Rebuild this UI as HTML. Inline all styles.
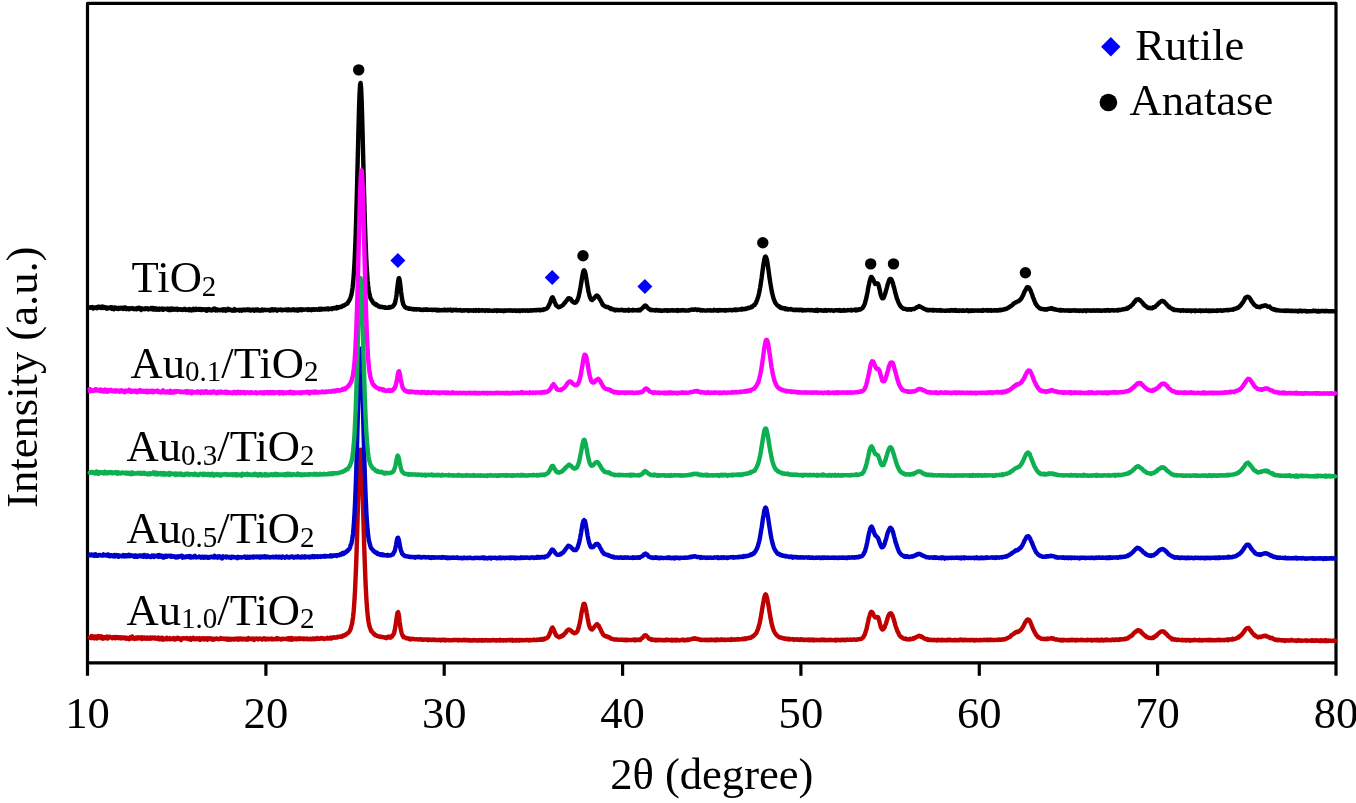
<!DOCTYPE html>
<html lang="en">
<head>
<meta charset="utf-8">
<title>XRD patterns</title>
<style>
html,body{margin:0;padding:0;background:#fff;}
body{width:1356px;height:803px;overflow:hidden;}
svg{display:block;}
</style>
</head>
<body>
<svg width="1356" height="803" viewBox="0 0 1356 803">
<rect x="0" y="0" width="1356" height="803" fill="#ffffff"/>
<g fill="none" stroke="#000" stroke-width="3.2" stroke-linejoin="round" stroke-linecap="butt">
<path d="M87.5 675.8V3.4H1336.0V675.8"/>
<path d="M87.5 662.8H1336.0"/>
<path d="M265.9 662.8V675.8"/>
<path d="M444.2 662.8V675.8"/>
<path d="M622.6 662.8V675.8"/>
<path d="M800.9 662.8V675.8"/>
<path d="M979.3 662.8V675.8"/>
<path d="M1157.6 662.8V675.8"/>
</g>
<g fill="none" stroke-width="4.4" stroke-linejoin="round" stroke-linecap="round">
<path stroke="#000000" d="M89.6 307.6 90.1 307.8 90.6 307.5 91.1 307.2 91.6 307.4 92.1 307.1 92.6 307.7 93.1 308.4 93.6 307.4 94.1 307.4 94.6 308.0 95.1 307.9 95.6 307.8 96.1 307.3 96.6 307.8 97.1 308.2 97.6 307.1 98.1 307.6 98.6 306.8 99.1 307.1 99.6 306.8 100.1 307.7 100.6 307.2 101.1 308.0 101.6 308.0 102.1 307.8 102.6 306.5 103.1 307.6 103.6 307.9 104.1 308.0 104.6 307.1 105.1 307.7 105.6 307.4 106.1 307.5 106.6 308.6 107.1 307.6 107.6 308.0 108.1 308.5 108.6 307.7 109.1 308.0 109.6 308.1 110.1 308.1 110.6 307.4 111.1 308.1 111.6 308.8 112.1 307.3 112.6 308.6 113.1 308.2 113.6 307.8 114.1 309.2 114.6 308.6 115.1 307.5 115.6 308.2 116.1 308.5 116.6 308.1 117.1 308.6 117.6 308.2 118.1 308.6 118.6 309.0 119.1 307.9 119.6 308.4 120.1 308.0 120.6 308.4 121.1 307.7 121.6 308.0 122.1 308.2 122.6 308.8 123.1 309.0 123.6 307.7 124.1 308.0 124.6 308.7 125.1 307.4 125.6 308.2 126.1 308.4 126.6 309.1 127.1 308.8 127.6 308.3 128.1 308.3 128.6 308.4 129.1 309.3 129.6 308.3 130.1 308.4 130.6 308.7 131.1 308.5 131.6 308.4 132.1 308.0 132.6 308.6 133.1 308.4 133.6 309.2 134.1 308.9 134.6 308.6 135.1 309.0 135.6 308.5 136.1 309.2 136.6 308.7 137.1 309.0 137.6 308.0 138.1 308.9 138.6 307.8 139.1 307.7 139.6 308.6 140.1 308.3 140.6 308.8 141.1 309.9 141.6 308.3 142.1 308.5 142.6 308.9 143.1 309.1 143.6 308.7 144.1 308.7 144.6 309.2 145.1 309.1 145.6 308.3 146.1 308.8 146.6 308.9 147.1 308.4 147.6 309.0 148.1 308.5 148.6 309.4 149.1 309.0 149.6 309.0 150.1 308.7 150.6 308.9 151.1 308.0 151.6 308.4 152.1 309.2 152.6 307.9 153.1 309.4 153.6 308.1 154.1 309.4 154.6 308.6 155.1 309.4 155.6 309.1 156.1 308.3 156.6 309.7 157.1 309.8 157.6 309.0 158.1 308.9 158.6 309.0 159.1 308.6 159.6 309.7 160.1 308.8 160.6 309.1 161.1 308.7 161.6 308.8 162.1 308.5 162.6 309.8 163.1 309.1 163.6 309.6 164.1 309.2 164.6 308.8 165.1 309.0 165.6 308.9 166.1 309.2 166.6 309.0 167.1 309.1 167.6 308.6 168.1 308.8 168.6 310.1 169.1 308.9 169.6 308.7 170.1 309.4 170.6 310.0 171.1 308.6 171.6 309.2 172.1 309.0 172.6 308.5 173.1 309.7 173.6 309.3 174.1 309.4 174.6 309.0 175.1 309.6 175.6 309.1 176.1 309.3 176.6 308.8 177.1 308.8 177.6 310.0 178.1 309.1 178.6 309.5 179.1 309.4 179.6 309.2 180.1 309.2 180.6 309.7 181.1 309.3 181.6 309.4 182.1 309.5 182.6 310.0 183.1 309.8 183.6 309.7 184.1 309.2 184.6 308.8 185.1 309.9 185.6 310.0 186.1 309.4 186.6 309.8 187.1 309.9 187.6 309.9 188.1 310.0 188.6 309.3 189.1 310.3 189.6 309.0 190.1 310.0 190.6 309.8 191.1 310.0 191.6 310.5 192.1 310.3 192.6 309.1 193.1 308.8 193.6 310.0 194.1 309.2 194.6 309.6 195.1 310.0 195.6 308.9 196.1 308.7 196.6 309.8 197.1 309.7 197.6 309.6 198.1 309.7 198.6 309.3 199.1 309.0 199.6 309.6 200.1 309.3 200.6 309.0 201.1 310.0 201.6 309.7 202.1 309.9 202.6 309.3 203.1 309.5 203.6 309.3 204.1 309.4 204.6 309.9 205.1 309.4 205.6 310.0 206.1 310.0 206.6 310.7 207.1 309.2 207.6 310.2 208.1 309.8 208.6 309.8 209.1 309.2 209.6 309.7 210.1 310.2 210.6 309.8 211.1 309.9 211.6 309.8 212.1 310.4 212.6 309.9 213.1 309.0 213.6 309.6 214.1 309.1 214.6 308.5 215.1 309.7 215.6 310.5 216.1 309.9 216.6 309.4 217.1 309.5 217.6 310.4 218.1 310.0 218.6 310.0 219.1 309.9 219.6 310.0 220.1 310.3 220.6 310.2 221.1 310.0 221.6 309.5 222.1 310.2 222.6 309.7 223.1 310.4 223.6 309.4 224.1 309.9 224.6 309.9 225.1 309.4 225.6 310.7 226.1 310.5 226.6 309.8 227.1 310.3 227.6 310.1 228.1 308.9 228.6 310.1 229.1 309.9 229.6 310.0 230.1 309.5 230.6 309.8 231.1 309.9 231.6 310.4 232.1 310.1 232.6 310.0 233.1 310.6 233.6 309.7 234.1 309.8 234.6 309.2 235.1 310.6 235.6 310.3 236.1 310.3 236.6 310.2 237.1 310.0 237.6 310.0 238.1 309.9 238.6 309.9 239.1 310.0 239.6 310.6 240.1 310.2 240.6 309.9 241.1 309.7 241.6 309.7 242.1 310.6 242.6 310.2 243.1 310.0 243.6 309.8 244.1 309.5 244.6 309.9 245.1 310.3 245.6 309.8 246.1 309.9 246.6 309.9 247.1 310.0 247.6 309.4 248.1 309.9 248.6 309.6 249.1 310.3 249.6 309.7 250.1 310.2 250.6 310.5 251.1 309.9 251.6 309.7 252.1 310.0 252.6 310.0 253.1 309.6 253.6 310.1 254.1 310.7 254.6 309.9 255.1 309.9 255.6 309.6 256.1 310.1 256.6 309.5 257.1 309.6 257.6 310.4 258.1 309.6 258.6 310.4 259.1 310.5 259.6 310.1 260.1 310.2 260.6 310.7 261.1 309.9 261.6 309.8 262.1 309.5 262.6 310.0 263.1 310.5 263.6 310.3 264.1 309.6 264.6 309.7 265.1 309.8 265.6 310.1 266.1 309.9 266.6 310.0 267.1 310.1 267.6 309.9 268.1 310.0 268.6 310.0 269.1 309.9 269.6 310.1 270.1 310.6 270.6 310.2 271.1 310.0 271.6 309.4 272.1 310.1 272.6 309.3 273.1 309.5 273.6 310.3 274.1 310.2 274.6 309.9 275.1 309.4 275.6 309.8 276.1 309.7 276.6 310.2 277.1 310.7 277.6 310.0 278.1 309.7 278.6 309.6 279.1 309.9 279.6 309.9 280.1 309.6 280.6 310.0 281.1 309.6 281.6 310.3 282.1 310.3 282.6 310.3 283.1 309.8 283.6 310.1 284.1 309.9 284.6 309.8 285.1 309.8 285.6 309.5 286.1 309.5 286.6 310.2 287.1 309.9 287.6 310.0 288.1 310.3 288.6 309.4 289.1 309.7 289.6 310.0 290.1 310.0 290.6 309.8 291.1 310.2 291.6 310.0 292.1 309.5 292.6 309.6 293.1 310.1 293.6 310.0 294.1 309.3 294.6 310.3 295.1 310.1 295.6 310.3 296.1 309.7 296.6 309.8 297.1 309.5 297.6 310.6 298.1 309.8 298.6 310.3 299.1 309.6 299.6 309.9 300.1 309.3 300.6 309.7 301.1 310.1 301.6 309.4 302.1 310.1 302.6 309.9 303.1 309.4 303.6 309.6 304.1 309.6 304.6 309.7 305.1 309.6 305.6 309.5 306.1 309.6 306.6 309.4 307.1 309.3 307.6 309.7 308.1 310.0 308.6 309.2 309.1 309.7 309.6 309.5 310.1 309.4 310.6 309.9 311.1 309.5 311.6 310.1 312.1 309.4 312.6 309.7 313.1 309.5 313.6 309.3 314.1 309.7 314.6 309.5 315.1 309.7 315.6 309.5 316.1 309.2 316.6 309.4 317.1 309.5 317.6 309.7 318.1 309.2 318.6 309.4 319.1 308.9 319.6 309.6 320.1 309.0 320.6 308.8 321.1 309.3 321.6 309.6 322.1 308.8 322.6 308.9 323.1 309.0 323.6 308.9 324.1 309.3 324.6 308.9 325.1 308.9 325.6 309.2 326.1 308.8 326.6 309.1 327.1 308.7 327.6 308.6 328.1 308.4 328.6 309.4 329.1 308.7 329.6 308.9 330.1 308.7 330.6 308.7 331.1 308.7 331.6 309.1 332.1 308.3 332.6 308.1 333.1 308.1 333.6 308.0 334.1 308.5 334.6 308.4 335.1 307.9 335.6 307.7 336.1 307.9 336.6 308.3 337.1 307.0 337.6 307.8 338.1 307.3 338.6 307.8 339.1 307.1 339.6 307.1 340.1 306.7 340.6 306.7 341.1 307.1 341.6 306.8 342.1 306.3 342.6 306.0 343.1 305.5 343.6 305.6 344.1 305.5 344.6 305.2 345.1 304.9 345.6 304.3 346.1 304.2 346.6 303.8 347.1 303.7 347.6 303.3 348.1 302.2 348.6 301.4 349.1 300.8 349.6 299.8 350.1 298.7 350.6 297.5 351.1 295.6 351.6 293.9 352.1 290.9 352.6 287.5 353.1 282.8 353.6 276.9 354.1 269.5 354.6 260.6 355.1 249.5 355.6 236.5 356.1 221.1 356.6 203.4 357.1 184.8 357.6 164.2 358.1 143.8 358.6 124.2 359.1 106.1 359.6 93.0 360.1 84.7 360.6 82.9 361.1 87.9 361.6 99.1 362.1 114.8 362.6 133.8 363.1 154.0 363.6 174.7 364.1 194.1 364.6 212.7 365.1 229.0 365.6 243.2 366.1 255.2 366.6 265.5 367.1 273.1 367.6 280.2 368.1 285.3 368.6 289.3 369.1 292.4 369.6 294.6 370.1 296.6 370.6 298.3 371.1 299.4 371.6 300.3 372.1 300.7 372.6 301.9 373.1 302.7 373.6 303.2 374.1 303.5 374.6 303.5 375.1 304.5 375.6 304.5 376.1 304.3 376.6 305.3 377.1 305.1 377.6 305.3 378.1 305.7 378.6 306.4 379.1 306.2 379.6 306.5 380.1 307.0 380.6 307.1 381.1 306.8 381.6 306.9 382.1 306.8 382.6 307.0 383.1 307.3 383.6 307.4 384.1 307.4 384.6 307.7 385.1 307.3 385.6 307.5 386.1 307.7 386.6 307.7 387.1 307.9 387.6 307.7 388.1 307.5 388.6 307.7 389.1 307.3 389.6 307.1 390.1 307.6 390.6 307.3 391.1 307.3 391.6 306.7 392.1 306.8 392.6 306.5 393.1 306.1 393.6 305.2 394.1 304.9 394.6 304.1 395.1 302.5 395.6 300.2 396.1 297.6 396.6 294.3 397.1 289.4 397.6 285.5 398.1 281.5 398.6 278.6 399.1 278.1 399.6 279.7 400.1 283.2 400.6 287.6 401.1 292.1 401.6 295.7 402.1 299.0 402.6 301.8 403.1 303.9 403.6 304.8 404.1 305.8 404.6 306.5 405.1 307.3 405.6 307.3 406.1 308.0 406.6 307.7 407.1 308.0 407.6 308.2 408.1 308.5 408.6 308.7 409.1 308.3 409.6 308.5 410.1 308.8 410.6 308.7 411.1 308.6 411.6 309.2 412.1 309.1 412.6 309.2 413.1 309.0 413.6 309.4 414.1 309.1 414.6 309.5 415.1 309.1 415.6 309.1 416.1 309.4 416.6 309.2 417.1 309.5 417.6 309.4 418.1 309.2 418.6 309.4 419.1 309.4 419.6 309.7 420.1 309.3 420.6 309.4 421.1 309.8 421.6 310.0 422.1 310.0 422.6 309.6 423.1 309.6 423.6 309.9 424.1 309.6 424.6 309.4 425.1 309.7 425.6 309.8 426.1 309.5 426.6 309.3 427.1 309.4 427.6 309.9 428.1 309.6 428.6 309.7 429.1 309.8 429.6 309.9 430.1 309.7 430.6 309.9 431.1 309.6 431.6 309.7 432.1 309.6 432.6 310.1 433.1 309.8 433.6 309.7 434.1 309.8 434.6 309.8 435.1 310.0 435.6 309.6 436.1 309.7 436.6 309.8 437.1 310.5 437.6 310.1 438.1 309.9 438.6 310.1 439.1 310.4 439.6 309.9 440.1 309.9 440.6 310.3 441.1 310.1 441.6 310.2 442.1 309.9 442.6 310.4 443.1 310.4 443.6 310.2 444.1 310.2 444.6 309.6 445.1 310.2 445.6 310.0 446.1 310.2 446.6 310.2 447.1 310.0 447.6 309.7 448.1 310.2 448.6 310.0 449.1 310.1 449.6 310.0 450.1 310.1 450.6 309.7 451.1 310.4 451.6 310.2 452.1 310.4 452.6 310.6 453.1 310.2 453.6 309.8 454.1 310.0 454.6 310.0 455.1 310.1 455.6 310.2 456.1 309.8 456.6 310.3 457.1 309.9 457.6 310.3 458.1 310.2 458.6 310.2 459.1 310.3 459.6 310.2 460.1 310.1 460.6 309.9 461.1 310.3 461.6 310.7 462.1 310.7 462.6 310.6 463.1 310.5 463.6 310.2 464.1 310.6 464.6 310.3 465.1 310.3 465.6 310.3 466.1 310.4 466.6 310.3 467.1 310.3 467.6 310.1 468.1 310.3 468.6 310.9 469.1 310.4 469.6 310.3 470.1 310.5 470.6 310.6 471.1 310.2 471.6 310.4 472.1 310.6 472.6 310.5 473.1 310.5 473.6 310.8 474.1 310.3 474.6 310.5 475.1 310.3 475.6 310.8 476.1 310.1 476.6 310.3 477.1 310.4 477.6 310.6 478.1 310.6 478.6 310.8 479.1 310.2 479.6 310.7 480.1 310.4 480.6 310.4 481.1 310.6 481.6 310.3 482.1 310.1 482.6 310.5 483.1 310.2 483.6 310.4 484.1 310.6 484.6 310.6 485.1 310.9 485.6 310.5 486.1 310.2 486.6 310.4 487.1 310.4 487.6 310.3 488.1 310.7 488.6 310.5 489.1 310.2 489.6 310.7 490.1 310.6 490.6 310.7 491.1 310.6 491.6 310.7 492.1 310.6 492.6 310.9 493.1 310.7 493.6 310.7 494.1 310.7 494.6 310.3 495.1 310.6 495.6 310.6 496.1 310.7 496.6 310.4 497.1 311.0 497.6 310.7 498.1 310.4 498.6 310.3 499.1 310.6 499.6 310.7 500.1 310.5 500.6 310.7 501.1 310.5 501.6 310.8 502.1 310.5 502.6 310.7 503.1 310.9 503.6 311.2 504.1 310.5 504.6 310.6 505.1 310.5 505.6 310.8 506.1 310.4 506.6 310.6 507.1 310.6 507.6 310.4 508.1 310.4 508.6 310.5 509.1 310.2 509.6 310.3 510.1 310.5 510.6 310.7 511.1 310.6 511.6 310.3 512.1 310.5 512.6 310.8 513.1 310.7 513.6 310.6 514.1 310.4 514.6 310.7 515.1 310.5 515.6 310.4 516.1 310.4 516.6 310.9 517.1 310.6 517.6 310.8 518.1 310.5 518.6 310.8 519.1 310.4 519.6 310.5 520.1 311.1 520.6 310.7 521.1 310.4 521.6 310.5 522.1 310.6 522.6 310.8 523.1 310.4 523.6 310.2 524.1 310.4 524.6 310.5 525.1 310.5 525.6 310.7 526.1 310.5 526.6 310.6 527.1 310.2 527.6 310.6 528.1 310.9 528.6 310.6 529.1 310.5 529.6 310.4 530.1 310.7 530.6 310.2 531.1 310.3 531.6 310.4 532.1 310.5 532.6 310.2 533.1 310.4 533.6 310.2 534.1 310.3 534.6 310.2 535.1 310.0 535.6 310.2 536.1 310.4 536.6 310.0 537.1 310.1 537.6 310.2 538.1 309.9 538.6 310.1 539.1 309.8 539.6 310.2 540.1 310.4 540.6 310.3 541.1 309.8 541.6 309.9 542.1 309.8 542.6 309.7 543.1 309.9 543.6 309.2 544.1 309.6 544.6 309.3 545.1 309.4 545.6 309.0 546.1 308.6 546.6 308.5 547.1 308.2 547.6 307.6 548.1 307.0 548.6 306.0 549.1 304.7 549.6 304.1 550.1 302.7 550.6 301.1 551.1 299.6 551.6 298.5 552.1 297.4 552.6 297.3 553.1 298.0 553.6 299.4 554.1 300.2 554.6 302.1 555.1 303.0 555.6 304.0 556.1 305.4 556.6 305.8 557.1 306.0 557.6 306.5 558.1 307.0 558.6 307.2 559.1 306.8 559.6 306.9 560.1 306.9 560.6 306.4 561.1 306.4 561.6 306.0 562.1 305.6 562.6 305.2 563.1 304.9 563.6 304.3 564.1 303.6 564.6 303.0 565.1 302.7 565.6 301.8 566.1 301.2 566.6 300.6 567.1 299.8 567.6 299.6 568.1 298.5 568.6 298.6 569.1 298.3 569.6 298.9 570.1 299.2 570.6 298.9 571.1 299.6 571.6 300.5 572.1 301.1 572.6 301.6 573.1 301.9 573.6 302.3 574.1 302.6 574.6 302.6 575.1 302.8 575.6 302.0 576.1 302.2 576.6 301.3 577.1 300.9 577.6 299.6 578.1 298.1 578.6 296.7 579.1 294.4 579.6 292.0 580.1 289.3 580.6 286.7 581.1 283.7 581.6 280.6 582.1 277.3 582.6 274.7 583.1 272.3 583.6 270.7 584.1 270.3 584.6 270.9 585.1 272.1 585.6 274.3 586.1 277.2 586.6 280.3 587.1 283.3 587.6 286.7 588.1 289.3 588.6 292.0 589.1 294.0 589.6 296.1 590.1 297.5 590.6 298.4 591.1 299.6 591.6 299.7 592.1 300.0 592.6 299.7 593.1 299.0 593.6 298.6 594.1 298.2 594.6 297.5 595.1 297.0 595.6 296.4 596.1 295.8 596.6 295.9 597.1 295.5 597.6 296.2 598.1 296.4 598.6 297.0 599.1 297.9 599.6 298.9 600.1 299.5 600.6 300.4 601.1 301.5 601.6 302.2 602.1 303.3 602.6 304.6 603.1 304.7 603.6 305.6 604.1 305.6 604.6 306.3 605.1 306.4 605.6 306.6 606.1 306.8 606.6 307.1 607.1 306.9 607.6 307.0 608.1 307.0 608.6 307.5 609.1 307.6 609.6 308.1 610.1 308.3 610.6 308.9 611.1 308.4 611.6 309.0 612.1 309.4 612.6 309.3 613.1 309.4 613.6 309.6 614.1 309.5 614.6 309.8 615.1 310.4 615.6 310.1 616.1 309.7 616.6 309.8 617.1 309.9 617.6 310.2 618.1 309.9 618.6 309.9 619.1 310.3 619.6 310.3 620.1 310.1 620.6 309.9 621.1 309.9 621.6 310.0 622.1 309.7 622.6 310.3 623.1 310.1 623.6 310.3 624.1 310.6 624.6 310.5 625.1 310.0 625.6 310.4 626.1 310.5 626.6 310.1 627.1 310.1 627.6 310.2 628.1 309.9 628.6 310.6 629.1 309.8 629.6 310.1 630.1 310.2 630.6 310.2 631.1 310.3 631.6 310.3 632.1 310.2 632.6 310.5 633.1 309.8 633.6 310.3 634.1 310.1 634.6 310.3 635.1 310.3 635.6 310.1 636.1 310.1 636.6 310.4 637.1 310.3 637.6 310.0 638.1 310.5 638.6 310.5 639.1 309.7 639.6 310.0 640.1 310.3 640.6 309.7 641.1 309.3 641.6 308.9 642.1 308.4 642.6 308.0 643.1 307.4 643.6 307.1 644.1 306.3 644.6 305.9 645.1 305.5 645.6 305.8 646.1 305.9 646.6 306.5 647.1 307.3 647.6 307.7 648.1 308.3 648.6 308.7 649.1 309.1 649.6 309.4 650.1 309.6 650.6 310.0 651.1 309.8 651.6 310.3 652.1 310.2 652.6 310.0 653.1 310.1 653.6 310.1 654.1 310.3 654.6 310.2 655.1 310.6 655.6 310.2 656.1 309.9 656.6 310.2 657.1 310.0 657.6 310.4 658.1 310.6 658.6 310.5 659.1 310.1 659.6 310.3 660.1 310.8 660.6 310.5 661.1 310.4 661.6 310.7 662.1 310.9 662.6 310.7 663.1 310.5 663.6 310.5 664.1 310.6 664.6 310.3 665.1 310.3 665.6 310.5 666.1 310.3 666.6 310.5 667.1 310.5 667.6 310.9 668.1 310.3 668.6 310.5 669.1 310.4 669.6 310.6 670.1 310.7 670.6 310.4 671.1 310.3 671.6 310.2 672.1 310.3 672.6 310.6 673.1 310.5 673.6 310.3 674.1 310.4 674.6 310.5 675.1 310.6 675.6 310.4 676.1 310.4 676.6 310.1 677.1 310.2 677.6 310.8 678.1 310.0 678.6 310.4 679.1 310.5 679.6 310.4 680.1 310.3 680.6 310.5 681.1 310.5 681.6 310.4 682.1 310.1 682.6 310.4 683.1 310.3 683.6 310.3 684.1 310.5 684.6 310.6 685.1 310.6 685.6 310.3 686.1 310.6 686.6 310.6 687.1 310.6 687.6 310.6 688.1 310.3 688.6 310.2 689.1 310.4 689.6 309.9 690.1 310.1 690.6 309.9 691.1 309.9 691.6 309.5 692.1 309.6 692.6 309.7 693.1 309.8 693.6 309.8 694.1 309.5 694.6 309.4 695.1 309.3 695.6 309.6 696.1 309.5 696.6 309.7 697.1 310.0 697.6 309.7 698.1 309.5 698.6 309.7 699.1 309.7 699.6 309.8 700.1 310.4 700.6 310.2 701.1 309.9 701.6 310.4 702.1 310.5 702.6 310.2 703.1 310.2 703.6 310.3 704.1 310.4 704.6 310.5 705.1 310.6 705.6 310.6 706.1 310.6 706.6 310.6 707.1 310.5 707.6 310.1 708.1 310.3 708.6 310.4 709.1 310.3 709.6 310.5 710.1 310.3 710.6 310.2 711.1 310.6 711.6 310.5 712.1 310.4 712.6 310.5 713.1 310.6 713.6 310.4 714.1 309.8 714.6 310.2 715.1 310.2 715.6 310.1 716.1 310.4 716.6 310.6 717.1 310.2 717.6 310.1 718.1 310.7 718.6 310.2 719.1 310.0 719.6 310.3 720.1 310.4 720.6 310.1 721.1 310.4 721.6 310.1 722.1 310.1 722.6 310.3 723.1 310.4 723.6 310.1 724.1 310.3 724.6 310.2 725.1 310.7 725.6 310.0 726.1 310.4 726.6 310.1 727.1 310.1 727.6 310.3 728.1 310.3 728.6 310.3 729.1 310.1 729.6 309.9 730.1 309.9 730.6 310.1 731.1 310.1 731.6 310.3 732.1 310.0 732.6 310.2 733.1 310.2 733.6 309.9 734.1 309.6 734.6 309.6 735.1 309.5 735.6 310.1 736.1 309.6 736.6 310.0 737.1 309.8 737.6 310.0 738.1 309.8 738.6 309.6 739.1 309.5 739.6 309.5 740.1 309.5 740.6 309.3 741.1 309.4 741.6 309.7 742.1 308.9 742.6 309.3 743.1 309.0 743.6 309.1 744.1 309.2 744.6 308.9 745.1 309.0 745.6 308.5 746.1 308.9 746.6 308.5 747.1 308.6 747.6 308.4 748.1 307.7 748.6 307.9 749.1 308.0 749.6 308.1 750.1 307.7 750.6 307.5 751.1 306.9 751.6 307.2 752.1 307.0 752.6 306.4 753.1 306.0 753.6 305.3 754.1 305.3 754.6 305.1 755.1 304.1 755.6 303.4 756.1 302.4 756.6 301.0 757.1 300.3 757.6 298.3 758.1 296.9 758.6 295.1 759.1 293.0 759.6 290.5 760.1 287.8 760.6 284.6 761.1 281.2 761.6 278.1 762.1 274.3 762.6 270.5 763.1 266.9 763.6 263.7 764.1 260.5 764.6 258.3 765.1 256.8 765.6 256.6 766.1 257.2 766.6 259.0 767.1 260.6 767.6 263.7 768.1 267.4 768.6 270.8 769.1 274.4 769.6 278.4 770.1 281.5 770.6 284.5 771.1 287.5 771.6 290.5 772.1 292.9 772.6 294.8 773.1 296.7 773.6 298.7 774.1 300.1 774.6 301.1 775.1 302.4 775.6 303.3 776.1 303.6 776.6 304.5 777.1 305.2 777.6 305.5 778.1 305.6 778.6 306.3 779.1 306.8 779.6 307.3 780.1 306.8 780.6 307.9 781.1 307.4 781.6 308.0 782.1 308.2 782.6 308.3 783.1 308.3 783.6 308.1 784.1 308.6 784.6 308.4 785.1 308.2 785.6 309.3 786.1 309.0 786.6 309.3 787.1 308.8 787.6 309.4 788.1 309.5 788.6 309.5 789.1 309.3 789.6 309.1 790.1 309.4 790.6 309.0 791.1 309.1 791.6 309.5 792.1 309.4 792.6 309.6 793.1 309.6 793.6 310.1 794.1 310.0 794.6 309.7 795.1 310.0 795.6 309.6 796.1 309.8 796.6 310.0 797.1 309.6 797.6 309.8 798.1 309.7 798.6 310.0 799.1 310.3 799.6 309.8 800.1 310.1 800.6 309.8 801.1 309.8 801.6 309.8 802.1 310.4 802.6 310.6 803.1 310.2 803.6 310.0 804.1 310.3 804.6 310.1 805.1 310.3 805.6 310.2 806.1 310.2 806.6 310.3 807.1 310.1 807.6 310.1 808.1 309.9 808.6 310.1 809.1 310.0 809.6 310.2 810.1 310.1 810.6 310.3 811.1 310.4 811.6 310.0 812.1 310.1 812.6 310.1 813.1 310.4 813.6 310.6 814.1 310.5 814.6 310.2 815.1 310.6 815.6 310.0 816.1 310.6 816.6 310.2 817.1 309.8 817.6 310.9 818.1 310.7 818.6 310.1 819.1 310.4 819.6 310.3 820.1 310.4 820.6 310.1 821.1 310.2 821.6 310.5 822.1 310.4 822.6 310.6 823.1 310.4 823.6 310.8 824.1 310.2 824.6 310.4 825.1 310.0 825.6 310.1 826.1 310.7 826.6 310.2 827.1 310.5 827.6 310.4 828.1 310.2 828.6 310.3 829.1 310.3 829.6 310.3 830.1 310.5 830.6 310.5 831.1 310.3 831.6 310.2 832.1 310.4 832.6 310.4 833.1 310.6 833.6 310.9 834.1 310.6 834.6 310.4 835.1 310.3 835.6 310.2 836.1 310.2 836.6 310.2 837.1 310.3 837.6 310.3 838.1 310.5 838.6 310.3 839.1 310.3 839.6 310.1 840.1 310.7 840.6 310.4 841.1 310.7 841.6 310.5 842.1 310.6 842.6 310.3 843.1 310.5 843.6 310.8 844.1 310.1 844.6 310.5 845.1 310.6 845.6 310.4 846.1 310.4 846.6 310.5 847.1 310.1 847.6 310.3 848.1 310.0 848.6 310.1 849.1 310.1 849.6 310.2 850.1 310.2 850.6 310.2 851.1 309.8 851.6 310.5 852.1 310.3 852.6 310.2 853.1 310.0 853.6 310.0 854.1 310.1 854.6 310.1 855.1 309.6 855.6 310.1 856.1 310.5 856.6 309.5 857.1 310.0 857.6 309.8 858.1 309.7 858.6 309.9 859.1 309.3 859.6 309.5 860.1 309.6 860.6 309.1 861.1 308.8 861.6 308.7 862.1 308.2 862.6 308.1 863.1 307.0 863.6 306.6 864.1 305.2 864.6 304.4 865.1 302.7 865.6 300.5 866.1 299.0 866.6 296.5 867.1 294.2 867.6 291.9 868.1 288.7 868.6 286.0 869.1 283.9 869.6 281.3 870.1 279.7 870.6 278.0 871.1 277.0 871.6 277.0 872.1 277.6 872.6 278.4 873.1 279.4 873.6 280.7 874.1 281.8 874.6 282.7 875.1 283.9 875.6 283.7 876.1 283.4 876.6 283.3 877.1 283.3 877.6 283.4 878.1 284.0 878.6 285.3 879.1 287.4 879.6 289.4 880.1 291.8 880.6 294.4 881.1 295.9 881.6 297.3 882.1 298.3 882.6 298.4 883.1 298.1 883.6 297.9 884.1 296.7 884.6 295.2 885.1 294.0 885.6 292.2 886.1 290.2 886.6 288.6 887.1 286.7 887.6 284.5 888.1 283.2 888.6 281.7 889.1 280.4 889.6 279.2 890.1 279.0 890.6 278.9 891.1 279.2 891.6 279.7 892.1 281.2 892.6 282.2 893.1 284.0 893.6 286.2 894.1 287.7 894.6 289.7 895.1 292.0 895.6 293.6 896.1 295.5 896.6 297.3 897.1 299.1 897.6 299.9 898.1 301.5 898.6 302.7 899.1 303.7 899.6 304.7 900.1 305.5 900.6 306.4 901.1 306.7 901.6 307.4 902.1 307.8 902.6 307.9 903.1 308.4 903.6 308.9 904.1 308.8 904.6 308.8 905.1 309.0 905.6 309.0 906.1 309.3 906.6 309.5 907.1 309.2 907.6 309.4 908.1 309.7 908.6 309.4 909.1 309.5 909.6 309.3 910.1 309.3 910.6 309.3 911.1 309.8 911.6 309.3 912.1 309.2 912.6 309.1 913.1 309.0 913.6 309.0 914.1 308.7 914.6 308.9 915.1 308.3 915.6 308.3 916.1 307.8 916.6 307.6 917.1 306.9 917.6 306.9 918.1 306.7 918.6 306.6 919.1 306.1 919.6 306.8 920.1 306.6 920.6 306.8 921.1 307.1 921.6 307.4 922.1 307.8 922.6 307.8 923.1 308.1 923.6 308.7 924.1 308.9 924.6 309.0 925.1 309.2 925.6 309.3 926.1 309.6 926.6 310.0 927.1 309.7 927.6 310.3 928.1 310.2 928.6 310.0 929.1 310.3 929.6 309.9 930.1 309.9 930.6 310.0 931.1 310.2 931.6 310.2 932.1 310.2 932.6 310.4 933.1 309.9 933.6 310.5 934.1 310.1 934.6 310.3 935.1 310.3 935.6 310.2 936.1 310.2 936.6 310.2 937.1 310.5 937.6 310.6 938.1 310.6 938.6 310.3 939.1 310.3 939.6 310.3 940.1 310.6 940.6 310.1 941.1 310.8 941.6 310.4 942.1 310.4 942.6 310.6 943.1 310.7 943.6 310.6 944.1 310.7 944.6 310.6 945.1 310.8 945.6 310.8 946.1 310.5 946.6 310.8 947.1 310.6 947.6 310.6 948.1 310.4 948.6 310.5 949.1 310.7 949.6 310.3 950.1 310.7 950.6 310.6 951.1 310.6 951.6 310.1 952.1 310.6 952.6 310.7 953.1 310.4 953.6 310.6 954.1 310.1 954.6 310.7 955.1 310.5 955.6 310.8 956.1 310.2 956.6 310.7 957.1 310.5 957.6 310.8 958.1 310.4 958.6 310.5 959.1 311.0 959.6 310.4 960.1 310.5 960.6 310.5 961.1 310.4 961.6 310.8 962.1 310.9 962.6 310.5 963.1 310.3 963.6 310.8 964.1 310.8 964.6 310.8 965.1 310.8 965.6 310.4 966.1 310.6 966.6 310.3 967.1 310.3 967.6 310.8 968.1 310.5 968.6 311.1 969.1 310.6 969.6 310.5 970.1 310.8 970.6 311.0 971.1 310.7 971.6 310.3 972.1 310.7 972.6 310.9 973.1 310.5 973.6 310.4 974.1 310.8 974.6 310.6 975.1 310.4 975.6 310.5 976.1 310.4 976.6 310.6 977.1 310.6 977.6 310.8 978.1 310.7 978.6 310.2 979.1 310.6 979.6 310.7 980.1 310.6 980.6 310.7 981.1 310.4 981.6 310.3 982.1 310.7 982.6 310.3 983.1 310.1 983.6 310.7 984.1 310.4 984.6 310.4 985.1 310.2 985.6 310.2 986.1 310.3 986.6 310.4 987.1 310.6 987.6 310.0 988.1 310.6 988.6 310.2 989.1 310.2 989.6 310.6 990.1 310.4 990.6 310.1 991.1 310.8 991.6 310.2 992.1 310.4 992.6 310.4 993.1 310.6 993.6 310.3 994.1 310.5 994.6 310.2 995.1 310.5 995.6 310.1 996.1 310.2 996.6 310.6 997.1 310.3 997.6 310.2 998.1 310.6 998.6 310.2 999.1 310.0 999.6 310.2 1000.1 309.8 1000.6 310.2 1001.1 310.2 1001.6 309.8 1002.1 309.7 1002.6 309.8 1003.1 309.7 1003.6 309.4 1004.1 309.6 1004.6 309.0 1005.1 309.2 1005.6 309.1 1006.1 308.9 1006.6 308.8 1007.1 308.3 1007.6 308.4 1008.1 308.0 1008.6 307.6 1009.1 307.1 1009.6 306.8 1010.1 306.8 1010.6 306.1 1011.1 305.9 1011.6 305.7 1012.1 305.2 1012.6 304.9 1013.1 304.1 1013.6 303.5 1014.1 303.5 1014.6 303.0 1015.1 302.9 1015.6 302.3 1016.1 302.3 1016.6 302.0 1017.1 301.8 1017.6 301.5 1018.1 301.3 1018.6 301.0 1019.1 300.7 1019.6 300.5 1020.1 299.7 1020.6 299.6 1021.1 298.6 1021.6 298.1 1022.1 297.0 1022.6 296.0 1023.1 295.4 1023.6 293.9 1024.1 292.6 1024.6 291.5 1025.1 290.5 1025.6 290.0 1026.1 288.7 1026.6 288.0 1027.1 287.1 1027.6 287.1 1028.1 287.1 1028.6 287.6 1029.1 287.6 1029.6 288.7 1030.1 289.6 1030.6 290.5 1031.1 292.0 1031.6 293.3 1032.1 294.2 1032.6 296.2 1033.1 297.6 1033.6 298.7 1034.1 299.8 1034.6 301.5 1035.1 302.4 1035.6 303.5 1036.1 304.5 1036.6 304.9 1037.1 305.9 1037.6 306.3 1038.1 306.9 1038.6 307.3 1039.1 307.7 1039.6 308.3 1040.1 308.4 1040.6 308.6 1041.1 308.7 1041.6 309.0 1042.1 308.9 1042.6 309.1 1043.1 309.2 1043.6 309.2 1044.1 309.3 1044.6 309.2 1045.1 309.7 1045.6 309.6 1046.1 309.3 1046.6 309.2 1047.1 309.5 1047.6 309.1 1048.1 308.9 1048.6 308.8 1049.1 308.7 1049.6 308.8 1050.1 308.4 1050.6 308.8 1051.1 308.2 1051.6 308.5 1052.1 308.3 1052.6 309.0 1053.1 308.7 1053.6 308.9 1054.1 309.3 1054.6 309.5 1055.1 309.2 1055.6 309.5 1056.1 309.4 1056.6 309.8 1057.1 309.9 1057.6 309.9 1058.1 310.0 1058.6 310.1 1059.1 310.1 1059.6 310.4 1060.1 310.6 1060.6 309.9 1061.1 310.3 1061.6 310.3 1062.1 310.5 1062.6 310.2 1063.1 310.4 1063.6 310.2 1064.1 310.6 1064.6 310.5 1065.1 310.4 1065.6 310.6 1066.1 310.4 1066.6 310.2 1067.1 310.6 1067.6 310.6 1068.1 310.5 1068.6 310.7 1069.1 310.8 1069.6 310.3 1070.1 310.4 1070.6 310.9 1071.1 310.8 1071.6 310.4 1072.1 310.3 1072.6 310.4 1073.1 310.5 1073.6 310.3 1074.1 310.6 1074.6 310.3 1075.1 310.3 1075.6 310.8 1076.1 310.4 1076.6 310.6 1077.1 310.7 1077.6 310.8 1078.1 310.5 1078.6 310.6 1079.1 310.4 1079.6 310.9 1080.1 310.7 1080.6 310.4 1081.1 310.6 1081.6 310.7 1082.1 310.7 1082.6 311.0 1083.1 310.9 1083.6 310.5 1084.1 310.6 1084.6 310.3 1085.1 310.7 1085.6 310.6 1086.1 311.1 1086.6 310.6 1087.1 310.2 1087.6 310.5 1088.1 310.6 1088.6 310.4 1089.1 310.4 1089.6 310.5 1090.1 310.7 1090.6 310.6 1091.1 310.4 1091.6 310.8 1092.1 310.5 1092.6 310.5 1093.1 310.3 1093.6 310.4 1094.1 310.7 1094.6 310.3 1095.1 310.6 1095.6 310.7 1096.1 310.5 1096.6 310.6 1097.1 310.3 1097.6 310.8 1098.1 310.8 1098.6 310.6 1099.1 310.2 1099.6 310.3 1100.1 310.7 1100.6 310.9 1101.1 310.6 1101.6 310.8 1102.1 310.4 1102.6 310.5 1103.1 310.5 1103.6 310.6 1104.1 310.2 1104.6 310.7 1105.1 310.8 1105.6 310.3 1106.1 310.2 1106.6 310.5 1107.1 310.3 1107.6 310.0 1108.1 310.6 1108.6 310.5 1109.1 310.3 1109.6 310.8 1110.1 310.4 1110.6 310.2 1111.1 310.4 1111.6 310.1 1112.1 310.2 1112.6 310.4 1113.1 310.2 1113.6 310.2 1114.1 310.6 1114.6 310.4 1115.1 310.4 1115.6 310.3 1116.1 310.3 1116.6 310.4 1117.1 310.1 1117.6 310.5 1118.1 309.9 1118.6 310.0 1119.1 309.7 1119.6 309.9 1120.1 310.0 1120.6 310.1 1121.1 309.7 1121.6 309.7 1122.1 309.6 1122.6 309.4 1123.1 309.3 1123.6 309.4 1124.1 309.0 1124.6 309.2 1125.1 309.1 1125.6 308.8 1126.1 308.6 1126.6 308.3 1127.1 308.8 1127.6 307.9 1128.1 308.2 1128.6 307.8 1129.1 307.3 1129.6 306.8 1130.1 306.8 1130.6 306.6 1131.1 305.6 1131.6 305.2 1132.1 305.0 1132.6 304.3 1133.1 304.0 1133.6 302.9 1134.1 302.6 1134.6 301.6 1135.1 301.7 1135.6 300.5 1136.1 299.7 1136.6 299.7 1137.1 299.4 1137.6 299.6 1138.1 299.1 1138.6 299.2 1139.1 299.6 1139.6 300.1 1140.1 300.2 1140.6 300.9 1141.1 301.3 1141.6 301.8 1142.1 302.4 1142.6 303.0 1143.1 303.4 1143.6 304.4 1144.1 304.4 1144.6 305.4 1145.1 305.8 1145.6 306.0 1146.1 306.3 1146.6 306.7 1147.1 307.2 1147.6 307.5 1148.1 307.6 1148.6 308.0 1149.1 307.8 1149.6 308.1 1150.1 307.8 1150.6 308.3 1151.1 308.2 1151.6 308.0 1152.1 308.3 1152.6 308.0 1153.1 307.2 1153.6 307.5 1154.1 307.0 1154.6 307.2 1155.1 307.1 1155.6 306.1 1156.1 305.8 1156.6 305.3 1157.1 304.9 1157.6 304.4 1158.1 304.1 1158.6 303.1 1159.1 303.1 1159.6 302.2 1160.1 302.0 1160.6 301.8 1161.1 301.4 1161.6 300.9 1162.1 300.9 1162.6 301.0 1163.1 301.2 1163.6 301.6 1164.1 301.5 1164.6 302.2 1165.1 302.7 1165.6 303.2 1166.1 303.7 1166.6 304.5 1167.1 304.9 1167.6 305.5 1168.1 306.0 1168.6 306.7 1169.1 306.5 1169.6 307.6 1170.1 307.7 1170.6 308.0 1171.1 308.2 1171.6 308.4 1172.1 308.9 1172.6 309.1 1173.1 309.5 1173.6 309.3 1174.1 310.1 1174.6 309.9 1175.1 309.9 1175.6 309.9 1176.1 310.0 1176.6 310.0 1177.1 310.2 1177.6 310.3 1178.1 310.3 1178.6 310.1 1179.1 310.4 1179.6 310.3 1180.1 310.5 1180.6 310.9 1181.1 310.6 1181.6 310.5 1182.1 310.2 1182.6 310.3 1183.1 310.2 1183.6 310.7 1184.1 310.4 1184.6 310.6 1185.1 310.5 1185.6 310.6 1186.1 310.9 1186.6 310.5 1187.1 310.6 1187.6 310.5 1188.1 310.8 1188.6 310.4 1189.1 310.4 1189.6 310.4 1190.1 310.4 1190.6 310.8 1191.1 311.2 1191.6 310.5 1192.1 310.9 1192.6 310.7 1193.1 310.5 1193.6 310.6 1194.1 310.7 1194.6 310.6 1195.1 311.1 1195.6 310.3 1196.1 310.8 1196.6 310.8 1197.1 310.6 1197.6 310.7 1198.1 310.9 1198.6 310.7 1199.1 310.8 1199.6 310.9 1200.1 310.3 1200.6 311.0 1201.1 311.2 1201.6 310.9 1202.1 310.9 1202.6 310.4 1203.1 310.7 1203.6 310.6 1204.1 310.6 1204.6 310.9 1205.1 310.6 1205.6 310.7 1206.1 310.3 1206.6 310.7 1207.1 310.7 1207.6 310.6 1208.1 310.6 1208.6 311.1 1209.1 310.4 1209.6 310.5 1210.1 310.5 1210.6 310.9 1211.1 311.1 1211.6 310.7 1212.1 310.5 1212.6 310.6 1213.1 310.9 1213.6 310.5 1214.1 310.9 1214.6 310.9 1215.1 310.6 1215.6 310.7 1216.1 310.7 1216.6 310.9 1217.1 310.4 1217.6 310.8 1218.1 310.5 1218.6 310.4 1219.1 310.5 1219.6 310.5 1220.1 310.3 1220.6 310.2 1221.1 310.3 1221.6 310.7 1222.1 310.8 1222.6 310.5 1223.1 310.6 1223.6 310.3 1224.1 310.3 1224.6 310.4 1225.1 310.1 1225.6 310.1 1226.1 310.2 1226.6 310.1 1227.1 309.9 1227.6 310.2 1228.1 310.0 1228.6 310.2 1229.1 310.0 1229.6 309.9 1230.1 309.9 1230.6 309.8 1231.1 309.6 1231.6 309.6 1232.1 309.7 1232.6 309.6 1233.1 309.7 1233.6 309.0 1234.1 309.1 1234.6 309.0 1235.1 308.9 1235.6 308.6 1236.1 308.4 1236.6 308.5 1237.1 308.1 1237.6 307.6 1238.1 307.8 1238.6 307.4 1239.1 306.7 1239.6 306.5 1240.1 305.7 1240.6 305.6 1241.1 304.8 1241.6 304.0 1242.1 303.4 1242.6 302.6 1243.1 302.1 1243.6 301.3 1244.1 300.4 1244.6 299.5 1245.1 298.1 1245.6 298.1 1246.1 297.1 1246.6 297.1 1247.1 296.9 1247.6 296.7 1248.1 296.6 1248.6 297.0 1249.1 297.4 1249.6 298.0 1250.1 298.7 1250.6 299.3 1251.1 300.6 1251.6 301.1 1252.1 302.1 1252.6 302.5 1253.1 303.3 1253.6 303.9 1254.1 304.6 1254.6 305.1 1255.1 305.5 1255.6 305.7 1256.1 306.0 1256.6 306.7 1257.1 306.5 1257.6 306.7 1258.1 307.1 1258.6 307.1 1259.1 307.0 1259.6 306.8 1260.1 307.3 1260.6 306.8 1261.1 306.7 1261.6 306.4 1262.1 306.0 1262.6 305.9 1263.1 306.1 1263.6 305.9 1264.1 305.7 1264.6 305.4 1265.1 305.3 1265.6 305.6 1266.1 305.4 1266.6 306.0 1267.1 306.2 1267.6 306.7 1268.1 306.6 1268.6 306.6 1269.1 306.8 1269.6 306.6 1270.1 307.4 1270.6 307.8 1271.1 308.3 1271.6 308.5 1272.1 308.8 1272.6 308.9 1273.1 309.2 1273.6 309.6 1274.1 309.3 1274.6 309.6 1275.1 309.5 1275.6 310.2 1276.1 310.3 1276.6 310.3 1277.1 310.0 1277.6 310.3 1278.1 310.3 1278.6 310.4 1279.1 310.4 1279.6 310.6 1280.1 310.5 1280.6 310.7 1281.1 310.6 1281.6 310.6 1282.1 310.6 1282.6 310.6 1283.1 310.9 1283.6 310.7 1284.1 310.8 1284.6 310.7 1285.1 310.5 1285.6 311.0 1286.1 310.6 1286.6 310.9 1287.1 310.9 1287.6 310.5 1288.1 310.7 1288.6 310.8 1289.1 310.7 1289.6 310.6 1290.1 311.0 1290.6 310.8 1291.1 311.0 1291.6 310.8 1292.1 311.0 1292.6 310.8 1293.1 310.9 1293.6 311.1 1294.1 311.0 1294.6 310.9 1295.1 310.7 1295.6 311.0 1296.1 311.0 1296.6 310.9 1297.1 310.8 1297.6 311.1 1298.1 311.5 1298.6 310.9 1299.1 311.1 1299.6 311.1 1300.1 310.5 1300.6 311.1 1301.1 310.9 1301.6 311.3 1302.1 311.0 1302.6 310.9 1303.1 311.0 1303.6 311.1 1304.1 310.9 1304.6 311.1 1305.1 310.8 1305.6 311.0 1306.1 311.2 1306.6 311.5 1307.1 311.2 1307.6 311.1 1308.1 311.3 1308.6 311.3 1309.1 311.4 1309.6 311.3 1310.1 311.1 1310.6 311.2 1311.1 311.1 1311.6 311.2 1312.1 311.2 1312.6 311.0 1313.1 310.7 1313.6 311.0 1314.1 310.7 1314.6 311.1 1315.1 311.1 1315.6 310.8 1316.1 311.3 1316.6 311.3 1317.1 311.2 1317.6 311.5 1318.1 311.5 1318.6 310.9 1319.1 311.4 1319.6 311.2 1320.1 311.2 1320.6 311.3 1321.1 311.0 1321.6 311.0 1322.1 311.0 1322.6 311.0 1323.1 311.1 1323.6 310.9 1324.1 311.0 1324.6 311.3 1325.1 311.2 1325.6 311.3 1326.1 310.8 1326.6 311.0 1327.1 311.1 1327.6 311.2 1328.1 311.1 1328.6 311.4 1329.1 311.2 1329.6 311.2 1330.1 311.2 1330.6 311.3 1331.1 311.1 1331.6 311.4 1332.1 311.3 1332.6 311.2 1333.1 311.2 1333.6 311.3 1334.1 311.4 1334.6 311.4 1335.1 311.3"/>
<path stroke="#C00000" d="M89.6 637.7 90.1 637.3 90.6 637.9 91.1 637.2 91.6 636.1 92.1 638.0 92.6 637.3 93.1 636.6 93.6 637.2 94.1 636.8 94.6 638.4 95.1 637.6 95.6 636.5 96.1 637.6 96.6 637.1 97.1 638.4 97.6 636.8 98.1 636.1 98.6 637.4 99.1 637.2 99.6 637.2 100.1 636.2 100.6 637.6 101.1 638.3 101.6 636.4 102.1 638.1 102.6 637.1 103.1 638.7 103.6 637.7 104.1 637.4 104.6 638.1 105.1 637.8 105.6 637.2 106.1 637.9 106.6 637.2 107.1 636.6 107.6 638.6 108.1 637.3 108.6 637.2 109.1 637.7 109.6 636.7 110.1 636.8 110.6 637.3 111.1 637.3 111.6 637.6 112.1 638.2 112.6 637.4 113.1 637.9 113.6 638.0 114.1 637.1 114.6 637.8 115.1 637.2 115.6 638.2 116.1 637.9 116.6 637.7 117.1 637.0 117.6 637.8 118.1 637.3 118.6 638.1 119.1 637.7 119.6 637.3 120.1 638.2 120.6 638.1 121.1 637.4 121.6 638.4 122.1 637.6 122.6 637.6 123.1 637.9 123.6 637.4 124.1 637.6 124.6 637.7 125.1 638.6 125.6 638.6 126.1 637.7 126.6 638.7 127.1 637.8 127.6 638.1 128.1 638.3 128.6 638.0 129.1 639.2 129.6 638.0 130.1 637.3 130.6 638.6 131.1 637.7 131.6 637.8 132.1 636.4 132.6 638.5 133.1 638.4 133.6 638.4 134.1 638.5 134.6 638.9 135.1 638.0 135.6 638.5 136.1 637.6 136.6 637.8 137.1 638.6 137.6 638.3 138.1 637.4 138.6 638.3 139.1 638.0 139.6 637.7 140.1 638.3 140.6 637.9 141.1 637.3 141.6 637.5 142.1 639.0 142.6 637.4 143.1 638.3 143.6 638.5 144.1 638.5 144.6 637.5 145.1 638.0 145.6 638.3 146.1 638.6 146.6 637.9 147.1 637.6 147.6 638.7 148.1 638.8 148.6 638.4 149.1 637.9 149.6 638.5 150.1 638.3 150.6 638.7 151.1 637.6 151.6 638.3 152.1 638.2 152.6 637.7 153.1 638.4 153.6 638.3 154.1 638.1 154.6 638.5 155.1 637.6 155.6 638.3 156.1 638.6 156.6 638.5 157.1 638.9 157.6 637.8 158.1 637.6 158.6 638.5 159.1 638.6 159.6 639.4 160.1 638.7 160.6 638.0 161.1 638.8 161.6 638.0 162.1 637.7 162.6 639.7 163.1 638.6 163.6 638.8 164.1 638.7 164.6 639.3 165.1 638.6 165.6 639.1 166.1 638.0 166.6 637.8 167.1 639.2 167.6 639.2 168.1 638.7 168.6 638.6 169.1 638.6 169.6 638.2 170.1 639.3 170.6 638.8 171.1 638.8 171.6 638.7 172.1 639.0 172.6 638.8 173.1 638.9 173.6 638.0 174.1 638.8 174.6 639.6 175.1 638.3 175.6 638.5 176.1 639.0 176.6 639.0 177.1 638.9 177.6 637.8 178.1 638.8 178.6 638.1 179.1 638.2 179.6 638.9 180.1 638.5 180.6 639.0 181.1 640.1 181.6 639.0 182.1 639.0 182.6 638.2 183.1 638.4 183.6 638.2 184.1 638.4 184.6 638.2 185.1 638.4 185.6 638.6 186.1 638.2 186.6 638.0 187.1 638.1 187.6 638.9 188.1 638.8 188.6 639.2 189.1 639.2 189.6 638.6 190.1 639.1 190.6 638.1 191.1 639.8 191.6 639.3 192.1 638.7 192.6 638.3 193.1 639.0 193.6 637.9 194.1 638.4 194.6 639.1 195.1 638.8 195.6 638.6 196.1 639.3 196.6 638.4 197.1 639.0 197.6 638.6 198.1 638.5 198.6 639.1 199.1 638.4 199.6 639.7 200.1 638.6 200.6 639.8 201.1 638.4 201.6 639.2 202.1 638.4 202.6 638.3 203.1 639.0 203.6 639.2 204.1 638.4 204.6 639.5 205.1 638.6 205.6 639.0 206.1 639.1 206.6 639.2 207.1 638.2 207.6 639.7 208.1 639.2 208.6 638.8 209.1 638.5 209.6 638.2 210.1 638.4 210.6 639.2 211.1 638.9 211.6 638.5 212.1 638.8 212.6 639.7 213.1 638.9 213.6 638.8 214.1 639.6 214.6 639.2 215.1 639.1 215.6 638.8 216.1 638.4 216.6 638.5 217.1 638.8 217.6 638.9 218.1 639.2 218.6 639.3 219.1 639.1 219.6 639.1 220.1 638.6 220.6 638.1 221.1 638.8 221.6 638.6 222.1 638.8 222.6 638.9 223.1 638.5 223.6 638.6 224.1 639.0 224.6 639.1 225.1 638.8 225.6 639.2 226.1 638.9 226.6 638.6 227.1 639.0 227.6 639.8 228.1 638.7 228.6 639.5 229.1 639.6 229.6 639.6 230.1 638.7 230.6 639.8 231.1 639.1 231.6 638.9 232.1 638.9 232.6 639.3 233.1 639.0 233.6 638.9 234.1 639.5 234.6 638.7 235.1 638.6 235.6 639.3 236.1 639.3 236.6 639.4 237.1 638.6 237.6 639.4 238.1 639.2 238.6 639.7 239.1 638.5 239.6 639.1 240.1 638.9 240.6 638.4 241.1 638.7 241.6 639.4 242.1 638.8 242.6 638.7 243.1 639.3 243.6 639.4 244.1 639.4 244.6 638.7 245.1 639.0 245.6 639.4 246.1 638.8 246.6 638.7 247.1 639.3 247.6 639.6 248.1 638.6 248.6 638.0 249.1 638.5 249.6 638.6 250.1 638.9 250.6 639.2 251.1 638.9 251.6 638.7 252.1 639.1 252.6 638.6 253.1 639.0 253.6 638.8 254.1 640.0 254.6 639.3 255.1 638.7 255.6 638.6 256.1 638.8 256.6 638.4 257.1 638.7 257.6 638.7 258.1 639.3 258.6 638.8 259.1 638.7 259.6 638.5 260.1 638.6 260.6 639.0 261.1 638.9 261.6 639.4 262.1 638.7 262.6 639.4 263.1 639.1 263.6 639.0 264.1 638.3 264.6 638.5 265.1 639.2 265.6 639.5 266.1 639.0 266.6 639.2 267.1 638.8 267.6 638.8 268.1 638.7 268.6 639.3 269.1 639.1 269.6 638.9 270.1 638.8 270.6 639.1 271.1 639.1 271.6 638.7 272.1 639.5 272.6 639.0 273.1 638.9 273.6 639.4 274.1 639.3 274.6 638.9 275.1 639.1 275.6 638.6 276.1 638.7 276.6 638.2 277.1 639.3 277.6 638.3 278.1 639.2 278.6 638.6 279.1 638.6 279.6 638.9 280.1 639.0 280.6 639.1 281.1 639.5 281.6 639.0 282.1 639.2 282.6 638.7 283.1 639.1 283.6 638.9 284.1 638.7 284.6 638.9 285.1 638.9 285.6 638.9 286.1 639.0 286.6 638.7 287.1 638.6 287.6 639.1 288.1 638.3 288.6 638.7 289.1 639.4 289.6 638.0 290.1 638.6 290.6 639.1 291.1 638.3 291.6 639.7 292.1 638.0 292.6 639.3 293.1 639.4 293.6 639.2 294.1 638.8 294.6 639.0 295.1 638.6 295.6 639.1 296.1 638.5 296.6 638.8 297.1 639.2 297.6 638.5 298.1 638.7 298.6 638.9 299.1 638.4 299.6 639.2 300.1 638.9 300.6 638.4 301.1 638.8 301.6 638.6 302.1 638.6 302.6 638.9 303.1 638.6 303.6 639.1 304.1 638.6 304.6 639.1 305.1 638.8 305.6 639.1 306.1 638.6 306.6 638.7 307.1 638.5 307.6 639.0 308.1 639.1 308.6 639.4 309.1 639.2 309.6 638.9 310.1 638.7 310.6 638.9 311.1 638.8 311.6 639.2 312.1 639.0 312.6 638.5 313.1 638.5 313.6 639.1 314.1 638.8 314.6 638.6 315.1 639.1 315.6 638.6 316.1 638.6 316.6 638.5 317.1 638.1 317.6 638.9 318.1 638.3 318.6 638.5 319.1 638.4 319.6 638.8 320.1 638.6 320.6 638.6 321.1 638.1 321.6 638.5 322.1 638.1 322.6 638.6 323.1 638.6 323.6 638.5 324.1 639.0 324.6 638.6 325.1 638.6 325.6 638.4 326.1 638.3 326.6 638.6 327.1 638.6 327.6 637.9 328.1 638.6 328.6 638.4 329.1 638.5 329.6 638.3 330.1 637.8 330.6 637.8 331.1 638.6 331.6 638.1 332.1 637.6 332.6 638.0 333.1 637.8 333.6 637.3 334.1 637.2 334.6 637.3 335.1 637.8 335.6 637.6 336.1 637.5 336.6 637.6 337.1 637.6 337.6 636.8 338.1 637.2 338.6 636.9 339.1 636.7 339.6 636.8 340.1 636.8 340.6 636.6 341.1 636.2 341.6 636.3 342.1 636.8 342.6 635.8 343.1 635.5 343.6 635.8 344.1 635.7 344.6 635.4 345.1 634.7 345.6 635.0 346.1 634.3 346.6 633.8 347.1 633.6 347.6 633.3 348.1 633.0 348.6 632.5 349.1 631.7 349.6 631.2 350.1 630.0 350.6 629.1 351.1 627.1 351.6 625.3 352.1 623.6 352.6 620.1 353.1 616.6 353.6 611.8 354.1 605.6 354.6 598.0 355.1 589.2 355.6 577.2 356.1 565.3 356.6 551.2 357.1 534.7 357.6 517.8 358.1 500.8 358.6 484.6 359.1 469.1 359.6 458.0 360.1 451.0 360.6 449.8 361.1 453.9 361.6 463.4 362.1 476.3 362.6 492.2 363.1 509.0 363.6 526.1 364.1 542.7 364.6 558.0 365.1 571.4 365.6 584.0 366.1 593.7 366.6 601.8 367.1 609.3 367.6 614.3 368.1 618.9 368.6 622.1 369.1 624.8 369.6 626.7 370.1 628.1 370.6 629.5 371.1 631.0 371.6 630.8 372.1 632.1 372.6 632.7 373.1 632.9 373.6 633.3 374.1 634.5 374.6 634.3 375.1 635.2 375.6 635.1 376.1 635.2 376.6 635.6 377.1 635.8 377.6 636.2 378.1 636.2 378.6 636.3 379.1 636.4 379.6 636.8 380.1 636.8 380.6 636.5 381.1 636.7 381.6 637.0 382.1 636.9 382.6 637.0 383.1 637.0 383.6 637.2 384.1 637.4 384.6 637.6 385.1 637.4 385.6 637.9 386.1 637.4 386.6 638.2 387.1 637.7 387.6 637.6 388.1 637.3 388.6 636.7 389.1 637.3 389.6 637.3 390.1 637.6 390.6 636.7 391.1 637.3 391.6 636.6 392.1 636.5 392.6 635.2 393.1 635.2 393.6 634.1 394.1 632.9 394.6 630.9 395.1 628.1 395.6 625.5 396.1 621.9 396.6 618.1 397.1 614.8 397.6 612.6 398.1 612.2 398.6 613.8 399.1 617.1 399.6 621.6 400.1 625.1 400.6 628.2 401.1 630.7 401.6 632.8 402.1 634.4 402.6 635.4 403.1 636.1 403.6 637.3 404.1 637.2 404.6 637.3 405.1 637.4 405.6 637.8 406.1 638.2 406.6 638.4 407.1 638.3 407.6 638.5 408.1 638.5 408.6 638.4 409.1 639.0 409.6 638.8 410.1 639.4 410.6 638.7 411.1 638.9 411.6 639.2 412.1 638.9 412.6 638.7 413.1 638.9 413.6 639.1 414.1 639.2 414.6 639.1 415.1 639.4 415.6 639.4 416.1 639.3 416.6 639.3 417.1 639.2 417.6 639.4 418.1 639.5 418.6 639.4 419.1 639.5 419.6 639.3 420.1 639.1 420.6 639.2 421.1 639.6 421.6 639.5 422.1 639.8 422.6 639.5 423.1 639.7 423.6 639.8 424.1 639.7 424.6 639.4 425.1 639.5 425.6 639.6 426.1 639.4 426.6 639.7 427.1 639.8 427.6 639.5 428.1 640.1 428.6 639.6 429.1 639.6 429.6 639.6 430.1 639.5 430.6 639.8 431.1 639.7 431.6 640.1 432.1 639.8 432.6 639.8 433.1 639.7 433.6 639.4 434.1 639.7 434.6 639.6 435.1 640.0 435.6 639.8 436.1 640.1 436.6 640.0 437.1 640.0 437.6 639.9 438.1 639.9 438.6 640.0 439.1 640.0 439.6 639.7 440.1 640.0 440.6 640.4 441.1 639.9 441.6 639.8 442.1 639.7 442.6 639.6 443.1 640.2 443.6 639.9 444.1 640.0 444.6 640.3 445.1 640.5 445.6 639.8 446.1 640.2 446.6 640.1 447.1 640.1 447.6 640.1 448.1 640.0 448.6 640.3 449.1 640.1 449.6 640.1 450.1 640.3 450.6 640.2 451.1 640.1 451.6 640.1 452.1 640.4 452.6 640.2 453.1 640.0 453.6 639.9 454.1 640.0 454.6 639.9 455.1 640.1 455.6 640.1 456.1 639.7 456.6 640.1 457.1 640.2 457.6 640.2 458.1 639.9 458.6 640.4 459.1 640.0 459.6 639.9 460.1 639.9 460.6 640.2 461.1 640.4 461.6 640.4 462.1 640.2 462.6 639.9 463.1 640.0 463.6 640.0 464.1 640.2 464.6 639.8 465.1 640.2 465.6 640.4 466.1 640.2 466.6 640.3 467.1 640.0 467.6 639.9 468.1 640.1 468.6 640.5 469.1 640.5 469.6 640.2 470.1 640.5 470.6 640.2 471.1 640.6 471.6 640.4 472.1 640.2 472.6 640.5 473.1 640.1 473.6 640.1 474.1 640.0 474.6 640.4 475.1 640.3 475.6 640.3 476.1 640.2 476.6 640.6 477.1 640.2 477.6 640.2 478.1 640.6 478.6 640.6 479.1 640.4 479.6 640.0 480.1 640.2 480.6 640.4 481.1 640.3 481.6 640.6 482.1 640.0 482.6 640.5 483.1 640.2 483.6 640.6 484.1 640.3 484.6 640.5 485.1 640.2 485.6 640.0 486.1 640.1 486.6 640.2 487.1 640.1 487.6 640.6 488.1 640.6 488.6 640.4 489.1 640.1 489.6 640.3 490.1 640.2 490.6 640.6 491.1 640.4 491.6 640.4 492.1 640.2 492.6 639.9 493.1 640.1 493.6 640.1 494.1 640.4 494.6 640.3 495.1 640.1 495.6 640.2 496.1 640.6 496.6 640.1 497.1 640.1 497.6 640.2 498.1 640.1 498.6 640.2 499.1 640.4 499.6 640.6 500.1 639.9 500.6 640.3 501.1 640.3 501.6 640.3 502.1 640.2 502.6 640.2 503.1 640.5 503.6 640.2 504.1 640.2 504.6 640.3 505.1 640.3 505.6 640.2 506.1 640.5 506.6 640.2 507.1 640.3 507.6 640.2 508.1 640.0 508.6 640.1 509.1 640.0 509.6 640.3 510.1 640.1 510.6 640.0 511.1 640.3 511.6 640.3 512.1 639.9 512.6 640.6 513.1 640.2 513.6 640.2 514.1 640.4 514.6 640.2 515.1 640.1 515.6 640.6 516.1 640.0 516.6 640.2 517.1 640.4 517.6 640.0 518.1 640.2 518.6 640.2 519.1 640.7 519.6 640.0 520.1 640.1 520.6 640.3 521.1 640.2 521.6 639.9 522.1 640.2 522.6 640.2 523.1 640.2 523.6 640.3 524.1 640.3 524.6 640.2 525.1 640.2 525.6 639.9 526.1 640.1 526.6 640.1 527.1 640.0 527.6 640.1 528.1 639.9 528.6 640.4 529.1 640.5 529.6 639.9 530.1 640.1 530.6 640.0 531.1 640.2 531.6 640.1 532.1 640.0 532.6 639.9 533.1 640.0 533.6 639.7 534.1 640.0 534.6 639.7 535.1 640.0 535.6 639.9 536.1 640.1 536.6 639.8 537.1 640.0 537.6 639.6 538.1 639.9 538.6 639.7 539.1 639.7 539.6 639.7 540.1 639.8 540.6 639.1 541.1 639.6 541.6 639.2 542.1 639.6 542.6 638.9 543.1 639.1 543.6 638.8 544.1 639.4 544.6 638.7 545.1 638.9 545.6 638.6 546.1 638.1 546.6 638.1 547.1 638.0 547.6 637.3 548.1 637.0 548.6 635.9 549.1 635.1 549.6 633.9 550.1 632.7 550.6 631.6 551.1 629.9 551.6 628.7 552.1 627.8 552.6 627.6 553.1 628.7 553.6 629.2 554.1 630.5 554.6 632.0 555.1 633.1 555.6 634.7 556.1 634.6 556.6 635.8 557.1 636.4 557.6 636.4 558.1 636.7 558.6 637.0 559.1 637.3 559.6 636.7 560.1 636.5 560.6 636.8 561.1 636.7 561.6 636.1 562.1 635.5 562.6 635.9 563.1 635.1 563.6 635.0 564.1 634.2 564.6 633.6 565.1 633.1 565.6 632.8 566.1 632.2 566.6 630.9 567.1 630.6 567.6 630.6 568.1 629.8 568.6 629.4 569.1 629.7 569.6 629.8 570.1 630.0 570.6 630.3 571.1 630.8 571.6 631.2 572.1 631.9 572.6 632.0 573.1 632.5 573.6 632.8 574.1 633.3 574.6 633.2 575.1 633.1 575.6 633.1 576.1 632.7 576.6 632.3 577.1 631.5 577.6 630.7 578.1 629.4 578.6 627.6 579.1 625.7 579.6 623.8 580.1 621.3 580.6 618.6 581.1 615.5 581.6 612.5 582.1 610.2 582.6 607.7 583.1 605.7 583.6 603.9 584.1 603.8 584.6 604.0 585.1 605.5 585.6 607.5 586.1 609.7 586.6 612.6 587.1 615.1 587.6 618.1 588.1 620.5 588.6 623.2 589.1 625.1 589.6 626.8 590.1 627.9 590.6 628.6 591.1 629.3 591.6 629.3 592.1 629.5 592.6 629.1 593.1 628.3 593.6 627.9 594.1 627.2 594.6 626.4 595.1 626.0 595.6 625.6 596.1 624.8 596.6 624.5 597.1 624.1 597.6 624.7 598.1 625.1 598.6 625.4 599.1 626.7 599.6 627.7 600.1 628.5 600.6 629.6 601.1 630.6 601.6 632.0 602.1 632.5 602.6 633.6 603.1 634.7 603.6 635.0 604.1 635.6 604.6 635.8 605.1 635.9 605.6 636.3 606.1 636.5 606.6 636.3 607.1 636.7 607.6 637.0 608.1 637.2 608.6 636.9 609.1 637.3 609.6 637.4 610.1 638.3 610.6 638.4 611.1 638.7 611.6 638.6 612.1 638.7 612.6 639.1 613.1 639.2 613.6 639.2 614.1 639.4 614.6 639.6 615.1 639.6 615.6 639.4 616.1 639.2 616.6 639.6 617.1 639.7 617.6 639.6 618.1 639.6 618.6 639.6 619.1 639.9 619.6 639.8 620.1 639.8 620.6 639.6 621.1 639.7 621.6 639.8 622.1 639.6 622.6 639.6 623.1 639.8 623.6 640.1 624.1 639.9 624.6 640.2 625.1 639.8 625.6 639.8 626.1 639.6 626.6 639.8 627.1 640.2 627.6 640.0 628.1 640.0 628.6 640.0 629.1 639.9 629.6 639.9 630.1 639.9 630.6 640.0 631.1 640.0 631.6 640.0 632.1 639.9 632.6 639.8 633.1 639.8 633.6 639.7 634.1 640.1 634.6 639.5 635.1 639.8 635.6 640.3 636.1 639.8 636.6 639.6 637.1 639.8 637.6 640.0 638.1 639.7 638.6 639.8 639.1 639.6 639.6 639.4 640.1 640.0 640.6 639.2 641.1 638.8 641.6 638.5 642.1 638.2 642.6 637.8 643.1 637.3 643.6 636.6 644.1 635.7 644.6 635.7 645.1 635.3 645.6 635.3 646.1 635.4 646.6 636.0 647.1 636.5 647.6 637.2 648.1 637.5 648.6 638.3 649.1 638.7 649.6 638.8 650.1 639.1 650.6 639.3 651.1 639.8 651.6 639.2 652.1 639.7 652.6 639.5 653.1 639.8 653.6 640.1 654.1 639.8 654.6 640.0 655.1 639.8 655.6 640.4 656.1 640.2 656.6 640.2 657.1 639.7 657.6 639.8 658.1 640.2 658.6 640.0 659.1 640.0 659.6 640.1 660.1 639.8 660.6 640.2 661.1 640.1 661.6 640.2 662.1 639.9 662.6 640.2 663.1 639.9 663.6 640.3 664.1 640.3 664.6 640.3 665.1 640.2 665.6 640.2 666.1 639.5 666.6 640.2 667.1 640.0 667.6 640.1 668.1 640.0 668.6 639.8 669.1 640.0 669.6 640.2 670.1 640.4 670.6 640.0 671.1 639.9 671.6 640.4 672.1 639.9 672.6 640.5 673.1 640.1 673.6 639.9 674.1 640.3 674.6 640.4 675.1 639.8 675.6 640.4 676.1 640.0 676.6 640.4 677.1 640.0 677.6 639.8 678.1 640.2 678.6 640.3 679.1 640.5 679.6 640.4 680.1 640.2 680.6 640.0 681.1 639.9 681.6 640.0 682.1 639.9 682.6 640.0 683.1 639.5 683.6 640.1 684.1 640.0 684.6 640.5 685.1 640.1 685.6 639.9 686.1 640.1 686.6 639.7 687.1 639.8 687.6 639.5 688.1 640.1 688.6 639.8 689.1 639.4 689.6 639.5 690.1 639.6 690.6 639.4 691.1 639.3 691.6 638.9 692.1 638.8 692.6 638.8 693.1 638.9 693.6 638.4 694.1 638.3 694.6 638.7 695.1 638.3 695.6 638.7 696.1 638.6 696.6 638.8 697.1 639.1 697.6 639.0 698.1 639.2 698.6 639.0 699.1 639.2 699.6 639.5 700.1 639.8 700.6 639.9 701.1 640.1 701.6 639.8 702.1 639.8 702.6 640.0 703.1 639.9 703.6 639.9 704.1 639.7 704.6 640.1 705.1 639.7 705.6 640.1 706.1 639.7 706.6 640.2 707.1 639.8 707.6 640.1 708.1 639.7 708.6 639.9 709.1 640.2 709.6 639.8 710.1 640.0 710.6 639.9 711.1 639.5 711.6 640.0 712.1 640.1 712.6 639.7 713.1 640.1 713.6 639.8 714.1 639.8 714.6 640.0 715.1 639.8 715.6 640.4 716.1 639.6 716.6 640.1 717.1 640.1 717.6 639.5 718.1 639.6 718.6 640.0 719.1 639.8 719.6 640.0 720.1 640.1 720.6 639.8 721.1 639.7 721.6 639.3 722.1 639.9 722.6 639.7 723.1 639.9 723.6 639.9 724.1 639.6 724.6 640.2 725.1 640.1 725.6 640.0 726.1 639.6 726.6 639.7 727.1 639.7 727.6 639.7 728.1 639.5 728.6 639.8 729.1 639.8 729.6 639.8 730.1 639.6 730.6 640.0 731.1 639.7 731.6 639.1 732.1 639.5 732.6 639.6 733.1 639.8 733.6 639.5 734.1 639.5 734.6 639.4 735.1 639.7 735.6 639.4 736.1 639.4 736.6 639.3 737.1 639.6 737.6 639.3 738.1 639.0 738.6 639.5 739.1 639.2 739.6 639.4 740.1 639.3 740.6 639.4 741.1 639.4 741.6 639.0 742.1 639.0 742.6 638.8 743.1 639.3 743.6 639.0 744.1 639.1 744.6 638.7 745.1 638.3 745.6 639.0 746.1 638.6 746.6 638.5 747.1 638.4 747.6 638.4 748.1 638.3 748.6 637.8 749.1 638.2 749.6 637.7 750.1 637.6 750.6 637.8 751.1 637.5 751.6 637.0 752.1 636.5 752.6 636.7 753.1 636.4 753.6 636.0 754.1 635.3 754.6 634.9 755.1 634.3 755.6 633.9 756.1 633.3 756.6 632.5 757.1 631.1 757.6 630.1 758.1 628.7 758.6 626.9 759.1 625.2 759.6 623.6 760.1 620.9 760.6 618.5 761.1 615.5 761.6 612.7 762.1 609.3 762.6 606.5 763.1 603.7 763.6 601.1 764.1 598.4 764.6 596.4 765.1 595.0 765.6 594.4 766.1 594.9 766.6 596.4 767.1 598.0 767.6 600.9 768.1 603.3 768.6 606.2 769.1 609.5 769.6 612.4 770.1 615.3 770.6 618.6 771.1 620.8 771.6 623.2 772.1 625.4 772.6 627.3 773.1 628.5 773.6 630.3 774.1 631.3 774.6 632.3 775.1 633.2 775.6 633.6 776.1 634.4 776.6 635.1 777.1 635.7 777.6 635.9 778.1 636.3 778.6 636.8 779.1 637.2 779.6 637.3 780.1 637.6 780.6 637.4 781.1 637.6 781.6 637.9 782.1 637.9 782.6 638.0 783.1 638.5 783.6 638.3 784.1 638.2 784.6 638.6 785.1 638.9 785.6 638.7 786.1 639.0 786.6 638.7 787.1 638.8 787.6 638.8 788.1 638.9 788.6 639.4 789.1 638.8 789.6 639.4 790.1 639.0 790.6 639.2 791.1 639.4 791.6 639.4 792.1 639.4 792.6 639.0 793.1 639.5 793.6 639.2 794.1 640.0 794.6 639.4 795.1 639.5 795.6 639.3 796.1 639.4 796.6 639.3 797.1 639.8 797.6 639.5 798.1 639.7 798.6 639.5 799.1 639.6 799.6 639.9 800.1 639.5 800.6 639.3 801.1 639.8 801.6 639.5 802.1 639.7 802.6 639.9 803.1 639.6 803.6 640.0 804.1 639.7 804.6 640.1 805.1 640.1 805.6 639.7 806.1 639.8 806.6 639.7 807.1 639.9 807.6 640.1 808.1 639.6 808.6 640.1 809.1 639.6 809.6 639.7 810.1 639.5 810.6 640.3 811.1 639.9 811.6 640.0 812.1 639.8 812.6 640.1 813.1 639.5 813.6 639.9 814.1 640.4 814.6 639.9 815.1 639.9 815.6 640.1 816.1 639.8 816.6 640.0 817.1 640.2 817.6 640.0 818.1 640.0 818.6 639.9 819.1 640.0 819.6 640.0 820.1 640.3 820.6 640.1 821.1 639.9 821.6 639.5 822.1 640.1 822.6 640.1 823.1 639.8 823.6 639.6 824.1 639.8 824.6 640.2 825.1 639.8 825.6 639.9 826.1 640.0 826.6 640.2 827.1 640.0 827.6 640.0 828.1 639.9 828.6 640.3 829.1 640.2 829.6 640.0 830.1 639.7 830.6 639.8 831.1 640.1 831.6 639.9 832.1 640.2 832.6 640.1 833.1 640.1 833.6 640.1 834.1 640.1 834.6 639.8 835.1 639.9 835.6 640.5 836.1 639.7 836.6 639.9 837.1 640.2 837.6 640.0 838.1 639.8 838.6 639.7 839.1 640.1 839.6 640.2 840.1 640.2 840.6 640.0 841.1 640.2 841.6 639.7 842.1 640.0 842.6 639.8 843.1 640.0 843.6 640.1 844.1 640.1 844.6 639.7 845.1 640.2 845.6 639.8 846.1 639.7 846.6 639.9 847.1 639.6 847.6 639.9 848.1 639.9 848.6 639.8 849.1 639.9 849.6 639.8 850.1 639.8 850.6 639.5 851.1 639.8 851.6 639.6 852.1 639.7 852.6 639.7 853.1 639.8 853.6 639.4 854.1 639.4 854.6 639.6 855.1 639.7 855.6 639.7 856.1 639.7 856.6 639.8 857.1 639.6 857.6 639.4 858.1 639.2 858.6 639.2 859.1 639.2 859.6 639.2 860.1 639.1 860.6 638.9 861.1 638.7 861.6 638.7 862.1 638.3 862.6 637.9 863.1 637.4 863.6 636.5 864.1 635.6 864.6 634.9 865.1 633.6 865.6 632.0 866.1 630.3 866.6 628.9 867.1 626.2 867.6 624.1 868.1 621.9 868.6 619.3 869.1 617.4 869.6 615.8 870.1 614.0 870.6 612.7 871.1 612.0 871.6 611.8 872.1 612.3 872.6 612.8 873.1 613.7 873.6 614.9 874.1 616.0 874.6 616.7 875.1 617.3 875.6 617.0 876.1 617.5 876.6 617.5 877.1 617.1 877.6 616.9 878.1 617.3 878.6 618.8 879.1 620.2 879.6 622.5 880.1 624.3 880.6 626.4 881.1 627.9 881.6 628.3 882.1 629.5 882.6 629.5 883.1 629.2 883.6 628.8 884.1 628.1 884.6 627.3 885.1 625.5 885.6 624.6 886.1 623.3 886.6 621.4 887.1 619.8 887.6 618.2 888.1 616.5 888.6 615.5 889.1 614.4 889.6 613.7 890.1 613.6 890.6 613.2 891.1 613.4 891.6 614.2 892.1 614.6 892.6 615.8 893.1 617.4 893.6 618.9 894.1 620.8 894.6 622.3 895.1 624.4 895.6 626.0 896.1 627.4 896.6 628.7 897.1 630.3 897.6 631.6 898.1 632.3 898.6 633.6 899.1 634.6 899.6 635.3 900.1 636.2 900.6 636.7 901.1 636.8 901.6 637.4 902.1 637.5 902.6 638.1 903.1 638.1 903.6 638.6 904.1 638.6 904.6 638.9 905.1 638.8 905.6 638.6 906.1 639.3 906.6 639.0 907.1 639.3 907.6 639.2 908.1 639.3 908.6 639.5 909.1 639.2 909.6 639.4 910.1 638.8 910.6 639.3 911.1 639.0 911.6 638.9 912.1 638.9 912.6 638.8 913.1 639.0 913.6 638.1 914.1 638.3 914.6 637.9 915.1 638.0 915.6 637.4 916.1 637.3 916.6 636.8 917.1 636.8 917.6 636.6 918.1 636.1 918.6 636.0 919.1 635.7 919.6 636.0 920.1 636.3 920.6 636.2 921.1 636.8 921.6 636.4 922.1 636.8 922.6 637.2 923.1 637.7 923.6 638.1 924.1 638.3 924.6 638.6 925.1 639.0 925.6 638.9 926.1 638.9 926.6 639.1 927.1 639.8 927.6 639.0 928.1 639.6 928.6 640.0 929.1 639.8 929.6 639.6 930.1 639.8 930.6 640.0 931.1 640.1 931.6 639.7 932.1 640.0 932.6 640.0 933.1 640.2 933.6 640.2 934.1 639.9 934.6 639.7 935.1 640.1 935.6 640.3 936.1 640.1 936.6 640.1 937.1 640.5 937.6 639.8 938.1 640.2 938.6 639.9 939.1 640.1 939.6 640.1 940.1 640.4 940.6 639.9 941.1 640.0 941.6 639.8 942.1 640.2 942.6 640.0 943.1 640.2 943.6 639.9 944.1 640.0 944.6 640.3 945.1 640.1 945.6 640.2 946.1 640.2 946.6 640.0 947.1 639.8 947.6 640.3 948.1 640.2 948.6 640.3 949.1 639.7 949.6 639.8 950.1 639.7 950.6 640.0 951.1 640.3 951.6 640.3 952.1 640.1 952.6 640.2 953.1 640.3 953.6 640.1 954.1 640.2 954.6 640.2 955.1 639.7 955.6 640.1 956.1 640.4 956.6 640.1 957.1 640.1 957.6 640.0 958.1 640.1 958.6 640.4 959.1 640.1 959.6 640.0 960.1 639.5 960.6 640.0 961.1 639.8 961.6 639.8 962.1 640.3 962.6 640.3 963.1 639.8 963.6 640.3 964.1 640.2 964.6 640.0 965.1 640.3 965.6 639.8 966.1 639.9 966.6 639.9 967.1 639.9 967.6 640.3 968.1 639.9 968.6 639.9 969.1 640.0 969.6 640.2 970.1 640.1 970.6 640.3 971.1 640.0 971.6 639.9 972.1 640.0 972.6 640.1 973.1 640.0 973.6 640.2 974.1 640.5 974.6 640.0 975.1 640.1 975.6 640.4 976.1 640.0 976.6 640.0 977.1 639.9 977.6 640.2 978.1 640.2 978.6 640.1 979.1 640.1 979.6 640.4 980.1 640.3 980.6 639.8 981.1 640.1 981.6 640.1 982.1 640.2 982.6 640.0 983.1 640.0 983.6 640.0 984.1 639.7 984.6 640.1 985.1 639.9 985.6 640.1 986.1 639.8 986.6 640.0 987.1 639.8 987.6 639.8 988.1 640.2 988.6 639.9 989.1 640.1 989.6 639.8 990.1 640.0 990.6 639.6 991.1 639.9 991.6 639.9 992.1 640.1 992.6 640.0 993.1 639.9 993.6 640.1 994.1 639.9 994.6 640.0 995.1 640.0 995.6 639.9 996.1 639.8 996.6 639.9 997.1 639.7 997.6 639.9 998.1 640.0 998.6 639.9 999.1 639.6 999.6 639.4 1000.1 639.7 1000.6 639.6 1001.1 639.8 1001.6 639.5 1002.1 639.4 1002.6 639.6 1003.1 639.3 1003.6 639.2 1004.1 639.5 1004.6 639.4 1005.1 639.1 1005.6 638.9 1006.1 638.5 1006.6 638.6 1007.1 638.3 1007.6 638.1 1008.1 637.7 1008.6 637.5 1009.1 637.2 1009.6 637.0 1010.1 636.9 1010.6 636.3 1011.1 635.5 1011.6 635.2 1012.1 634.7 1012.6 634.5 1013.1 634.4 1013.6 634.0 1014.1 633.4 1014.6 633.2 1015.1 632.7 1015.6 632.3 1016.1 632.1 1016.6 632.0 1017.1 632.3 1017.6 631.6 1018.1 631.9 1018.6 631.7 1019.1 631.2 1019.6 630.9 1020.1 630.4 1020.6 630.1 1021.1 629.7 1021.6 628.9 1022.1 628.4 1022.6 627.6 1023.1 626.6 1023.6 625.7 1024.1 624.6 1024.6 623.7 1025.1 622.5 1025.6 621.9 1026.1 621.1 1026.6 620.2 1027.1 620.4 1027.6 619.5 1028.1 619.5 1028.6 619.9 1029.1 620.0 1029.6 620.9 1030.1 621.6 1030.6 622.7 1031.1 624.0 1031.6 625.2 1032.1 626.6 1032.6 627.7 1033.1 629.0 1033.6 630.0 1034.1 630.9 1034.6 632.2 1035.1 632.8 1035.6 633.7 1036.1 634.9 1036.6 635.4 1037.1 635.9 1037.6 636.6 1038.1 637.1 1038.6 637.0 1039.1 637.6 1039.6 637.7 1040.1 638.2 1040.6 638.3 1041.1 638.8 1041.6 638.8 1042.1 638.7 1042.6 638.9 1043.1 638.7 1043.6 639.1 1044.1 639.2 1044.6 639.1 1045.1 638.7 1045.6 639.0 1046.1 639.1 1046.6 639.1 1047.1 639.2 1047.6 638.6 1048.1 638.9 1048.6 638.6 1049.1 638.7 1049.6 638.6 1050.1 638.6 1050.6 638.3 1051.1 638.5 1051.6 638.2 1052.1 638.2 1052.6 638.7 1053.1 638.7 1053.6 638.5 1054.1 638.8 1054.6 639.1 1055.1 639.5 1055.6 639.5 1056.1 639.6 1056.6 639.2 1057.1 639.6 1057.6 639.8 1058.1 639.8 1058.6 639.9 1059.1 639.8 1059.6 640.2 1060.1 640.2 1060.6 639.9 1061.1 639.7 1061.6 640.4 1062.1 639.9 1062.6 640.2 1063.1 640.4 1063.6 639.8 1064.1 640.1 1064.6 639.9 1065.1 640.1 1065.6 640.1 1066.1 640.4 1066.6 640.2 1067.1 640.1 1067.6 640.3 1068.1 640.0 1068.6 640.0 1069.1 640.5 1069.6 639.9 1070.1 640.0 1070.6 640.1 1071.1 639.9 1071.6 639.7 1072.1 640.3 1072.6 639.9 1073.1 640.0 1073.6 640.0 1074.1 639.9 1074.6 639.9 1075.1 640.1 1075.6 640.6 1076.1 640.3 1076.6 640.3 1077.1 639.8 1077.6 640.1 1078.1 639.9 1078.6 640.3 1079.1 640.1 1079.6 640.1 1080.1 640.1 1080.6 640.0 1081.1 639.8 1081.6 640.3 1082.1 639.9 1082.6 639.9 1083.1 640.1 1083.6 640.0 1084.1 640.2 1084.6 640.3 1085.1 640.2 1085.6 640.2 1086.1 640.1 1086.6 640.3 1087.1 639.8 1087.6 640.2 1088.1 639.9 1088.6 639.9 1089.1 640.1 1089.6 640.1 1090.1 640.2 1090.6 640.3 1091.1 639.7 1091.6 640.1 1092.1 640.5 1092.6 640.3 1093.1 640.4 1093.6 640.1 1094.1 639.8 1094.6 639.9 1095.1 640.3 1095.6 640.3 1096.1 640.0 1096.6 640.1 1097.1 640.2 1097.6 639.7 1098.1 640.0 1098.6 640.4 1099.1 640.5 1099.6 640.1 1100.1 640.4 1100.6 640.0 1101.1 639.9 1101.6 639.6 1102.1 640.3 1102.6 640.0 1103.1 640.5 1103.6 640.1 1104.1 640.1 1104.6 639.7 1105.1 640.3 1105.6 640.0 1106.1 640.0 1106.6 639.6 1107.1 640.2 1107.6 640.2 1108.1 639.9 1108.6 640.0 1109.1 640.1 1109.6 640.2 1110.1 640.0 1110.6 640.3 1111.1 639.9 1111.6 639.8 1112.1 639.8 1112.6 639.4 1113.1 639.7 1113.6 640.1 1114.1 639.9 1114.6 639.7 1115.1 639.9 1115.6 639.4 1116.1 639.7 1116.6 639.8 1117.1 639.9 1117.6 639.5 1118.1 639.8 1118.6 640.0 1119.1 639.5 1119.6 639.7 1120.1 639.2 1120.6 639.1 1121.1 639.6 1121.6 639.4 1122.1 639.4 1122.6 639.2 1123.1 639.1 1123.6 639.3 1124.1 639.4 1124.6 638.9 1125.1 638.5 1125.6 639.0 1126.1 638.7 1126.6 638.6 1127.1 638.3 1127.6 638.5 1128.1 637.9 1128.6 637.7 1129.1 637.0 1129.6 636.9 1130.1 636.6 1130.6 636.4 1131.1 636.1 1131.6 635.4 1132.1 635.5 1132.6 634.4 1133.1 634.1 1133.6 633.7 1134.1 632.9 1134.6 632.7 1135.1 632.2 1135.6 631.6 1136.1 631.6 1136.6 630.9 1137.1 630.6 1137.6 630.2 1138.1 630.0 1138.6 630.3 1139.1 630.5 1139.6 630.7 1140.1 631.4 1140.6 631.1 1141.1 631.9 1141.6 632.2 1142.1 633.4 1142.6 633.5 1143.1 634.0 1143.6 634.4 1144.1 635.2 1144.6 635.4 1145.1 635.9 1145.6 635.8 1146.1 636.8 1146.6 636.9 1147.1 637.2 1147.6 637.6 1148.1 637.5 1148.6 637.6 1149.1 637.9 1149.6 638.0 1150.1 637.9 1150.6 638.0 1151.1 637.9 1151.6 638.1 1152.1 638.0 1152.6 637.7 1153.1 637.9 1153.6 637.0 1154.1 637.1 1154.6 637.2 1155.1 636.4 1155.6 635.8 1156.1 636.0 1156.6 635.4 1157.1 634.6 1157.6 634.5 1158.1 633.7 1158.6 633.2 1159.1 633.0 1159.6 632.5 1160.1 632.0 1160.6 631.8 1161.1 631.4 1161.6 631.4 1162.1 631.3 1162.6 631.5 1163.1 631.4 1163.6 631.4 1164.1 631.7 1164.6 632.3 1165.1 633.1 1165.6 633.4 1166.1 633.6 1166.6 634.4 1167.1 634.5 1167.6 635.5 1168.1 635.7 1168.6 636.4 1169.1 636.8 1169.6 637.1 1170.1 637.6 1170.6 637.6 1171.1 638.1 1171.6 638.7 1172.1 639.5 1172.6 639.0 1173.1 639.1 1173.6 639.0 1174.1 639.6 1174.6 639.2 1175.1 639.4 1175.6 639.7 1176.1 639.5 1176.6 640.1 1177.1 640.1 1177.6 639.8 1178.1 639.8 1178.6 639.7 1179.1 639.7 1179.6 640.1 1180.1 640.1 1180.6 640.1 1181.1 640.1 1181.6 640.0 1182.1 640.2 1182.6 639.8 1183.1 640.1 1183.6 640.4 1184.1 640.4 1184.6 640.0 1185.1 640.1 1185.6 640.4 1186.1 640.5 1186.6 639.9 1187.1 640.1 1187.6 640.2 1188.1 640.4 1188.6 640.0 1189.1 640.3 1189.6 640.1 1190.1 640.7 1190.6 640.3 1191.1 640.2 1191.6 640.2 1192.1 640.4 1192.6 640.4 1193.1 640.0 1193.6 640.3 1194.1 640.0 1194.6 640.1 1195.1 640.0 1195.6 640.0 1196.1 640.1 1196.6 640.1 1197.1 640.4 1197.6 640.4 1198.1 640.2 1198.6 640.0 1199.1 640.4 1199.6 639.8 1200.1 639.9 1200.6 640.4 1201.1 640.4 1201.6 640.5 1202.1 640.2 1202.6 640.0 1203.1 640.2 1203.6 640.4 1204.1 640.1 1204.6 640.1 1205.1 640.0 1205.6 640.0 1206.1 640.4 1206.6 640.3 1207.1 640.0 1207.6 640.0 1208.1 640.1 1208.6 640.3 1209.1 640.0 1209.6 640.2 1210.1 639.8 1210.6 640.0 1211.1 640.3 1211.6 640.4 1212.1 640.0 1212.6 640.0 1213.1 640.4 1213.6 640.1 1214.1 640.1 1214.6 640.3 1215.1 640.2 1215.6 640.4 1216.1 640.3 1216.6 640.0 1217.1 640.1 1217.6 640.1 1218.1 639.8 1218.6 639.9 1219.1 640.3 1219.6 639.8 1220.1 640.3 1220.6 640.1 1221.1 640.0 1221.6 640.1 1222.1 640.1 1222.6 640.2 1223.1 639.9 1223.6 639.9 1224.1 639.9 1224.6 640.3 1225.1 640.1 1225.6 639.7 1226.1 639.8 1226.6 639.7 1227.1 639.8 1227.6 639.8 1228.1 640.2 1228.6 639.3 1229.1 639.8 1229.6 639.7 1230.1 639.4 1230.6 639.5 1231.1 639.3 1231.6 639.4 1232.1 639.5 1232.6 638.9 1233.1 639.4 1233.6 639.0 1234.1 639.2 1234.6 638.9 1235.1 638.9 1235.6 638.7 1236.1 638.6 1236.6 638.2 1237.1 637.8 1237.6 637.9 1238.1 637.6 1238.6 637.6 1239.1 636.5 1239.6 636.4 1240.1 636.3 1240.6 635.4 1241.1 635.1 1241.6 635.0 1242.1 634.3 1242.6 633.2 1243.1 633.0 1243.6 632.3 1244.1 631.5 1244.6 630.7 1245.1 630.0 1245.6 629.2 1246.1 628.7 1246.6 628.5 1247.1 628.2 1247.6 628.4 1248.1 628.1 1248.6 627.9 1249.1 628.7 1249.6 629.4 1250.1 630.0 1250.6 630.6 1251.1 631.1 1251.6 632.2 1252.1 632.5 1252.6 633.4 1253.1 633.8 1253.6 634.1 1254.1 635.1 1254.6 634.8 1255.1 635.5 1255.6 636.1 1256.1 636.2 1256.6 636.7 1257.1 636.7 1257.6 636.8 1258.1 637.4 1258.6 637.0 1259.1 637.0 1259.6 636.8 1260.1 636.8 1260.6 637.0 1261.1 636.9 1261.6 636.7 1262.1 636.4 1262.6 636.5 1263.1 635.9 1263.6 636.1 1264.1 636.0 1264.6 635.8 1265.1 636.0 1265.6 635.8 1266.1 635.8 1266.6 636.5 1267.1 636.4 1267.6 636.7 1268.1 636.6 1268.6 637.0 1269.1 637.3 1269.6 637.6 1270.1 638.1 1270.6 637.8 1271.1 638.1 1271.6 638.3 1272.1 637.8 1272.6 638.4 1273.1 638.9 1273.6 639.2 1274.1 639.1 1274.6 639.6 1275.1 639.8 1275.6 639.5 1276.1 640.0 1276.6 640.1 1277.1 639.9 1277.6 639.7 1278.1 640.3 1278.6 640.0 1279.1 640.0 1279.6 640.1 1280.1 640.0 1280.6 640.4 1281.1 640.3 1281.6 640.5 1282.1 640.3 1282.6 640.1 1283.1 640.2 1283.6 640.5 1284.1 640.2 1284.6 640.9 1285.1 640.3 1285.6 640.2 1286.1 640.6 1286.6 640.5 1287.1 640.4 1287.6 640.3 1288.1 640.5 1288.6 640.6 1289.1 640.6 1289.6 640.4 1290.1 640.5 1290.6 640.6 1291.1 640.6 1291.6 639.8 1292.1 640.3 1292.6 640.3 1293.1 640.4 1293.6 640.5 1294.1 640.7 1294.6 640.6 1295.1 640.5 1295.6 640.5 1296.1 640.9 1296.6 640.4 1297.1 640.6 1297.6 640.8 1298.1 640.6 1298.6 640.1 1299.1 640.6 1299.6 640.5 1300.1 640.5 1300.6 640.8 1301.1 640.7 1301.6 640.5 1302.1 640.7 1302.6 640.7 1303.1 640.6 1303.6 640.6 1304.1 640.6 1304.6 640.5 1305.1 640.5 1305.6 640.6 1306.1 640.4 1306.6 640.3 1307.1 640.9 1307.6 640.6 1308.1 640.6 1308.6 640.6 1309.1 640.6 1309.6 640.6 1310.1 640.6 1310.6 640.5 1311.1 640.8 1311.6 640.5 1312.1 640.8 1312.6 640.3 1313.1 640.4 1313.6 640.8 1314.1 640.6 1314.6 640.5 1315.1 640.7 1315.6 640.4 1316.1 640.7 1316.6 640.2 1317.1 640.6 1317.6 640.5 1318.1 640.8 1318.6 640.8 1319.1 640.5 1319.6 641.0 1320.1 640.6 1320.6 640.3 1321.1 640.2 1321.6 641.0 1322.1 640.7 1322.6 640.6 1323.1 640.5 1323.6 640.5 1324.1 641.0 1324.6 640.7 1325.1 641.0 1325.6 640.7 1326.1 640.2 1326.6 640.9 1327.1 640.6 1327.6 640.7 1328.1 641.0 1328.6 640.6 1329.1 640.9 1329.6 640.7 1330.1 640.6 1330.6 640.8 1331.1 640.6 1331.6 641.0 1332.1 640.9 1332.6 640.7 1333.1 640.8 1333.6 640.8 1334.1 640.7 1334.6 640.9 1335.1 640.7"/>
<path stroke="#0000CC" d="M89.6 555.3 90.1 554.5 90.6 555.1 91.1 555.3 91.6 554.6 92.1 554.8 92.6 554.8 93.1 555.5 93.6 554.7 94.1 555.3 94.6 555.9 95.1 555.3 95.6 554.3 96.1 555.2 96.6 555.7 97.1 555.0 97.6 555.8 98.1 555.5 98.6 555.4 99.1 555.1 99.6 554.9 100.1 555.1 100.6 555.3 101.1 555.5 101.6 555.5 102.1 555.1 102.6 555.3 103.1 555.5 103.6 554.4 104.1 554.9 104.6 554.9 105.1 555.2 105.6 555.2 106.1 555.2 106.6 554.9 107.1 555.7 107.6 555.5 108.1 554.5 108.6 555.4 109.1 554.8 109.6 556.3 110.1 555.2 110.6 555.2 111.1 555.5 111.6 555.3 112.1 555.4 112.6 556.3 113.1 555.6 113.6 555.9 114.1 556.1 114.6 555.0 115.1 556.4 115.6 555.9 116.1 556.0 116.6 555.1 117.1 556.0 117.6 555.8 118.1 555.3 118.6 556.8 119.1 555.9 119.6 555.5 120.1 555.7 120.6 556.1 121.1 556.2 121.6 555.9 122.1 556.3 122.6 556.4 123.1 555.0 123.6 555.4 124.1 555.2 124.6 555.7 125.1 556.5 125.6 556.1 126.1 555.2 126.6 555.6 127.1 556.3 127.6 555.5 128.1 555.7 128.6 555.9 129.1 554.8 129.6 556.2 130.1 556.0 130.6 556.1 131.1 555.3 131.6 555.4 132.1 555.5 132.6 556.0 133.1 555.9 133.6 555.9 134.1 556.8 134.6 556.6 135.1 555.5 135.6 555.6 136.1 556.8 136.6 555.8 137.1 556.6 137.6 556.8 138.1 555.7 138.6 555.8 139.1 556.0 139.6 555.5 140.1 555.5 140.6 555.8 141.1 556.4 141.6 555.8 142.1 555.9 142.6 555.8 143.1 555.3 143.6 556.8 144.1 554.9 144.6 555.7 145.1 556.4 145.6 555.4 146.1 556.4 146.6 556.8 147.1 555.7 147.6 556.2 148.1 555.6 148.6 556.4 149.1 556.2 149.6 556.3 150.1 556.9 150.6 556.4 151.1 556.9 151.6 556.5 152.1 555.6 152.6 556.3 153.1 556.5 153.6 555.5 154.1 556.9 154.6 556.3 155.1 556.4 155.6 555.8 156.1 556.3 156.6 556.4 157.1 556.1 157.6 556.3 158.1 555.2 158.6 557.0 159.1 555.8 159.6 555.2 160.1 555.8 160.6 555.9 161.1 556.6 161.6 555.9 162.1 556.5 162.6 555.9 163.1 557.5 163.6 556.7 164.1 557.4 164.6 555.9 165.1 556.7 165.6 555.9 166.1 556.7 166.6 556.8 167.1 555.7 167.6 555.9 168.1 555.9 168.6 555.7 169.1 556.1 169.6 556.0 170.1 555.8 170.6 556.5 171.1 556.8 171.6 555.9 172.1 556.2 172.6 556.5 173.1 556.4 173.6 556.2 174.1 556.9 174.6 557.0 175.1 556.9 175.6 556.5 176.1 557.5 176.6 557.4 177.1 556.4 177.6 556.5 178.1 557.2 178.6 556.2 179.1 556.8 179.6 556.6 180.1 556.3 180.6 556.5 181.1 555.9 181.6 556.4 182.1 555.7 182.6 557.7 183.1 557.4 183.6 557.3 184.1 556.8 184.6 557.2 185.1 557.3 185.6 557.2 186.1 557.1 186.6 556.3 187.1 556.9 187.6 556.5 188.1 556.2 188.6 556.2 189.1 557.0 189.6 557.3 190.1 556.1 190.6 557.6 191.1 557.5 191.6 556.6 192.1 556.6 192.6 556.8 193.1 557.3 193.6 556.7 194.1 556.3 194.6 557.0 195.1 555.9 195.6 556.9 196.1 557.4 196.6 557.0 197.1 557.2 197.6 557.1 198.1 557.2 198.6 557.0 199.1 556.5 199.6 556.8 200.1 556.9 200.6 557.5 201.1 557.7 201.6 557.1 202.1 556.6 202.6 556.6 203.1 556.9 203.6 557.6 204.1 557.1 204.6 557.0 205.1 556.7 205.6 557.4 206.1 557.1 206.6 557.0 207.1 557.1 207.6 557.8 208.1 557.0 208.6 557.8 209.1 557.6 209.6 557.1 210.1 557.5 210.6 557.0 211.1 556.7 211.6 557.0 212.1 556.7 212.6 557.3 213.1 557.1 213.6 557.4 214.1 557.5 214.6 555.8 215.1 557.3 215.6 556.4 216.1 557.2 216.6 556.8 217.1 557.2 217.6 557.7 218.1 556.4 218.6 557.2 219.1 557.1 219.6 556.3 220.1 557.4 220.6 557.2 221.1 556.9 221.6 556.8 222.1 558.5 222.6 557.0 223.1 556.4 223.6 556.8 224.1 557.0 224.6 557.0 225.1 557.1 225.6 556.7 226.1 557.4 226.6 556.9 227.1 556.6 227.6 556.8 228.1 557.0 228.6 557.5 229.1 557.3 229.6 557.0 230.1 557.1 230.6 557.2 231.1 558.0 231.6 556.9 232.1 557.3 232.6 557.4 233.1 556.8 233.6 557.2 234.1 557.2 234.6 557.0 235.1 557.4 235.6 557.5 236.1 557.6 236.6 557.1 237.1 557.2 237.6 558.1 238.1 556.7 238.6 557.2 239.1 557.5 239.6 557.2 240.1 557.4 240.6 557.2 241.1 557.4 241.6 557.6 242.1 557.1 242.6 557.2 243.1 557.1 243.6 557.0 244.1 557.1 244.6 556.7 245.1 557.4 245.6 557.8 246.1 557.8 246.6 557.6 247.1 556.8 247.6 557.7 248.1 556.9 248.6 557.1 249.1 557.8 249.6 556.7 250.1 557.5 250.6 557.2 251.1 557.1 251.6 556.8 252.1 557.3 252.6 557.0 253.1 557.5 253.6 557.6 254.1 556.6 254.6 556.9 255.1 557.0 255.6 556.7 256.1 556.7 256.6 557.2 257.1 557.1 257.6 556.5 258.1 556.9 258.6 557.3 259.1 556.7 259.6 556.8 260.1 557.7 260.6 557.6 261.1 556.5 261.6 556.6 262.1 557.3 262.6 556.7 263.1 557.0 263.6 557.0 264.1 557.3 264.6 556.2 265.1 556.3 265.6 556.7 266.1 557.5 266.6 557.1 267.1 556.5 267.6 557.3 268.1 557.4 268.6 557.0 269.1 557.0 269.6 557.3 270.1 557.5 270.6 557.2 271.1 557.3 271.6 557.1 272.1 557.0 272.6 556.8 273.1 557.2 273.6 557.0 274.1 557.0 274.6 557.4 275.1 557.3 275.6 557.4 276.1 556.6 276.6 557.3 277.1 556.9 277.6 556.8 278.1 556.8 278.6 557.5 279.1 557.4 279.6 556.8 280.1 556.7 280.6 557.1 281.1 556.9 281.6 557.6 282.1 556.6 282.6 556.5 283.1 557.0 283.6 557.1 284.1 557.1 284.6 557.3 285.1 557.7 285.6 557.0 286.1 556.9 286.6 556.5 287.1 557.1 287.6 557.3 288.1 557.0 288.6 557.4 289.1 557.1 289.6 557.5 290.1 557.1 290.6 556.7 291.1 556.8 291.6 556.5 292.1 556.5 292.6 557.1 293.1 557.3 293.6 557.6 294.1 557.0 294.6 556.9 295.1 556.7 295.6 557.3 296.1 557.1 296.6 556.8 297.1 557.2 297.6 557.2 298.1 556.4 298.6 557.2 299.1 557.0 299.6 556.9 300.1 556.9 300.6 557.5 301.1 557.5 301.6 557.5 302.1 556.6 302.6 556.8 303.1 557.2 303.6 556.6 304.1 556.7 304.6 556.4 305.1 557.5 305.6 557.3 306.1 557.1 306.6 557.0 307.1 556.8 307.6 556.8 308.1 557.1 308.6 556.7 309.1 557.3 309.6 556.7 310.1 556.6 310.6 557.3 311.1 556.8 311.6 557.0 312.1 556.7 312.6 556.2 313.1 557.0 313.6 556.4 314.1 557.1 314.6 556.3 315.1 556.2 315.6 556.9 316.1 556.9 316.6 556.8 317.1 556.4 317.6 557.0 318.1 556.3 318.6 556.6 319.1 556.4 319.6 556.5 320.1 556.9 320.6 556.4 321.1 556.8 321.6 556.8 322.1 556.1 322.6 556.2 323.1 556.4 323.6 556.3 324.1 556.6 324.6 555.9 325.1 556.6 325.6 556.6 326.1 556.3 326.6 556.0 327.1 556.3 327.6 556.1 328.1 556.4 328.6 556.2 329.1 556.4 329.6 556.0 330.1 556.5 330.6 555.4 331.1 555.8 331.6 556.1 332.1 555.5 332.6 556.1 333.1 555.5 333.6 555.8 334.1 555.5 334.6 555.5 335.1 555.6 335.6 555.5 336.1 555.3 336.6 556.0 337.1 555.3 337.6 554.9 338.1 555.3 338.6 555.2 339.1 555.2 339.6 555.2 340.1 554.4 340.6 554.8 341.1 554.7 341.6 554.2 342.1 554.1 342.6 553.0 343.1 553.5 343.6 553.9 344.1 552.7 344.6 552.8 345.1 552.7 345.6 552.5 346.1 552.4 346.6 551.2 347.1 551.2 347.6 551.0 348.1 549.9 348.6 549.6 349.1 549.4 349.6 548.5 350.1 547.3 350.6 545.2 351.1 544.3 351.6 542.5 352.1 539.8 352.6 536.6 353.1 533.3 353.6 527.1 354.1 520.2 354.6 512.1 355.1 501.8 355.6 489.8 356.1 475.7 356.6 460.1 357.1 442.4 357.6 423.5 358.1 404.9 358.6 386.9 359.1 370.6 359.6 358.4 360.1 350.7 360.6 348.7 361.1 353.7 361.6 364.3 362.1 378.8 362.6 395.7 363.1 414.6 363.6 433.0 364.1 450.9 364.6 468.1 365.1 483.1 365.6 496.2 366.1 507.2 366.6 516.5 367.1 523.8 367.6 530.1 368.1 534.9 368.6 538.4 369.1 541.4 369.6 543.0 370.1 545.0 370.6 546.9 371.1 548.1 371.6 548.6 372.1 549.3 372.6 549.6 373.1 550.6 373.6 551.2 374.1 551.1 374.6 552.0 375.1 552.3 375.6 552.6 376.1 552.5 376.6 553.2 377.1 552.9 377.6 553.9 378.1 553.7 378.6 553.6 379.1 554.4 379.6 554.5 380.1 554.2 380.6 555.0 381.1 554.4 381.6 554.8 382.1 555.1 382.6 554.4 383.1 555.3 383.6 555.1 384.1 555.2 384.6 555.0 385.1 555.4 385.6 555.1 386.1 555.1 386.6 555.3 387.1 555.1 387.6 555.8 388.1 555.1 388.6 555.3 389.1 555.3 389.6 555.4 390.1 555.5 390.6 555.4 391.1 555.1 391.6 554.9 392.1 554.8 392.6 554.6 393.1 554.1 393.6 553.1 394.1 551.8 394.6 551.5 395.1 549.4 395.6 547.1 396.1 544.6 396.6 541.7 397.1 539.2 397.6 537.8 398.1 537.7 398.6 539.0 399.1 541.1 399.6 544.1 400.1 547.0 400.6 549.0 401.1 551.0 401.6 552.0 402.1 553.5 402.6 554.3 403.1 554.6 403.6 554.9 404.1 555.7 404.6 555.6 405.1 556.1 405.6 556.0 406.1 556.4 406.6 556.2 407.1 556.1 407.6 556.5 408.1 556.5 408.6 556.8 409.1 556.6 409.6 556.6 410.1 557.0 410.6 557.1 411.1 557.0 411.6 557.1 412.1 557.0 412.6 557.1 413.1 557.2 413.6 557.1 414.1 557.0 414.6 557.1 415.1 557.6 415.6 557.1 416.1 557.0 416.6 557.0 417.1 557.1 417.6 557.2 418.1 556.9 418.6 556.7 419.1 557.2 419.6 556.8 420.1 557.3 420.6 557.3 421.1 557.5 421.6 557.6 422.1 557.3 422.6 557.2 423.1 557.0 423.6 557.1 424.1 557.3 424.6 556.9 425.1 557.3 425.6 557.3 426.1 557.5 426.6 557.3 427.1 557.4 427.6 557.2 428.1 557.3 428.6 557.0 429.1 557.4 429.6 557.8 430.1 557.5 430.6 557.5 431.1 557.2 431.6 557.8 432.1 557.3 432.6 557.6 433.1 557.5 433.6 557.3 434.1 557.7 434.6 557.5 435.1 557.5 435.6 557.6 436.1 557.5 436.6 557.4 437.1 557.6 437.6 557.5 438.1 557.6 438.6 557.4 439.1 557.2 439.6 557.4 440.1 557.5 440.6 557.6 441.1 557.8 441.6 557.2 442.1 557.6 442.6 557.1 443.1 557.4 443.6 557.5 444.1 557.1 444.6 557.2 445.1 557.7 445.6 557.7 446.1 557.6 446.6 557.5 447.1 558.1 447.6 557.6 448.1 557.5 448.6 558.0 449.1 557.8 449.6 557.6 450.1 558.0 450.6 557.7 451.1 557.8 451.6 557.8 452.1 557.5 452.6 557.9 453.1 557.8 453.6 557.5 454.1 557.6 454.6 557.9 455.1 557.7 455.6 557.8 456.1 557.9 456.6 557.8 457.1 557.4 457.6 557.9 458.1 558.0 458.6 558.0 459.1 558.1 459.6 557.9 460.1 558.0 460.6 558.1 461.1 557.7 461.6 558.2 462.1 558.2 462.6 558.0 463.1 558.2 463.6 558.0 464.1 557.6 464.6 558.1 465.1 557.9 465.6 557.9 466.1 557.9 466.6 558.1 467.1 558.0 467.6 557.7 468.1 558.0 468.6 558.0 469.1 557.7 469.6 557.8 470.1 557.8 470.6 557.8 471.1 558.0 471.6 558.1 472.1 558.3 472.6 558.2 473.1 558.1 473.6 558.1 474.1 558.2 474.6 557.8 475.1 558.1 475.6 558.0 476.1 557.9 476.6 557.8 477.1 557.8 477.6 557.9 478.1 557.7 478.6 558.0 479.1 557.9 479.6 557.9 480.1 558.0 480.6 558.1 481.1 557.8 481.6 557.9 482.1 557.6 482.6 557.5 483.1 557.5 483.6 558.2 484.1 557.5 484.6 558.0 485.1 558.2 485.6 557.8 486.1 558.3 486.6 558.3 487.1 558.1 487.6 558.4 488.1 558.1 488.6 557.8 489.1 558.0 489.6 557.8 490.1 557.7 490.6 557.7 491.1 558.4 491.6 557.8 492.1 557.9 492.6 557.8 493.1 557.9 493.6 557.9 494.1 557.8 494.6 557.7 495.1 557.6 495.6 557.8 496.1 558.0 496.6 558.3 497.1 558.1 497.6 558.3 498.1 558.0 498.6 557.9 499.1 557.6 499.6 557.9 500.1 557.5 500.6 557.8 501.1 558.2 501.6 558.0 502.1 558.1 502.6 557.8 503.1 557.6 503.6 557.8 504.1 557.8 504.6 558.1 505.1 558.3 505.6 557.7 506.1 557.8 506.6 557.9 507.1 557.8 507.6 557.6 508.1 557.9 508.6 558.0 509.1 558.0 509.6 557.6 510.1 557.9 510.6 557.5 511.1 558.1 511.6 557.7 512.1 557.8 512.6 557.8 513.1 557.7 513.6 557.6 514.1 557.5 514.6 558.2 515.1 557.9 515.6 557.9 516.1 558.3 516.6 557.8 517.1 558.0 517.6 557.8 518.1 558.1 518.6 557.9 519.1 557.9 519.6 557.8 520.1 557.9 520.6 558.1 521.1 557.4 521.6 557.8 522.1 557.7 522.6 557.7 523.1 557.4 523.6 557.9 524.1 557.6 524.6 557.7 525.1 557.7 525.6 557.4 526.1 557.7 526.6 557.4 527.1 557.6 527.6 557.7 528.1 557.7 528.6 557.7 529.1 557.7 529.6 558.1 530.1 557.8 530.6 557.4 531.1 557.6 531.6 557.5 532.1 557.6 532.6 557.5 533.1 557.5 533.6 558.0 534.1 557.6 534.6 557.5 535.1 557.5 535.6 557.5 536.1 557.8 536.6 557.6 537.1 557.7 537.6 556.9 538.1 557.5 538.6 557.7 539.1 557.8 539.6 557.4 540.1 557.0 540.6 557.5 541.1 557.2 541.6 556.9 542.1 557.1 542.6 557.4 543.1 557.4 543.6 557.2 544.1 556.8 544.6 557.4 545.1 556.6 545.6 556.7 546.1 556.3 546.6 556.6 547.1 556.2 547.6 556.0 548.1 555.4 548.6 554.9 549.1 554.3 549.6 553.2 550.1 552.9 550.6 552.0 551.1 550.8 551.6 550.1 552.1 549.6 552.6 549.8 553.1 549.9 553.6 550.5 554.1 551.2 554.6 551.8 555.1 552.7 555.6 553.5 556.1 553.9 556.6 554.3 557.1 554.7 557.6 554.8 558.1 554.9 558.6 554.9 559.1 554.8 559.6 554.6 560.1 554.5 560.6 553.9 561.1 554.2 561.6 553.4 562.1 553.4 562.6 552.8 563.1 552.6 563.6 551.9 564.1 551.1 564.6 550.8 565.1 550.0 565.6 549.3 566.1 548.5 566.6 548.0 567.1 547.3 567.6 546.6 568.1 545.8 568.6 545.8 569.1 545.9 569.6 546.4 570.1 546.4 570.6 546.8 571.1 547.5 571.6 547.8 572.1 548.4 572.6 549.0 573.1 549.1 573.6 550.0 574.1 550.1 574.6 550.1 575.1 550.0 575.6 550.1 576.1 550.0 576.6 549.1 577.1 548.3 577.6 547.6 578.1 545.9 578.6 544.2 579.1 542.7 579.6 540.5 580.1 538.1 580.6 535.3 581.1 532.6 581.6 529.5 582.1 526.5 582.6 523.9 583.1 522.0 583.6 520.6 584.1 520.1 584.6 520.5 585.1 521.1 585.6 523.7 586.1 526.4 586.6 529.5 587.1 532.1 587.6 535.6 588.1 538.0 588.6 540.2 589.1 542.5 589.6 544.1 590.1 545.4 590.6 546.6 591.1 547.1 591.6 547.2 592.1 547.4 592.6 547.4 593.1 546.8 593.6 546.8 594.1 545.8 594.6 545.8 595.1 545.1 595.6 544.2 596.1 544.1 596.6 544.1 597.1 543.8 597.6 543.9 598.1 544.5 598.6 545.5 599.1 545.5 599.6 546.8 600.1 547.6 600.6 548.5 601.1 549.4 601.6 550.3 602.1 551.4 602.6 552.1 603.1 552.4 603.6 553.5 604.1 553.3 604.6 554.1 605.1 554.2 605.6 554.6 606.1 554.5 606.6 554.7 607.1 554.6 607.6 554.9 608.1 555.0 608.6 555.6 609.1 555.3 609.6 555.9 610.1 556.0 610.6 556.2 611.1 556.3 611.6 556.7 612.1 556.5 612.6 556.6 613.1 557.2 613.6 556.8 614.1 557.5 614.6 557.2 615.1 557.4 615.6 557.4 616.1 557.5 616.6 557.4 617.1 557.4 617.6 557.5 618.1 557.7 618.6 557.8 619.1 557.8 619.6 557.6 620.1 557.5 620.6 557.3 621.1 557.7 621.6 557.8 622.1 557.5 622.6 557.8 623.1 557.9 623.6 557.7 624.1 557.9 624.6 557.7 625.1 557.3 625.6 557.6 626.1 557.6 626.6 557.8 627.1 557.5 627.6 557.6 628.1 557.5 628.6 557.7 629.1 557.7 629.6 557.9 630.1 557.9 630.6 557.8 631.1 557.8 631.6 557.7 632.1 557.7 632.6 558.0 633.1 557.2 633.6 557.7 634.1 557.8 634.6 557.9 635.1 557.5 635.6 557.8 636.1 557.9 636.6 557.6 637.1 557.3 637.6 557.6 638.1 557.3 638.6 557.7 639.1 557.3 639.6 557.7 640.1 557.3 640.6 556.9 641.1 556.8 641.6 556.4 642.1 556.3 642.6 556.1 643.1 555.3 643.6 555.0 644.1 554.2 644.6 554.0 645.1 554.2 645.6 553.5 646.1 554.3 646.6 554.7 647.1 554.5 647.6 555.1 648.1 555.7 648.6 556.5 649.1 556.6 649.6 556.9 650.1 557.3 650.6 557.4 651.1 557.5 651.6 557.5 652.1 557.8 652.6 557.5 653.1 558.0 653.6 557.6 654.1 557.6 654.6 557.9 655.1 557.9 655.6 557.4 656.1 557.8 656.6 557.5 657.1 557.6 657.6 558.0 658.1 557.7 658.6 557.9 659.1 557.8 659.6 558.2 660.1 557.8 660.6 557.6 661.1 557.6 661.6 557.7 662.1 557.9 662.6 557.9 663.1 558.1 663.6 557.9 664.1 557.9 664.6 557.9 665.1 557.9 665.6 557.9 666.1 558.0 666.6 558.0 667.1 557.8 667.6 557.5 668.1 557.7 668.6 557.9 669.1 557.4 669.6 557.8 670.1 558.0 670.6 557.8 671.1 557.7 671.6 558.2 672.1 558.2 672.6 557.8 673.1 558.1 673.6 558.1 674.1 557.7 674.6 558.4 675.1 557.7 675.6 557.8 676.1 557.7 676.6 557.9 677.1 557.6 677.6 557.9 678.1 558.1 678.6 557.9 679.1 557.8 679.6 558.2 680.1 557.7 680.6 558.0 681.1 557.8 681.6 557.9 682.1 557.8 682.6 557.9 683.1 557.8 683.6 557.7 684.1 557.7 684.6 557.9 685.1 557.8 685.6 557.5 686.1 557.6 686.6 557.6 687.1 557.7 687.6 557.7 688.1 557.6 688.6 557.4 689.1 557.5 689.6 557.1 690.1 556.7 690.6 557.2 691.1 556.8 691.6 556.8 692.1 556.6 692.6 556.9 693.1 556.4 693.6 556.6 694.1 556.4 694.6 556.2 695.1 556.1 695.6 556.6 696.1 556.6 696.6 556.8 697.1 557.1 697.6 556.9 698.1 557.0 698.6 557.0 699.1 557.2 699.6 557.2 700.1 557.2 700.6 557.8 701.1 557.1 701.6 557.6 702.1 557.7 702.6 557.7 703.1 557.5 703.6 557.6 704.1 557.6 704.6 557.5 705.1 557.7 705.6 557.6 706.1 557.6 706.6 557.9 707.1 557.5 707.6 557.8 708.1 557.6 708.6 557.8 709.1 557.8 709.6 557.8 710.1 557.5 710.6 557.6 711.1 557.6 711.6 557.8 712.1 557.9 712.6 557.9 713.1 557.6 713.6 557.7 714.1 557.4 714.6 557.3 715.1 557.5 715.6 557.6 716.1 557.4 716.6 557.3 717.1 557.8 717.6 557.5 718.1 557.3 718.6 558.1 719.1 557.7 719.6 557.6 720.1 557.8 720.6 557.5 721.1 558.0 721.6 557.3 722.1 557.4 722.6 557.6 723.1 557.5 723.6 557.9 724.1 557.3 724.6 557.4 725.1 557.6 725.6 557.7 726.1 557.7 726.6 557.6 727.1 558.0 727.6 557.4 728.1 557.5 728.6 557.7 729.1 557.4 729.6 557.4 730.1 557.3 730.6 557.3 731.1 557.2 731.6 557.3 732.1 557.1 732.6 557.4 733.1 557.0 733.6 557.7 734.1 557.6 734.6 557.5 735.1 557.2 735.6 557.1 736.1 557.4 736.6 557.2 737.1 557.2 737.6 557.0 738.1 557.3 738.6 556.9 739.1 557.0 739.6 556.6 740.1 556.8 740.6 557.0 741.1 556.7 741.6 556.7 742.1 556.9 742.6 556.7 743.1 556.9 743.6 556.1 744.1 556.6 744.6 556.5 745.1 556.0 745.6 556.0 746.1 556.3 746.6 555.9 747.1 555.9 747.6 556.0 748.1 555.7 748.6 555.7 749.1 555.3 749.6 555.4 750.1 555.4 750.6 555.1 751.1 554.4 751.6 554.7 752.1 554.3 752.6 553.8 753.1 554.0 753.6 553.0 754.1 553.2 754.6 552.2 755.1 552.1 755.6 551.0 756.1 549.9 756.6 549.3 757.1 548.2 757.6 546.9 758.1 545.4 758.6 543.3 759.1 541.6 759.6 539.4 760.1 536.6 760.6 533.8 761.1 530.7 761.6 527.9 762.1 524.6 762.6 520.8 763.1 517.4 763.6 514.8 764.1 511.5 764.6 509.7 765.1 508.1 765.6 507.5 766.1 508.3 766.6 509.6 767.1 512.1 767.6 515.0 768.1 517.7 768.6 521.2 769.1 524.6 769.6 527.7 770.1 530.8 770.6 534.3 771.1 536.7 771.6 539.2 772.1 541.4 772.6 543.5 773.1 545.1 773.6 546.9 774.1 548.4 774.6 549.2 775.1 549.9 775.6 551.1 776.1 551.5 776.6 552.2 777.1 553.1 777.6 553.8 778.1 553.8 778.6 553.8 779.1 554.5 779.6 554.1 780.1 554.6 780.6 555.3 781.1 555.3 781.6 555.1 782.1 555.2 782.6 555.8 783.1 555.7 783.6 555.7 784.1 556.1 784.6 556.0 785.1 555.8 785.6 556.4 786.1 556.2 786.6 556.2 787.1 556.2 787.6 556.6 788.1 556.4 788.6 556.8 789.1 556.7 789.6 557.0 790.1 556.7 790.6 556.7 791.1 556.5 791.6 556.7 792.1 557.1 792.6 557.6 793.1 556.8 793.6 556.9 794.1 557.2 794.6 557.2 795.1 557.0 795.6 557.2 796.1 556.9 796.6 557.2 797.1 557.4 797.6 557.6 798.1 557.3 798.6 557.3 799.1 557.4 799.6 557.6 800.1 557.5 800.6 557.2 801.1 557.5 801.6 557.6 802.1 557.3 802.6 557.2 803.1 557.6 803.6 557.6 804.1 557.7 804.6 557.5 805.1 557.4 805.6 557.4 806.1 557.3 806.6 557.4 807.1 557.4 807.6 557.5 808.1 557.8 808.6 557.3 809.1 557.6 809.6 557.5 810.1 557.9 810.6 557.7 811.1 557.5 811.6 557.8 812.1 557.6 812.6 557.5 813.1 557.9 813.6 557.8 814.1 558.0 814.6 557.9 815.1 557.8 815.6 557.7 816.1 557.5 816.6 557.8 817.1 557.7 817.6 557.8 818.1 557.7 818.6 557.6 819.1 557.5 819.6 557.8 820.1 558.0 820.6 557.6 821.1 557.8 821.6 558.0 822.1 557.5 822.6 557.6 823.1 557.5 823.6 558.0 824.1 557.8 824.6 557.6 825.1 557.4 825.6 557.7 826.1 557.9 826.6 557.7 827.1 557.6 827.6 557.9 828.1 557.5 828.6 557.7 829.1 557.8 829.6 557.6 830.1 557.6 830.6 557.8 831.1 557.7 831.6 557.7 832.1 557.8 832.6 557.8 833.1 557.5 833.6 557.6 834.1 557.8 834.6 557.9 835.1 558.0 835.6 557.5 836.1 557.9 836.6 557.9 837.1 557.7 837.6 557.8 838.1 557.9 838.6 558.1 839.1 557.5 839.6 557.8 840.1 557.7 840.6 557.6 841.1 557.9 841.6 557.8 842.1 557.5 842.6 557.6 843.1 557.7 843.6 557.4 844.1 557.8 844.6 557.6 845.1 557.7 845.6 557.7 846.1 558.0 846.6 557.6 847.1 557.5 847.6 557.9 848.1 557.5 848.6 557.5 849.1 557.3 849.6 557.8 850.1 557.6 850.6 557.6 851.1 557.5 851.6 557.5 852.1 557.3 852.6 557.3 853.1 557.5 853.6 557.4 854.1 557.7 854.6 557.2 855.1 557.2 855.6 557.1 856.1 557.5 856.6 557.0 857.1 557.3 857.6 557.4 858.1 557.1 858.6 557.2 859.1 556.5 859.6 556.8 860.1 556.4 860.6 556.6 861.1 556.4 861.6 556.0 862.1 556.0 862.6 555.4 863.1 554.7 863.6 554.0 864.1 552.9 864.6 552.0 865.1 551.1 865.6 548.9 866.1 547.3 866.6 545.0 867.1 542.9 867.6 540.4 868.1 537.7 868.6 534.9 869.1 532.8 869.6 531.0 870.1 528.9 870.6 527.8 871.1 526.9 871.6 526.5 872.1 527.4 872.6 528.4 873.1 529.5 873.6 531.0 874.1 532.6 874.6 533.8 875.1 535.1 875.6 535.8 876.1 535.9 876.6 536.8 877.1 537.0 877.6 537.4 878.1 538.4 878.6 539.4 879.1 541.1 879.6 542.8 880.1 544.1 880.6 545.1 881.1 546.3 881.6 547.3 882.1 547.3 882.6 547.1 883.1 546.8 883.6 546.1 884.1 545.0 884.6 543.8 885.1 542.0 885.6 540.5 886.1 538.8 886.6 537.1 887.1 534.9 887.6 533.5 888.1 531.7 888.6 530.8 889.1 529.6 889.6 528.7 890.1 528.0 890.6 527.7 891.1 528.2 891.6 528.7 892.1 529.9 892.6 530.9 893.1 532.5 893.6 534.5 894.1 536.6 894.6 538.1 895.1 540.4 895.6 542.4 896.1 543.3 896.6 545.2 897.1 546.6 897.6 548.2 898.1 549.3 898.6 550.6 899.1 551.8 899.6 552.6 900.1 553.3 900.6 553.8 901.1 554.4 901.6 554.9 902.1 555.3 902.6 555.5 903.1 555.9 903.6 555.7 904.1 556.3 904.6 556.7 905.1 556.5 905.6 556.2 906.1 556.9 906.6 556.6 907.1 556.1 907.6 556.7 908.1 556.9 908.6 556.9 909.1 557.1 909.6 557.0 910.1 556.8 910.6 556.4 911.1 556.5 911.6 556.7 912.1 556.8 912.6 556.3 913.1 556.3 913.6 556.3 914.1 555.7 914.6 555.5 915.1 555.6 915.6 555.4 916.1 555.0 916.6 554.4 917.1 554.6 917.6 554.1 918.1 554.3 918.6 554.0 919.1 554.0 919.6 554.1 920.1 554.0 920.6 554.4 921.1 554.8 921.6 554.9 922.1 555.4 922.6 555.3 923.1 555.9 923.6 556.0 924.1 556.0 924.6 556.4 925.1 556.5 925.6 556.7 926.1 557.0 926.6 557.3 927.1 557.1 927.6 557.3 928.1 557.1 928.6 557.4 929.1 557.7 929.6 557.7 930.1 557.6 930.6 557.5 931.1 557.4 931.6 557.6 932.1 557.4 932.6 557.4 933.1 557.8 933.6 557.5 934.1 558.0 934.6 557.4 935.1 557.8 935.6 557.5 936.1 557.8 936.6 557.5 937.1 557.8 937.6 557.7 938.1 557.7 938.6 557.9 939.1 558.1 939.6 557.7 940.1 558.0 940.6 557.8 941.1 557.8 941.6 558.2 942.1 557.4 942.6 557.7 943.1 557.5 943.6 557.8 944.1 557.8 944.6 558.6 945.1 557.9 945.6 558.2 946.1 558.1 946.6 557.8 947.1 557.9 947.6 558.2 948.1 557.9 948.6 557.9 949.1 558.0 949.6 557.6 950.1 557.7 950.6 557.9 951.1 558.0 951.6 557.7 952.1 557.8 952.6 557.8 953.1 557.8 953.6 558.0 954.1 557.9 954.6 557.9 955.1 557.6 955.6 557.7 956.1 557.9 956.6 557.6 957.1 557.9 957.6 557.7 958.1 557.7 958.6 558.0 959.1 557.7 959.6 557.7 960.1 557.7 960.6 557.9 961.1 558.4 961.6 557.5 962.1 557.9 962.6 557.8 963.1 558.1 963.6 557.8 964.1 557.4 964.6 558.1 965.1 557.7 965.6 557.9 966.1 557.6 966.6 557.7 967.1 557.8 967.6 558.0 968.1 558.0 968.6 557.8 969.1 558.0 969.6 557.8 970.1 557.9 970.6 557.9 971.1 558.0 971.6 557.7 972.1 557.8 972.6 557.9 973.1 557.9 973.6 557.7 974.1 558.2 974.6 557.8 975.1 558.0 975.6 557.9 976.1 558.1 976.6 557.4 977.1 558.2 977.6 557.8 978.1 557.6 978.6 557.9 979.1 558.3 979.6 557.9 980.1 557.6 980.6 557.7 981.1 558.1 981.6 557.5 982.1 557.8 982.6 557.7 983.1 558.2 983.6 557.7 984.1 558.1 984.6 557.7 985.1 557.6 985.6 558.0 986.1 557.9 986.6 557.4 987.1 557.9 987.6 557.9 988.1 557.6 988.6 557.8 989.1 557.8 989.6 557.6 990.1 557.6 990.6 557.6 991.1 557.6 991.6 557.4 992.1 557.7 992.6 557.4 993.1 557.7 993.6 557.6 994.1 557.4 994.6 557.8 995.1 558.0 995.6 557.9 996.1 557.3 996.6 557.8 997.1 557.6 997.6 557.5 998.1 557.4 998.6 557.5 999.1 557.7 999.6 557.5 1000.1 557.3 1000.6 557.2 1001.1 557.2 1001.6 557.4 1002.1 557.6 1002.6 557.0 1003.1 557.1 1003.6 556.9 1004.1 556.8 1004.6 556.9 1005.1 556.8 1005.6 556.3 1006.1 556.2 1006.6 556.5 1007.1 556.1 1007.6 556.0 1008.1 555.5 1008.6 555.3 1009.1 555.2 1009.6 554.7 1010.1 554.3 1010.6 554.2 1011.1 554.0 1011.6 553.2 1012.1 553.3 1012.6 552.8 1013.1 552.2 1013.6 552.0 1014.1 551.6 1014.6 551.4 1015.1 551.1 1015.6 550.5 1016.1 550.2 1016.6 550.5 1017.1 550.1 1017.6 550.0 1018.1 549.7 1018.6 549.7 1019.1 548.8 1019.6 548.9 1020.1 548.1 1020.6 547.9 1021.1 547.4 1021.6 546.1 1022.1 545.7 1022.6 544.7 1023.1 543.7 1023.6 542.8 1024.1 541.5 1024.6 540.4 1025.1 539.7 1025.6 538.8 1026.1 537.7 1026.6 536.8 1027.1 537.0 1027.6 536.5 1028.1 536.3 1028.6 536.3 1029.1 536.9 1029.6 537.7 1030.1 538.4 1030.6 540.0 1031.1 540.8 1031.6 542.1 1032.1 543.1 1032.6 544.4 1033.1 545.7 1033.6 547.1 1034.1 548.1 1034.6 549.2 1035.1 550.3 1035.6 551.2 1036.1 552.3 1036.6 552.7 1037.1 553.2 1037.6 553.9 1038.1 554.7 1038.6 554.8 1039.1 555.2 1039.6 555.5 1040.1 555.9 1040.6 556.1 1041.1 556.0 1041.6 556.3 1042.1 556.6 1042.6 556.8 1043.1 556.8 1043.6 556.9 1044.1 556.6 1044.6 556.7 1045.1 556.9 1045.6 556.5 1046.1 556.7 1046.6 556.2 1047.1 556.5 1047.6 556.3 1048.1 556.1 1048.6 556.4 1049.1 556.0 1049.6 556.0 1050.1 555.9 1050.6 555.8 1051.1 556.2 1051.6 555.9 1052.1 556.1 1052.6 555.9 1053.1 556.2 1053.6 556.3 1054.1 556.5 1054.6 556.6 1055.1 556.9 1055.6 557.3 1056.1 557.0 1056.6 557.1 1057.1 557.2 1057.6 557.8 1058.1 557.7 1058.6 557.6 1059.1 557.6 1059.6 557.4 1060.1 557.5 1060.6 557.6 1061.1 557.6 1061.6 557.5 1062.1 557.5 1062.6 557.8 1063.1 557.7 1063.6 557.3 1064.1 557.7 1064.6 558.0 1065.1 557.6 1065.6 557.8 1066.1 557.5 1066.6 557.9 1067.1 557.5 1067.6 557.5 1068.1 557.7 1068.6 558.2 1069.1 557.7 1069.6 557.5 1070.1 557.9 1070.6 557.8 1071.1 558.1 1071.6 557.5 1072.1 557.5 1072.6 557.7 1073.1 557.9 1073.6 557.9 1074.1 558.0 1074.6 557.5 1075.1 557.7 1075.6 557.8 1076.1 558.0 1076.6 557.9 1077.1 557.7 1077.6 557.6 1078.1 558.0 1078.6 558.0 1079.1 558.4 1079.6 557.8 1080.1 558.2 1080.6 557.6 1081.1 557.7 1081.6 557.7 1082.1 557.7 1082.6 557.7 1083.1 557.7 1083.6 557.8 1084.1 557.8 1084.6 558.0 1085.1 557.8 1085.6 557.8 1086.1 558.1 1086.6 557.9 1087.1 557.9 1087.6 557.8 1088.1 557.8 1088.6 557.9 1089.1 557.7 1089.6 558.1 1090.1 558.1 1090.6 558.1 1091.1 557.7 1091.6 557.5 1092.1 557.7 1092.6 557.9 1093.1 558.0 1093.6 557.8 1094.1 557.8 1094.6 558.1 1095.1 557.7 1095.6 558.0 1096.1 558.0 1096.6 557.5 1097.1 557.9 1097.6 557.7 1098.1 557.6 1098.6 557.4 1099.1 557.5 1099.6 557.9 1100.1 557.7 1100.6 557.8 1101.1 557.6 1101.6 557.7 1102.1 557.7 1102.6 557.5 1103.1 557.4 1103.6 557.8 1104.1 557.8 1104.6 557.6 1105.1 557.7 1105.6 557.9 1106.1 558.1 1106.6 557.5 1107.1 557.8 1107.6 558.1 1108.1 557.7 1108.6 558.0 1109.1 557.2 1109.6 558.0 1110.1 557.7 1110.6 557.3 1111.1 557.8 1111.6 557.8 1112.1 557.8 1112.6 557.8 1113.1 557.6 1113.6 557.4 1114.1 557.5 1114.6 557.5 1115.1 557.6 1115.6 557.4 1116.1 557.5 1116.6 557.6 1117.1 557.5 1117.6 557.9 1118.1 557.8 1118.6 557.1 1119.1 557.2 1119.6 557.0 1120.1 557.0 1120.6 557.3 1121.1 557.0 1121.6 556.9 1122.1 557.0 1122.6 557.1 1123.1 556.8 1123.6 556.8 1124.1 556.9 1124.6 556.7 1125.1 556.6 1125.6 556.6 1126.1 556.1 1126.6 556.2 1127.1 555.8 1127.6 556.0 1128.1 555.7 1128.6 555.1 1129.1 555.3 1129.6 554.5 1130.1 554.7 1130.6 554.1 1131.1 553.5 1131.6 553.1 1132.1 552.8 1132.6 552.4 1133.1 551.7 1133.6 551.5 1134.1 550.6 1134.6 550.3 1135.1 549.8 1135.6 549.0 1136.1 549.0 1136.6 548.3 1137.1 547.8 1137.6 548.0 1138.1 548.0 1138.6 548.3 1139.1 548.2 1139.6 548.8 1140.1 549.2 1140.6 549.5 1141.1 550.1 1141.6 550.4 1142.1 550.7 1142.6 551.4 1143.1 552.0 1143.6 552.3 1144.1 552.7 1144.6 552.9 1145.1 553.7 1145.6 554.0 1146.1 554.0 1146.6 554.6 1147.1 555.0 1147.6 555.0 1148.1 555.4 1148.6 555.5 1149.1 555.2 1149.6 555.6 1150.1 555.8 1150.6 555.9 1151.1 556.0 1151.6 555.3 1152.1 555.5 1152.6 555.6 1153.1 555.5 1153.6 555.4 1154.1 554.6 1154.6 554.5 1155.1 554.0 1155.6 554.0 1156.1 553.2 1156.6 553.3 1157.1 552.8 1157.6 552.2 1158.1 551.2 1158.6 551.0 1159.1 550.8 1159.6 550.0 1160.1 549.8 1160.6 549.5 1161.1 549.5 1161.6 549.2 1162.1 549.1 1162.6 549.0 1163.1 549.2 1163.6 549.4 1164.1 549.8 1164.6 550.0 1165.1 550.7 1165.6 550.6 1166.1 551.7 1166.6 551.9 1167.1 552.7 1167.6 553.0 1168.1 553.7 1168.6 554.3 1169.1 554.3 1169.6 554.9 1170.1 555.2 1170.6 555.6 1171.1 555.6 1171.6 556.1 1172.1 556.4 1172.6 556.5 1173.1 556.8 1173.6 556.7 1174.1 557.4 1174.6 557.3 1175.1 557.7 1175.6 557.2 1176.1 557.2 1176.6 557.6 1177.1 557.2 1177.6 557.7 1178.1 557.5 1178.6 557.6 1179.1 557.8 1179.6 557.7 1180.1 558.1 1180.6 557.9 1181.1 557.5 1181.6 558.0 1182.1 557.5 1182.6 557.8 1183.1 557.6 1183.6 557.7 1184.1 558.1 1184.6 557.8 1185.1 557.7 1185.6 557.8 1186.1 557.8 1186.6 558.2 1187.1 557.7 1187.6 557.7 1188.1 558.0 1188.6 557.6 1189.1 557.9 1189.6 558.2 1190.1 557.9 1190.6 557.8 1191.1 557.8 1191.6 557.8 1192.1 557.8 1192.6 558.0 1193.1 558.2 1193.6 558.2 1194.1 557.9 1194.6 557.8 1195.1 558.1 1195.6 557.6 1196.1 557.9 1196.6 557.9 1197.1 557.8 1197.6 557.8 1198.1 558.0 1198.6 557.7 1199.1 557.8 1199.6 557.9 1200.1 558.0 1200.6 557.7 1201.1 558.2 1201.6 557.9 1202.1 557.9 1202.6 557.9 1203.1 557.8 1203.6 557.8 1204.1 558.2 1204.6 558.0 1205.1 558.0 1205.6 558.2 1206.1 557.8 1206.6 558.1 1207.1 558.0 1207.6 557.8 1208.1 558.1 1208.6 557.7 1209.1 558.1 1209.6 557.8 1210.1 558.0 1210.6 558.2 1211.1 558.0 1211.6 557.8 1212.1 557.9 1212.6 557.8 1213.1 557.7 1213.6 557.7 1214.1 557.9 1214.6 558.0 1215.1 557.5 1215.6 557.9 1216.1 558.0 1216.6 557.9 1217.1 557.6 1217.6 558.0 1218.1 557.6 1218.6 557.9 1219.1 558.1 1219.6 557.4 1220.1 557.8 1220.6 557.8 1221.1 557.8 1221.6 557.6 1222.1 557.6 1222.6 557.4 1223.1 557.7 1223.6 557.8 1224.1 557.5 1224.6 557.4 1225.1 557.5 1225.6 557.5 1226.1 557.5 1226.6 557.5 1227.1 557.5 1227.6 557.2 1228.1 556.8 1228.6 557.5 1229.1 557.6 1229.6 557.0 1230.1 557.1 1230.6 557.2 1231.1 557.3 1231.6 557.1 1232.1 557.2 1232.6 556.8 1233.1 556.8 1233.6 556.7 1234.1 556.4 1234.6 556.6 1235.1 556.4 1235.6 556.3 1236.1 555.8 1236.6 555.9 1237.1 555.3 1237.6 555.3 1238.1 554.4 1238.6 554.4 1239.1 554.4 1239.6 553.8 1240.1 553.4 1240.6 552.6 1241.1 552.7 1241.6 551.9 1242.1 551.1 1242.6 550.5 1243.1 549.8 1243.6 549.3 1244.1 548.3 1244.6 547.2 1245.1 546.7 1245.6 546.3 1246.1 545.6 1246.6 544.9 1247.1 544.8 1247.6 544.6 1248.1 544.8 1248.6 544.7 1249.1 545.3 1249.6 546.1 1250.1 546.6 1250.6 547.5 1251.1 548.5 1251.6 548.8 1252.1 549.7 1252.6 550.2 1253.1 550.8 1253.6 551.5 1254.1 551.8 1254.6 552.2 1255.1 553.3 1255.6 553.3 1256.1 553.9 1256.6 554.0 1257.1 554.2 1257.6 554.4 1258.1 554.5 1258.6 554.2 1259.1 554.7 1259.6 554.3 1260.1 554.5 1260.6 554.9 1261.1 554.3 1261.6 554.5 1262.1 554.0 1262.6 554.0 1263.1 553.8 1263.6 553.7 1264.1 553.4 1264.6 553.3 1265.1 553.5 1265.6 553.1 1266.1 553.3 1266.6 553.7 1267.1 553.6 1267.6 553.8 1268.1 553.9 1268.6 554.4 1269.1 554.6 1269.6 554.9 1270.1 555.1 1270.6 555.8 1271.1 555.6 1271.6 555.5 1272.1 556.2 1272.6 556.4 1273.1 556.6 1273.6 556.4 1274.1 557.1 1274.6 557.0 1275.1 557.2 1275.6 557.0 1276.1 557.5 1276.6 557.5 1277.1 557.8 1277.6 557.5 1278.1 557.4 1278.6 557.8 1279.1 557.6 1279.6 557.9 1280.1 557.6 1280.6 557.9 1281.1 557.9 1281.6 557.9 1282.1 557.9 1282.6 557.8 1283.1 558.0 1283.6 557.9 1284.1 558.1 1284.6 558.0 1285.1 557.6 1285.6 558.1 1286.1 558.4 1286.6 558.2 1287.1 558.2 1287.6 558.2 1288.1 558.0 1288.6 557.9 1289.1 558.3 1289.6 558.4 1290.1 558.3 1290.6 558.3 1291.1 558.3 1291.6 558.2 1292.1 558.3 1292.6 558.2 1293.1 558.3 1293.6 558.0 1294.1 558.1 1294.6 558.4 1295.1 558.2 1295.6 557.8 1296.1 558.3 1296.6 557.8 1297.1 558.6 1297.6 558.4 1298.1 558.4 1298.6 558.2 1299.1 558.1 1299.6 558.3 1300.1 558.3 1300.6 558.2 1301.1 558.3 1301.6 558.5 1302.1 558.4 1302.6 558.1 1303.1 557.9 1303.6 558.3 1304.1 558.2 1304.6 558.4 1305.1 558.7 1305.6 558.7 1306.1 558.4 1306.6 558.6 1307.1 558.7 1307.6 558.4 1308.1 558.4 1308.6 558.5 1309.1 558.4 1309.6 558.3 1310.1 558.2 1310.6 558.4 1311.1 558.3 1311.6 558.5 1312.1 558.3 1312.6 558.7 1313.1 558.6 1313.6 558.2 1314.1 558.6 1314.6 558.3 1315.1 558.7 1315.6 558.5 1316.1 558.4 1316.6 558.6 1317.1 558.3 1317.6 558.5 1318.1 558.5 1318.6 558.4 1319.1 558.5 1319.6 558.2 1320.1 558.5 1320.6 558.2 1321.1 558.6 1321.6 558.5 1322.1 558.6 1322.6 558.3 1323.1 559.0 1323.6 558.4 1324.1 558.5 1324.6 558.3 1325.1 558.7 1325.6 558.4 1326.1 558.7 1326.6 558.3 1327.1 558.5 1327.6 558.4 1328.1 558.7 1328.6 558.4 1329.1 558.3 1329.6 558.6 1330.1 558.3 1330.6 558.3 1331.1 558.6 1331.6 558.1 1332.1 558.6 1332.6 558.4 1333.1 558.3 1333.6 558.5 1334.1 558.6 1334.6 558.4 1335.1 558.5"/>
<path stroke="#0CB050" d="M89.6 472.8 90.1 472.8 90.6 472.4 91.1 472.0 91.6 471.9 92.1 472.1 92.6 472.8 93.1 472.7 93.6 472.6 94.1 473.2 94.6 472.3 95.1 472.3 95.6 472.3 96.1 473.5 96.6 471.5 97.1 472.7 97.6 472.8 98.1 472.6 98.6 473.8 99.1 473.2 99.6 473.0 100.1 472.1 100.6 472.9 101.1 472.4 101.6 472.6 102.1 472.7 102.6 472.4 103.1 473.0 103.6 473.5 104.1 473.2 104.6 472.8 105.1 471.7 105.6 473.3 106.1 473.3 106.6 472.6 107.1 472.5 107.6 473.1 108.1 472.3 108.6 473.2 109.1 472.2 109.6 472.3 110.1 472.8 110.6 472.1 111.1 472.8 111.6 473.1 112.1 472.2 112.6 473.3 113.1 472.6 113.6 473.1 114.1 473.0 114.6 472.7 115.1 472.6 115.6 472.0 116.1 472.6 116.6 472.5 117.1 473.8 117.6 473.5 118.1 472.3 118.6 473.4 119.1 473.1 119.6 472.8 120.1 473.2 120.6 473.4 121.1 472.7 121.6 472.9 122.1 473.1 122.6 472.5 123.1 473.1 123.6 473.0 124.1 472.7 124.6 472.7 125.1 473.2 125.6 473.5 126.1 473.3 126.6 472.7 127.1 473.5 127.6 473.2 128.1 473.4 128.6 473.7 129.1 472.7 129.6 473.1 130.1 472.9 130.6 472.8 131.1 474.2 131.6 473.7 132.1 472.4 132.6 473.4 133.1 473.0 133.6 473.8 134.1 473.3 134.6 473.2 135.1 473.4 135.6 473.5 136.1 473.3 136.6 473.2 137.1 473.3 137.6 473.6 138.1 472.8 138.6 473.3 139.1 473.3 139.6 473.1 140.1 473.7 140.6 472.8 141.1 473.2 141.6 473.0 142.1 473.7 142.6 473.2 143.1 473.5 143.6 473.6 144.1 472.7 144.6 473.7 145.1 473.1 145.6 473.4 146.1 473.4 146.6 473.9 147.1 473.9 147.6 474.4 148.1 473.6 148.6 473.3 149.1 473.3 149.6 473.9 150.1 474.3 150.6 473.7 151.1 473.3 151.6 473.7 152.1 473.7 152.6 473.6 153.1 473.3 153.6 472.4 154.1 473.4 154.6 474.1 155.1 473.8 155.6 472.6 156.1 473.7 156.6 472.8 157.1 474.6 157.6 473.8 158.1 473.1 158.6 474.1 159.1 473.4 159.6 474.0 160.1 473.7 160.6 473.2 161.1 474.1 161.6 473.1 162.1 474.4 162.6 473.8 163.1 473.3 163.6 473.0 164.1 474.6 164.6 474.5 165.1 473.2 165.6 474.6 166.1 473.9 166.6 473.7 167.1 473.8 167.6 473.7 168.1 474.5 168.6 473.9 169.1 473.0 169.6 474.9 170.1 474.3 170.6 473.4 171.1 473.8 171.6 473.5 172.1 474.0 172.6 474.1 173.1 474.1 173.6 473.7 174.1 473.6 174.6 474.4 175.1 473.9 175.6 475.0 176.1 473.6 176.6 474.4 177.1 474.0 177.6 473.7 178.1 474.6 178.6 474.1 179.1 473.7 179.6 473.9 180.1 474.5 180.6 473.5 181.1 474.7 181.6 474.4 182.1 474.0 182.6 474.7 183.1 474.9 183.6 474.4 184.1 474.2 184.6 475.0 185.1 474.8 185.6 473.8 186.1 474.1 186.6 474.1 187.1 474.0 187.6 473.5 188.1 474.6 188.6 474.3 189.1 474.3 189.6 474.8 190.1 474.0 190.6 474.2 191.1 474.4 191.6 474.1 192.1 474.2 192.6 474.6 193.1 474.3 193.6 474.9 194.1 474.0 194.6 474.4 195.1 473.7 195.6 474.3 196.1 474.0 196.6 474.9 197.1 474.7 197.6 474.6 198.1 475.2 198.6 475.0 199.1 474.7 199.6 474.1 200.1 473.8 200.6 474.4 201.1 474.3 201.6 474.2 202.1 474.3 202.6 473.8 203.1 475.1 203.6 474.0 204.1 474.2 204.6 474.7 205.1 473.8 205.6 474.9 206.1 474.9 206.6 474.4 207.1 474.1 207.6 474.3 208.1 473.8 208.6 475.1 209.1 474.6 209.6 474.3 210.1 474.2 210.6 474.8 211.1 475.2 211.6 474.1 212.1 474.4 212.6 473.9 213.1 474.9 213.6 474.7 214.1 475.6 214.6 474.6 215.1 474.5 215.6 474.4 216.1 475.0 216.6 474.0 217.1 474.9 217.6 474.7 218.1 474.4 218.6 474.3 219.1 475.1 219.6 475.4 220.1 474.5 220.6 474.9 221.1 475.3 221.6 474.4 222.1 474.6 222.6 474.2 223.1 474.6 223.6 474.6 224.1 474.5 224.6 474.4 225.1 474.0 225.6 474.1 226.1 474.3 226.6 474.9 227.1 474.5 227.6 474.3 228.1 474.9 228.6 474.9 229.1 474.4 229.6 474.4 230.1 474.9 230.6 474.8 231.1 474.3 231.6 474.8 232.1 474.7 232.6 475.1 233.1 474.3 233.6 475.0 234.1 474.8 234.6 474.3 235.1 475.1 235.6 475.0 236.1 474.2 236.6 475.4 237.1 474.2 237.6 474.3 238.1 474.6 238.6 475.0 239.1 474.9 239.6 474.6 240.1 475.2 240.6 474.8 241.1 475.2 241.6 475.7 242.1 474.8 242.6 473.7 243.1 474.5 243.6 474.3 244.1 474.7 244.6 474.7 245.1 474.2 245.6 474.3 246.1 474.6 246.6 474.6 247.1 473.7 247.6 475.0 248.1 474.7 248.6 474.7 249.1 474.8 249.6 474.3 250.1 474.7 250.6 475.1 251.1 475.1 251.6 474.9 252.1 474.6 252.6 474.4 253.1 475.2 253.6 474.9 254.1 474.5 254.6 473.9 255.1 474.4 255.6 474.0 256.1 475.1 256.6 474.8 257.1 474.4 257.6 474.6 258.1 475.6 258.6 475.1 259.1 474.2 259.6 474.6 260.1 474.3 260.6 474.1 261.1 474.8 261.6 475.5 262.1 475.2 262.6 474.7 263.1 474.6 263.6 474.8 264.1 475.1 264.6 474.2 265.1 474.0 265.6 475.3 266.1 474.8 266.6 475.3 267.1 474.8 267.6 475.2 268.1 474.5 268.6 474.9 269.1 475.2 269.6 475.0 270.1 474.5 270.6 475.0 271.1 474.5 271.6 474.2 272.1 474.9 272.6 475.2 273.1 475.0 273.6 474.3 274.1 475.0 274.6 474.9 275.1 474.5 275.6 473.9 276.1 475.0 276.6 475.0 277.1 474.9 277.6 474.1 278.1 474.2 278.6 475.0 279.1 475.0 279.6 474.8 280.1 474.6 280.6 474.8 281.1 474.5 281.6 474.6 282.1 474.4 282.6 474.8 283.1 474.5 283.6 475.0 284.1 474.9 284.6 474.4 285.1 475.3 285.6 474.3 286.1 474.8 286.6 475.0 287.1 475.1 287.6 473.9 288.1 475.0 288.6 475.1 289.1 475.1 289.6 473.9 290.1 474.4 290.6 474.6 291.1 474.5 291.6 475.1 292.1 474.4 292.6 475.0 293.1 474.8 293.6 474.2 294.1 474.3 294.6 474.5 295.1 474.7 295.6 474.9 296.1 474.6 296.6 474.9 297.1 474.1 297.6 473.7 298.1 474.5 298.6 474.8 299.1 474.5 299.6 474.3 300.1 474.7 300.6 475.2 301.1 474.6 301.6 474.4 302.1 474.3 302.6 475.2 303.1 474.6 303.6 474.8 304.1 474.9 304.6 474.9 305.1 474.3 305.6 474.8 306.1 474.8 306.6 474.7 307.1 474.8 307.6 474.3 308.1 474.5 308.6 474.3 309.1 474.7 309.6 474.3 310.1 474.6 310.6 474.1 311.1 474.4 311.6 474.4 312.1 474.4 312.6 474.5 313.1 474.4 313.6 474.4 314.1 473.8 314.6 474.7 315.1 474.2 315.6 474.3 316.1 474.1 316.6 474.6 317.1 474.1 317.6 474.5 318.1 474.7 318.6 474.8 319.1 474.6 319.6 474.5 320.1 473.9 320.6 474.6 321.1 474.6 321.6 474.5 322.1 474.4 322.6 474.2 323.1 474.0 323.6 474.4 324.1 474.5 324.6 473.8 325.1 474.3 325.6 474.1 326.1 474.3 326.6 474.1 327.1 474.3 327.6 474.2 328.1 474.2 328.6 473.5 329.1 474.1 329.6 473.8 330.1 473.5 330.6 473.9 331.1 473.3 331.6 473.9 332.1 474.1 332.6 473.4 333.1 473.8 333.6 473.6 334.1 473.6 334.6 473.0 335.1 473.4 335.6 473.2 336.1 473.3 336.6 473.1 337.1 473.3 337.6 473.0 338.1 473.0 338.6 473.1 339.1 472.6 339.6 472.7 340.1 472.4 340.6 472.4 341.1 472.0 341.6 472.2 342.1 472.1 342.6 471.6 343.1 471.6 343.6 471.3 344.1 470.7 344.6 470.9 345.1 470.8 345.6 470.1 346.1 469.4 346.6 469.6 347.1 469.0 347.6 469.2 348.1 468.2 348.6 467.6 349.1 466.8 349.6 466.3 350.1 465.1 350.6 463.9 351.1 462.6 351.6 460.6 352.1 458.8 352.6 455.1 353.1 451.4 353.6 446.3 354.1 439.7 354.6 432.6 355.1 422.1 355.6 411.6 356.1 397.6 356.6 383.0 357.1 367.0 357.6 348.4 358.1 330.8 358.6 314.4 359.1 298.9 359.6 286.9 360.1 279.8 360.6 278.1 361.1 282.8 361.6 292.8 362.1 306.0 362.6 322.5 363.1 340.3 363.6 358.3 364.1 374.7 364.6 390.7 365.1 404.7 365.6 417.0 366.1 427.5 366.6 436.2 367.1 443.0 367.6 448.6 368.1 453.4 368.6 457.0 369.1 460.0 369.6 461.7 370.1 463.4 370.6 464.9 371.1 465.9 371.6 466.6 372.1 467.3 372.6 468.4 373.1 468.4 373.6 468.8 374.1 468.9 374.6 469.8 375.1 470.0 375.6 470.8 376.1 470.5 376.6 471.0 377.1 471.3 377.6 471.7 378.1 471.2 378.6 472.0 379.1 471.8 379.6 471.9 380.1 472.0 380.6 472.1 381.1 472.2 381.6 471.9 382.1 472.6 382.6 472.6 383.1 472.5 383.6 472.7 384.1 473.4 384.6 473.0 385.1 472.8 385.6 473.4 386.1 472.8 386.6 473.0 387.1 472.9 387.6 473.0 388.1 473.2 388.6 473.2 389.1 472.9 389.6 473.0 390.1 473.0 390.6 472.8 391.1 472.7 391.6 472.4 392.1 472.2 392.6 472.1 393.1 471.4 393.6 471.0 394.1 469.9 394.6 468.4 395.1 466.8 395.6 464.7 396.1 462.3 396.6 459.7 397.1 457.2 397.6 455.6 398.1 456.0 398.6 457.2 399.1 459.3 399.6 462.2 400.1 464.6 400.6 466.8 401.1 468.7 401.6 470.7 402.1 471.4 402.6 472.1 403.1 472.4 403.6 473.0 404.1 473.6 404.6 473.5 405.1 473.8 405.6 473.9 406.1 473.9 406.6 474.2 407.1 474.0 407.6 474.2 408.1 474.0 408.6 474.7 409.1 474.3 409.6 474.3 410.1 474.6 410.6 474.2 411.1 474.4 411.6 474.2 412.1 474.5 412.6 474.4 413.1 474.6 413.6 474.5 414.1 474.4 414.6 474.5 415.1 474.6 415.6 474.5 416.1 474.8 416.6 474.8 417.1 474.7 417.6 474.4 418.1 474.8 418.6 474.4 419.1 474.8 419.6 474.7 420.1 474.6 420.6 474.6 421.1 474.6 421.6 475.2 422.1 474.7 422.6 474.8 423.1 475.0 423.6 474.9 424.1 475.1 424.6 474.6 425.1 474.6 425.6 475.6 426.1 474.9 426.6 474.8 427.1 474.9 427.6 475.1 428.1 474.7 428.6 475.0 429.1 474.9 429.6 475.1 430.1 475.0 430.6 474.9 431.1 474.8 431.6 474.5 432.1 475.2 432.6 474.7 433.1 474.9 433.6 475.4 434.1 475.0 434.6 475.2 435.1 475.0 435.6 475.2 436.1 475.1 436.6 475.0 437.1 475.4 437.6 475.0 438.1 474.8 438.6 475.0 439.1 475.2 439.6 474.9 440.1 475.3 440.6 475.3 441.1 475.6 441.6 475.0 442.1 475.3 442.6 474.8 443.1 475.1 443.6 475.2 444.1 475.3 444.6 475.2 445.1 475.2 445.6 475.1 446.1 475.1 446.6 475.3 447.1 475.3 447.6 475.4 448.1 475.4 448.6 475.5 449.1 474.9 449.6 475.2 450.1 475.2 450.6 475.1 451.1 475.5 451.6 475.4 452.1 475.3 452.6 475.3 453.1 475.6 453.6 475.2 454.1 475.3 454.6 475.5 455.1 475.4 455.6 475.6 456.1 475.4 456.6 475.5 457.1 475.2 457.6 475.2 458.1 475.4 458.6 474.8 459.1 475.5 459.6 475.6 460.1 475.4 460.6 475.3 461.1 475.6 461.6 475.4 462.1 475.6 462.6 475.9 463.1 475.6 463.6 475.6 464.1 475.5 464.6 475.5 465.1 475.5 465.6 475.5 466.1 475.7 466.6 475.1 467.1 475.4 467.6 475.6 468.1 475.3 468.6 475.5 469.1 475.3 469.6 475.6 470.1 475.7 470.6 475.8 471.1 475.6 471.6 475.4 472.1 475.6 472.6 475.6 473.1 475.8 473.6 475.1 474.1 475.6 474.6 475.2 475.1 475.7 475.6 475.6 476.1 475.6 476.6 475.7 477.1 475.6 477.6 475.4 478.1 475.6 478.6 475.8 479.1 475.5 479.6 475.5 480.1 475.3 480.6 475.8 481.1 475.4 481.6 475.4 482.1 475.4 482.6 475.4 483.1 475.5 483.6 475.8 484.1 475.7 484.6 475.8 485.1 475.8 485.6 475.4 486.1 475.6 486.6 475.8 487.1 476.0 487.6 475.3 488.1 475.2 488.6 475.6 489.1 475.5 489.6 475.3 490.1 475.6 490.6 475.4 491.1 475.1 491.6 475.5 492.1 475.5 492.6 475.6 493.1 475.7 493.6 475.6 494.1 475.5 494.6 475.4 495.1 475.2 495.6 475.4 496.1 475.7 496.6 475.6 497.1 475.9 497.6 475.5 498.1 475.2 498.6 475.7 499.1 475.7 499.6 475.3 500.1 475.2 500.6 475.5 501.1 475.6 501.6 475.3 502.1 475.4 502.6 475.3 503.1 475.3 503.6 475.2 504.1 475.5 504.6 475.4 505.1 475.4 505.6 475.0 506.1 475.8 506.6 475.3 507.1 475.5 507.6 475.3 508.1 475.6 508.6 475.2 509.1 475.5 509.6 475.4 510.1 475.6 510.6 475.3 511.1 475.3 511.6 475.4 512.1 475.9 512.6 475.2 513.1 475.5 513.6 475.3 514.1 475.5 514.6 475.6 515.1 475.5 515.6 475.5 516.1 475.5 516.6 475.3 517.1 475.4 517.6 475.1 518.1 475.4 518.6 475.3 519.1 475.4 519.6 475.6 520.1 475.5 520.6 475.5 521.1 475.6 521.6 474.9 522.1 475.5 522.6 475.4 523.1 475.4 523.6 475.1 524.1 475.5 524.6 475.6 525.1 475.6 525.6 475.3 526.1 475.5 526.6 475.5 527.1 475.7 527.6 475.6 528.1 475.3 528.6 475.3 529.1 475.3 529.6 475.3 530.1 475.2 530.6 475.4 531.1 475.1 531.6 475.1 532.1 475.3 532.6 475.1 533.1 475.2 533.6 474.8 534.1 475.3 534.6 475.2 535.1 475.1 535.6 475.2 536.1 475.2 536.6 475.0 537.1 475.5 537.6 475.0 538.1 475.2 538.6 475.4 539.1 474.9 539.6 475.0 540.1 474.8 540.6 475.1 541.1 474.8 541.6 474.6 542.1 475.0 542.6 474.9 543.1 474.5 543.6 474.8 544.1 474.6 544.6 475.0 545.1 474.7 545.6 474.1 546.1 474.0 546.6 473.7 547.1 473.6 547.6 473.2 548.1 472.9 548.6 472.2 549.1 471.2 549.6 470.4 550.1 469.9 550.6 468.7 551.1 467.4 551.6 466.5 552.1 465.9 552.6 465.9 553.1 466.0 553.6 467.2 554.1 467.9 554.6 469.0 555.1 469.4 555.6 470.7 556.1 471.5 556.6 471.3 557.1 472.4 557.6 472.4 558.1 472.3 558.6 472.2 559.1 472.7 559.6 472.4 560.1 472.4 560.6 472.0 561.1 471.7 561.6 471.8 562.1 471.1 562.6 471.1 563.1 470.2 563.6 469.9 564.1 469.3 564.6 469.3 565.1 468.1 565.6 467.6 566.1 467.4 566.6 466.7 567.1 466.5 567.6 465.9 568.1 465.3 568.6 465.1 569.1 464.6 569.6 464.9 570.1 465.3 570.6 465.7 571.1 465.9 571.6 466.5 572.1 466.9 572.6 467.7 573.1 468.0 573.6 468.2 574.1 468.4 574.6 468.6 575.1 468.4 575.6 468.3 576.1 467.7 576.6 467.7 577.1 467.0 577.6 466.0 578.1 464.8 578.6 463.3 579.1 461.8 579.6 459.4 580.1 456.8 580.6 454.2 581.1 451.9 581.6 449.1 582.1 446.4 582.6 443.9 583.1 441.8 583.6 440.1 584.1 439.8 584.6 440.0 585.1 441.6 585.6 443.4 586.1 446.1 586.6 448.7 587.1 451.2 587.6 454.4 588.1 456.9 588.6 458.8 589.1 461.0 589.6 462.7 590.1 463.8 590.6 464.9 591.1 465.4 591.6 465.8 592.1 465.7 592.6 465.5 593.1 465.2 593.6 464.8 594.1 464.2 594.6 463.5 595.1 462.9 595.6 462.5 596.1 462.1 596.6 462.1 597.1 462.1 597.6 462.2 598.1 462.6 598.6 463.2 599.1 464.2 599.6 464.9 600.1 465.5 600.6 466.6 601.1 467.3 601.6 468.3 602.1 469.0 602.6 469.7 603.1 470.2 603.6 470.5 604.1 471.4 604.6 471.9 605.1 471.8 605.6 472.2 606.1 472.1 606.6 472.4 607.1 472.2 607.6 472.5 608.1 472.7 608.6 472.4 609.1 473.2 609.6 473.3 610.1 473.1 610.6 474.0 611.1 474.0 611.6 474.3 612.1 474.4 612.6 474.4 613.1 474.4 613.6 474.6 614.1 474.7 614.6 475.3 615.1 475.2 615.6 474.8 616.1 474.9 616.6 475.0 617.1 475.1 617.6 474.9 618.1 474.8 618.6 475.4 619.1 475.3 619.6 474.8 620.1 474.8 620.6 475.0 621.1 475.2 621.6 475.2 622.1 475.1 622.6 474.8 623.1 475.2 623.6 475.3 624.1 475.2 624.6 475.1 625.1 475.3 625.6 475.2 626.1 475.0 626.6 475.2 627.1 475.0 627.6 475.4 628.1 475.3 628.6 475.0 629.1 475.3 629.6 475.5 630.1 474.8 630.6 475.2 631.1 475.5 631.6 474.9 632.1 475.2 632.6 474.9 633.1 475.2 633.6 474.8 634.1 474.9 634.6 475.1 635.1 475.2 635.6 475.3 636.1 475.3 636.6 475.4 637.1 475.3 637.6 475.3 638.1 474.9 638.6 475.0 639.1 475.6 639.6 475.4 640.1 475.0 640.6 474.8 641.1 474.6 641.6 474.1 642.1 474.2 642.6 473.3 643.1 472.9 643.6 472.9 644.1 471.6 644.6 471.7 645.1 471.1 645.6 471.4 646.1 471.7 646.6 472.0 647.1 472.6 647.6 472.9 648.1 473.5 648.6 473.7 649.1 474.1 649.6 474.2 650.1 474.8 650.6 474.6 651.1 475.1 651.6 475.0 652.1 475.1 652.6 475.4 653.1 475.2 653.6 474.8 654.1 475.3 654.6 474.7 655.1 475.3 655.6 475.2 656.1 475.0 656.6 475.3 657.1 475.3 657.6 475.7 658.1 475.2 658.6 475.7 659.1 475.6 659.6 475.2 660.1 475.2 660.6 475.6 661.1 475.3 661.6 475.4 662.1 475.3 662.6 475.1 663.1 475.3 663.6 475.2 664.1 475.1 664.6 475.3 665.1 475.7 665.6 475.7 666.1 475.4 666.6 475.4 667.1 475.5 667.6 475.7 668.1 475.4 668.6 475.3 669.1 475.3 669.6 475.6 670.1 475.9 670.6 475.3 671.1 475.0 671.6 475.5 672.1 475.4 672.6 475.4 673.1 475.6 673.6 475.4 674.1 475.1 674.6 475.0 675.1 475.4 675.6 475.2 676.1 475.4 676.6 475.1 677.1 475.3 677.6 475.1 678.1 475.3 678.6 475.3 679.1 475.5 679.6 475.6 680.1 475.3 680.6 475.2 681.1 475.7 681.6 475.4 682.1 475.5 682.6 475.5 683.1 475.6 683.6 475.5 684.1 475.5 684.6 475.5 685.1 475.1 685.6 475.2 686.1 475.2 686.6 475.2 687.1 475.2 687.6 475.2 688.1 475.1 688.6 475.0 689.1 474.7 689.6 475.1 690.1 474.9 690.6 474.5 691.1 474.7 691.6 474.6 692.1 474.4 692.6 473.9 693.1 473.9 693.6 473.9 694.1 474.3 694.6 473.8 695.1 473.9 695.6 473.8 696.1 473.9 696.6 474.2 697.1 473.8 697.6 473.8 698.1 474.6 698.6 474.6 699.1 474.6 699.6 475.0 700.1 475.1 700.6 474.5 701.1 475.0 701.6 475.3 702.1 475.0 702.6 475.1 703.1 475.4 703.6 475.1 704.1 475.0 704.6 475.1 705.1 475.0 705.6 475.4 706.1 474.9 706.6 475.5 707.1 474.9 707.6 475.3 708.1 475.0 708.6 475.2 709.1 475.5 709.6 475.5 710.1 475.5 710.6 475.3 711.1 475.3 711.6 475.3 712.1 475.4 712.6 475.2 713.1 475.5 713.6 475.3 714.1 475.5 714.6 475.3 715.1 475.4 715.6 475.1 716.1 475.2 716.6 475.0 717.1 475.2 717.6 475.2 718.1 475.4 718.6 475.0 719.1 475.9 719.6 475.2 720.1 475.4 720.6 475.4 721.1 474.7 721.6 475.1 722.1 475.5 722.6 474.7 723.1 475.3 723.6 475.0 724.1 475.0 724.6 475.2 725.1 474.7 725.6 475.1 726.1 475.0 726.6 474.9 727.1 475.2 727.6 475.8 728.1 475.1 728.6 475.2 729.1 475.0 729.6 474.9 730.1 475.0 730.6 475.3 731.1 475.0 731.6 475.1 732.1 474.9 732.6 475.4 733.1 474.6 733.6 475.0 734.1 475.0 734.6 474.9 735.1 474.6 735.6 474.6 736.1 474.7 736.6 474.8 737.1 474.5 737.6 474.5 738.1 474.8 738.6 474.8 739.1 474.5 739.6 474.4 740.1 474.4 740.6 475.0 741.1 474.5 741.6 474.4 742.1 474.5 742.6 474.7 743.1 474.5 743.6 473.9 744.1 474.1 744.6 474.0 745.1 473.9 745.6 473.6 746.1 473.7 746.6 473.5 747.1 473.7 747.6 473.5 748.1 473.1 748.6 473.0 749.1 473.1 749.6 473.2 750.1 473.0 750.6 472.7 751.1 471.8 751.6 472.2 752.1 471.9 752.6 471.7 753.1 471.2 753.6 471.0 754.1 470.6 754.6 470.8 755.1 469.8 755.6 468.9 756.1 468.2 756.6 467.3 757.1 466.2 757.6 464.9 758.1 463.5 758.6 462.0 759.1 460.1 759.6 457.9 760.1 455.7 760.6 452.9 761.1 449.8 761.6 446.7 762.1 443.7 762.6 440.6 763.1 437.6 763.6 434.8 764.1 431.9 764.6 429.8 765.1 428.8 765.6 428.5 766.1 428.6 766.6 430.0 767.1 432.3 767.6 434.7 768.1 437.5 768.6 440.3 769.1 444.2 769.6 447.2 770.1 450.1 770.6 452.8 771.1 455.2 771.6 457.8 772.1 459.9 772.6 462.1 773.1 463.3 773.6 465.2 774.1 466.2 774.6 467.5 775.1 468.0 775.6 469.1 776.1 469.9 776.6 470.2 777.1 470.4 777.6 471.1 778.1 471.6 778.6 471.5 779.1 471.8 779.6 472.3 780.1 472.3 780.6 472.8 781.1 472.6 781.6 472.7 782.1 473.0 782.6 473.6 783.1 473.2 783.6 473.5 784.1 473.7 784.6 473.5 785.1 474.0 785.6 473.9 786.1 474.1 786.6 473.7 787.1 473.8 787.6 473.6 788.1 474.2 788.6 474.2 789.1 474.5 789.6 474.7 790.1 474.4 790.6 474.4 791.1 474.6 791.6 474.8 792.1 474.4 792.6 474.7 793.1 474.6 793.6 474.6 794.1 474.9 794.6 474.6 795.1 474.5 795.6 474.9 796.1 474.8 796.6 474.8 797.1 474.8 797.6 475.0 798.1 474.8 798.6 475.1 799.1 475.0 799.6 475.2 800.1 475.2 800.6 475.1 801.1 474.9 801.6 475.0 802.1 474.9 802.6 475.6 803.1 475.0 803.6 475.2 804.1 475.3 804.6 474.8 805.1 474.9 805.6 475.0 806.1 474.9 806.6 474.9 807.1 475.0 807.6 475.4 808.1 475.3 808.6 475.2 809.1 475.2 809.6 474.8 810.1 475.3 810.6 475.3 811.1 475.0 811.6 475.2 812.1 475.2 812.6 475.1 813.1 475.0 813.6 475.1 814.1 475.0 814.6 475.3 815.1 475.3 815.6 475.3 816.1 475.2 816.6 475.2 817.1 475.7 817.6 474.9 818.1 475.5 818.6 475.3 819.1 475.3 819.6 475.2 820.1 475.2 820.6 475.0 821.1 475.0 821.6 475.3 822.1 474.9 822.6 475.4 823.1 475.5 823.6 474.6 824.1 475.0 824.6 475.3 825.1 475.3 825.6 475.3 826.1 475.4 826.6 475.4 827.1 475.5 827.6 475.7 828.1 475.3 828.6 475.5 829.1 475.0 829.6 475.3 830.1 475.0 830.6 475.6 831.1 475.8 831.6 475.4 832.1 475.0 832.6 475.3 833.1 475.3 833.6 475.3 834.1 475.5 834.6 475.5 835.1 474.8 835.6 475.6 836.1 475.2 836.6 475.2 837.1 475.6 837.6 475.2 838.1 475.0 838.6 475.0 839.1 475.3 839.6 475.4 840.1 475.6 840.6 475.2 841.1 475.2 841.6 475.6 842.1 475.1 842.6 475.5 843.1 475.3 843.6 475.3 844.1 475.2 844.6 475.3 845.1 475.1 845.6 475.1 846.1 475.2 846.6 475.1 847.1 475.2 847.6 475.2 848.1 475.1 848.6 475.1 849.1 475.1 849.6 475.5 850.1 475.1 850.6 475.0 851.1 475.0 851.6 475.2 852.1 475.0 852.6 475.0 853.1 475.0 853.6 475.0 854.1 475.0 854.6 475.0 855.1 474.6 855.6 474.7 856.1 474.3 856.6 475.0 857.1 475.0 857.6 475.0 858.1 474.7 858.6 474.9 859.1 474.6 859.6 474.5 860.1 474.1 860.6 474.1 861.1 473.9 861.6 474.0 862.1 473.8 862.6 473.0 863.1 472.7 863.6 472.0 864.1 470.9 864.6 469.7 865.1 468.6 865.6 467.0 866.1 465.5 866.6 463.6 867.1 461.5 867.6 459.2 868.1 457.0 868.6 454.4 869.1 452.5 869.6 450.0 870.1 448.7 870.6 447.6 871.1 446.7 871.6 446.4 872.1 447.3 872.6 447.8 873.1 449.3 873.6 450.5 874.1 451.6 874.6 452.7 875.1 453.7 875.6 454.2 876.1 454.3 876.6 454.6 877.1 454.8 877.6 455.1 878.1 455.7 878.6 456.8 879.1 458.3 879.6 459.7 880.1 461.3 880.6 463.2 881.1 464.0 881.6 464.9 882.1 465.0 882.6 465.3 883.1 464.8 883.6 464.9 884.1 463.1 884.6 462.0 885.1 461.0 885.6 459.5 886.1 457.3 886.6 456.1 887.1 454.6 887.6 452.5 888.1 451.4 888.6 449.8 889.1 448.6 889.6 447.9 890.1 447.4 890.6 447.2 891.1 448.1 891.6 448.2 892.1 449.1 892.6 450.7 893.1 452.0 893.6 453.9 894.1 455.2 894.6 457.1 895.1 458.8 895.6 460.5 896.1 462.1 896.6 463.7 897.1 465.4 897.6 466.3 898.1 467.5 898.6 468.6 899.1 469.7 899.6 470.5 900.1 471.3 900.6 471.4 901.1 472.2 901.6 472.6 902.1 472.9 902.6 473.3 903.1 473.1 903.6 473.7 904.1 473.9 904.6 473.7 905.1 474.1 905.6 474.5 906.1 474.2 906.6 474.4 907.1 474.3 907.6 474.2 908.1 474.2 908.6 474.4 909.1 474.7 909.6 474.6 910.1 474.3 910.6 474.6 911.1 474.3 911.6 474.2 912.1 474.3 912.6 473.9 913.1 473.7 913.6 474.1 914.1 473.3 914.6 473.5 915.1 472.9 915.6 472.9 916.1 472.6 916.6 472.3 917.1 471.7 917.6 471.8 918.1 471.6 918.6 471.3 919.1 471.4 919.6 471.7 920.1 471.5 920.6 471.8 921.1 471.8 921.6 472.4 922.1 472.7 922.6 473.4 923.1 473.4 923.6 473.6 924.1 474.0 924.6 473.8 925.1 474.4 925.6 474.2 926.1 474.4 926.6 474.9 927.1 474.8 927.6 475.1 928.1 474.6 928.6 475.0 929.1 474.9 929.6 475.0 930.1 474.7 930.6 475.3 931.1 475.2 931.6 475.0 932.1 474.9 932.6 475.0 933.1 475.5 933.6 475.2 934.1 475.2 934.6 475.4 935.1 475.3 935.6 475.3 936.1 475.4 936.6 475.4 937.1 475.5 937.6 475.1 938.1 475.3 938.6 475.3 939.1 475.4 939.6 475.3 940.1 475.2 940.6 475.3 941.1 475.6 941.6 475.3 942.1 475.1 942.6 475.5 943.1 475.6 943.6 475.3 944.1 475.4 944.6 475.2 945.1 475.4 945.6 475.6 946.1 475.6 946.6 475.4 947.1 475.4 947.6 475.1 948.1 475.5 948.6 475.5 949.1 475.6 949.6 475.8 950.1 475.5 950.6 475.6 951.1 475.2 951.6 475.7 952.1 475.6 952.6 475.7 953.1 475.6 953.6 475.5 954.1 475.7 954.6 475.3 955.1 475.6 955.6 475.7 956.1 475.3 956.6 475.2 957.1 475.5 957.6 475.5 958.1 475.6 958.6 475.6 959.1 475.3 959.6 475.5 960.1 475.7 960.6 475.4 961.1 475.4 961.6 475.2 962.1 475.6 962.6 475.8 963.1 475.2 963.6 475.6 964.1 475.6 964.6 475.3 965.1 475.4 965.6 475.3 966.1 475.3 966.6 475.5 967.1 475.6 967.6 475.5 968.1 475.6 968.6 475.5 969.1 475.2 969.6 475.7 970.1 475.7 970.6 475.3 971.1 475.8 971.6 475.5 972.1 475.5 972.6 475.8 973.1 475.0 973.6 475.1 974.1 475.6 974.6 475.4 975.1 475.2 975.6 475.7 976.1 475.5 976.6 475.2 977.1 475.3 977.6 475.6 978.1 475.8 978.6 475.0 979.1 475.5 979.6 475.3 980.1 475.1 980.6 475.4 981.1 475.1 981.6 475.3 982.1 475.7 982.6 475.5 983.1 475.5 983.6 475.5 984.1 475.4 984.6 475.6 985.1 475.1 985.6 475.3 986.1 475.5 986.6 475.2 987.1 475.3 987.6 475.6 988.1 475.6 988.6 475.2 989.1 475.2 989.6 475.4 990.1 475.4 990.6 475.2 991.1 475.4 991.6 475.4 992.1 475.3 992.6 475.8 993.1 475.5 993.6 475.4 994.1 475.4 994.6 475.8 995.1 475.4 995.6 475.0 996.1 475.2 996.6 475.2 997.1 475.0 997.6 475.2 998.1 475.1 998.6 475.1 999.1 474.9 999.6 475.2 1000.1 474.7 1000.6 475.1 1001.1 474.9 1001.6 474.9 1002.1 474.3 1002.6 475.1 1003.1 474.3 1003.6 474.4 1004.1 474.6 1004.6 474.3 1005.1 474.2 1005.6 473.7 1006.1 473.9 1006.6 473.9 1007.1 473.8 1007.6 473.4 1008.1 473.3 1008.6 473.1 1009.1 472.6 1009.6 472.3 1010.1 472.5 1010.6 471.6 1011.1 471.7 1011.6 471.1 1012.1 471.0 1012.6 470.2 1013.1 470.0 1013.6 469.6 1014.1 469.2 1014.6 469.0 1015.1 468.5 1015.6 468.3 1016.1 468.0 1016.6 468.0 1017.1 467.6 1017.6 467.1 1018.1 467.1 1018.6 466.9 1019.1 466.4 1019.6 466.4 1020.1 465.7 1020.6 465.2 1021.1 464.3 1021.6 463.6 1022.1 463.0 1022.6 461.6 1023.1 460.9 1023.6 459.8 1024.1 458.5 1024.6 457.5 1025.1 456.2 1025.6 455.4 1026.1 454.3 1026.6 453.5 1027.1 453.5 1027.6 452.8 1028.1 452.5 1028.6 453.3 1029.1 453.5 1029.6 453.7 1030.1 455.3 1030.6 456.6 1031.1 457.7 1031.6 459.2 1032.1 460.2 1032.6 461.7 1033.1 462.7 1033.6 464.2 1034.1 465.6 1034.6 466.6 1035.1 467.5 1035.6 468.1 1036.1 469.3 1036.6 469.8 1037.1 470.9 1037.6 471.2 1038.1 472.0 1038.6 472.1 1039.1 473.1 1039.6 472.8 1040.1 473.3 1040.6 474.1 1041.1 473.8 1041.6 473.7 1042.1 474.1 1042.6 474.3 1043.1 474.4 1043.6 473.8 1044.1 474.3 1044.6 473.9 1045.1 474.7 1045.6 474.3 1046.1 474.1 1046.6 474.3 1047.1 474.2 1047.6 473.8 1048.1 474.2 1048.6 473.7 1049.1 473.3 1049.6 473.9 1050.1 473.8 1050.6 473.7 1051.1 473.6 1051.6 473.3 1052.1 473.7 1052.6 474.0 1053.1 474.0 1053.6 474.3 1054.1 473.9 1054.6 474.4 1055.1 474.6 1055.6 474.2 1056.1 474.3 1056.6 474.6 1057.1 474.9 1057.6 475.0 1058.1 474.9 1058.6 475.0 1059.1 475.1 1059.6 475.2 1060.1 475.3 1060.6 475.3 1061.1 475.2 1061.6 475.3 1062.1 475.2 1062.6 475.4 1063.1 475.2 1063.6 475.6 1064.1 475.3 1064.6 475.4 1065.1 475.2 1065.6 475.3 1066.1 475.4 1066.6 475.4 1067.1 475.2 1067.6 475.1 1068.1 475.4 1068.6 475.4 1069.1 475.5 1069.6 475.6 1070.1 475.3 1070.6 475.0 1071.1 475.4 1071.6 475.0 1072.1 475.2 1072.6 475.6 1073.1 475.5 1073.6 475.3 1074.1 475.3 1074.6 475.4 1075.1 475.1 1075.6 475.5 1076.1 475.4 1076.6 475.8 1077.1 475.2 1077.6 475.6 1078.1 475.3 1078.6 475.6 1079.1 475.3 1079.6 475.6 1080.1 475.4 1080.6 475.3 1081.1 475.4 1081.6 475.5 1082.1 475.5 1082.6 475.8 1083.1 475.6 1083.6 474.9 1084.1 475.4 1084.6 475.1 1085.1 475.4 1085.6 475.6 1086.1 475.2 1086.6 475.2 1087.1 475.5 1087.6 475.4 1088.1 475.8 1088.6 475.5 1089.1 475.6 1089.6 475.8 1090.1 475.4 1090.6 475.5 1091.1 475.3 1091.6 475.5 1092.1 475.7 1092.6 475.7 1093.1 475.4 1093.6 475.3 1094.1 475.3 1094.6 475.2 1095.1 475.5 1095.6 475.7 1096.1 475.0 1096.6 475.0 1097.1 475.7 1097.6 475.1 1098.1 475.5 1098.6 475.2 1099.1 475.6 1099.6 475.6 1100.1 475.4 1100.6 475.6 1101.1 475.4 1101.6 475.5 1102.1 475.8 1102.6 475.6 1103.1 475.3 1103.6 475.2 1104.1 475.3 1104.6 475.3 1105.1 475.4 1105.6 475.3 1106.1 475.5 1106.6 475.4 1107.1 475.4 1107.6 475.3 1108.1 475.5 1108.6 475.1 1109.1 475.6 1109.6 475.4 1110.1 475.4 1110.6 475.4 1111.1 475.5 1111.6 475.4 1112.1 475.3 1112.6 475.2 1113.1 474.9 1113.6 475.3 1114.1 475.1 1114.6 475.1 1115.1 475.7 1115.6 474.8 1116.1 475.2 1116.6 475.4 1117.1 475.3 1117.6 475.3 1118.1 474.8 1118.6 474.8 1119.1 475.1 1119.6 474.9 1120.1 475.3 1120.6 474.9 1121.1 474.9 1121.6 474.9 1122.1 474.7 1122.6 474.7 1123.1 474.5 1123.6 474.5 1124.1 474.4 1124.6 474.4 1125.1 474.0 1125.6 473.9 1126.1 474.1 1126.6 473.9 1127.1 473.5 1127.6 473.5 1128.1 473.1 1128.6 473.5 1129.1 472.6 1129.6 473.0 1130.1 472.1 1130.6 472.1 1131.1 471.6 1131.6 471.2 1132.1 471.0 1132.6 470.6 1133.1 469.9 1133.6 469.3 1134.1 469.4 1134.6 468.8 1135.1 468.0 1135.6 467.5 1136.1 467.2 1136.6 466.9 1137.1 466.8 1137.6 466.2 1138.1 466.4 1138.6 466.3 1139.1 466.8 1139.6 467.2 1140.1 467.2 1140.6 467.7 1141.1 468.3 1141.6 468.4 1142.1 468.8 1142.6 469.6 1143.1 470.0 1143.6 470.3 1144.1 471.1 1144.6 471.2 1145.1 471.2 1145.6 471.9 1146.1 472.2 1146.6 472.8 1147.1 472.7 1147.6 472.9 1148.1 473.2 1148.6 473.3 1149.1 473.1 1149.6 473.5 1150.1 473.4 1150.6 473.8 1151.1 474.0 1151.6 473.2 1152.1 473.2 1152.6 473.1 1153.1 473.0 1153.6 472.8 1154.1 472.7 1154.6 472.7 1155.1 471.9 1155.6 471.5 1156.1 471.1 1156.6 471.3 1157.1 470.9 1157.6 469.9 1158.1 469.4 1158.6 469.3 1159.1 469.1 1159.6 468.7 1160.1 468.2 1160.6 468.0 1161.1 467.7 1161.6 467.3 1162.1 467.8 1162.6 467.4 1163.1 467.3 1163.6 467.6 1164.1 467.7 1164.6 468.3 1165.1 468.9 1165.6 468.9 1166.1 469.8 1166.6 470.5 1167.1 470.6 1167.6 470.8 1168.1 471.3 1168.6 471.9 1169.1 472.1 1169.6 472.5 1170.1 473.0 1170.6 473.4 1171.1 473.8 1171.6 473.7 1172.1 474.6 1172.6 474.6 1173.1 474.7 1173.6 474.6 1174.1 475.2 1174.6 474.9 1175.1 475.4 1175.6 475.3 1176.1 475.0 1176.6 475.1 1177.1 475.6 1177.6 475.5 1178.1 475.3 1178.6 475.4 1179.1 475.4 1179.6 475.3 1180.1 475.4 1180.6 475.3 1181.1 475.4 1181.6 475.6 1182.1 475.3 1182.6 475.7 1183.1 475.5 1183.6 475.7 1184.1 475.7 1184.6 475.8 1185.1 475.7 1185.6 475.7 1186.1 475.5 1186.6 475.7 1187.1 475.4 1187.6 475.5 1188.1 475.7 1188.6 475.6 1189.1 475.7 1189.6 475.4 1190.1 475.9 1190.6 475.5 1191.1 475.7 1191.6 475.6 1192.1 475.8 1192.6 475.6 1193.1 475.4 1193.6 475.3 1194.1 475.6 1194.6 475.4 1195.1 475.8 1195.6 475.9 1196.1 475.2 1196.6 475.4 1197.1 475.7 1197.6 475.9 1198.1 475.7 1198.6 475.7 1199.1 475.8 1199.6 475.8 1200.1 476.0 1200.6 475.8 1201.1 475.4 1201.6 475.6 1202.1 475.7 1202.6 475.5 1203.1 475.6 1203.6 475.6 1204.1 475.5 1204.6 475.8 1205.1 475.6 1205.6 475.4 1206.1 475.5 1206.6 475.7 1207.1 476.1 1207.6 475.7 1208.1 475.9 1208.6 475.7 1209.1 475.2 1209.6 475.7 1210.1 475.5 1210.6 475.4 1211.1 475.4 1211.6 476.0 1212.1 475.3 1212.6 475.5 1213.1 475.8 1213.6 475.7 1214.1 475.3 1214.6 475.6 1215.1 475.5 1215.6 475.5 1216.1 475.7 1216.6 475.4 1217.1 475.5 1217.6 475.8 1218.1 475.2 1218.6 475.4 1219.1 475.6 1219.6 475.2 1220.1 475.4 1220.6 475.2 1221.1 475.5 1221.6 475.3 1222.1 475.6 1222.6 475.6 1223.1 475.4 1223.6 475.3 1224.1 475.4 1224.6 475.3 1225.1 475.1 1225.6 475.5 1226.1 475.3 1226.6 475.4 1227.1 474.9 1227.6 475.3 1228.1 475.5 1228.6 475.2 1229.1 474.7 1229.6 475.0 1230.1 474.9 1230.6 474.9 1231.1 474.8 1231.6 474.8 1232.1 474.6 1232.6 474.6 1233.1 474.4 1233.6 474.4 1234.1 474.5 1234.6 474.1 1235.1 474.2 1235.6 473.7 1236.1 473.6 1236.6 473.5 1237.1 473.6 1237.6 472.9 1238.1 473.0 1238.6 472.2 1239.1 472.1 1239.6 471.9 1240.1 471.5 1240.6 470.7 1241.1 470.1 1241.6 470.0 1242.1 468.9 1242.6 468.6 1243.1 467.7 1243.6 467.1 1244.1 466.9 1244.6 466.0 1245.1 465.1 1245.6 464.0 1246.1 463.8 1246.6 463.3 1247.1 463.0 1247.6 463.2 1248.1 462.7 1248.6 463.4 1249.1 463.8 1249.6 464.1 1250.1 465.3 1250.6 465.3 1251.1 466.3 1251.6 467.0 1252.1 467.2 1252.6 468.1 1253.1 468.8 1253.6 469.7 1254.1 470.2 1254.6 470.6 1255.1 470.9 1255.6 470.8 1256.1 471.5 1256.6 471.6 1257.1 472.1 1257.6 472.3 1258.1 472.6 1258.6 472.3 1259.1 472.3 1259.6 471.9 1260.1 472.0 1260.6 471.7 1261.1 472.0 1261.6 471.4 1262.1 471.4 1262.6 471.2 1263.1 471.1 1263.6 471.1 1264.1 470.8 1264.6 470.9 1265.1 470.6 1265.6 471.1 1266.1 470.7 1266.6 471.1 1267.1 471.5 1267.6 470.8 1268.1 471.3 1268.6 471.7 1269.1 472.3 1269.6 472.3 1270.1 472.7 1270.6 472.8 1271.1 473.3 1271.6 473.2 1272.1 473.9 1272.6 473.3 1273.1 473.8 1273.6 474.7 1274.1 474.6 1274.6 474.5 1275.1 475.3 1275.6 475.2 1276.1 475.3 1276.6 475.1 1277.1 475.4 1277.6 475.4 1278.1 475.0 1278.6 475.5 1279.1 475.4 1279.6 475.8 1280.1 475.8 1280.6 475.5 1281.1 475.5 1281.6 475.7 1282.1 475.8 1282.6 475.6 1283.1 475.7 1283.6 475.8 1284.1 475.8 1284.6 476.0 1285.1 475.8 1285.6 475.6 1286.1 475.4 1286.6 476.0 1287.1 475.8 1287.6 475.8 1288.1 475.8 1288.6 475.5 1289.1 475.8 1289.6 475.3 1290.1 475.8 1290.6 475.7 1291.1 476.3 1291.6 476.0 1292.1 475.9 1292.6 476.0 1293.1 476.1 1293.6 475.8 1294.1 475.9 1294.6 475.9 1295.1 476.5 1295.6 476.0 1296.1 475.6 1296.6 476.1 1297.1 476.5 1297.6 475.8 1298.1 476.7 1298.6 476.0 1299.1 476.2 1299.6 475.9 1300.1 476.0 1300.6 475.8 1301.1 475.8 1301.6 475.6 1302.1 476.3 1302.6 475.8 1303.1 476.1 1303.6 476.1 1304.1 475.9 1304.6 476.1 1305.1 476.0 1305.6 476.0 1306.1 476.1 1306.6 476.1 1307.1 475.9 1307.6 475.8 1308.1 475.9 1308.6 476.1 1309.1 476.4 1309.6 476.4 1310.1 476.2 1310.6 476.3 1311.1 476.1 1311.6 476.3 1312.1 476.1 1312.6 476.2 1313.1 476.1 1313.6 476.1 1314.1 476.5 1314.6 475.9 1315.1 476.1 1315.6 476.0 1316.1 476.3 1316.6 476.5 1317.1 476.1 1317.6 475.6 1318.1 476.3 1318.6 476.3 1319.1 475.8 1319.6 476.1 1320.1 476.1 1320.6 475.7 1321.1 476.3 1321.6 476.3 1322.1 476.2 1322.6 476.0 1323.1 476.0 1323.6 476.0 1324.1 476.3 1324.6 476.0 1325.1 476.5 1325.6 476.3 1326.1 475.7 1326.6 476.5 1327.1 476.2 1327.6 476.1 1328.1 476.2 1328.6 475.8 1329.1 476.2 1329.6 475.7 1330.1 476.0 1330.6 476.5 1331.1 476.5 1331.6 476.1 1332.1 476.0 1332.6 476.4 1333.1 476.2 1333.6 476.3 1334.1 476.4 1334.6 476.0 1335.1 476.4"/>
<path stroke="#FF00FF" d="M89.6 389.1 90.1 391.2 90.6 389.5 91.1 390.0 91.6 390.0 92.1 390.8 92.6 390.8 93.1 390.6 93.6 390.7 94.1 390.7 94.6 390.4 95.1 389.4 95.6 389.1 96.1 389.2 96.6 390.4 97.1 390.3 97.6 390.4 98.1 390.6 98.6 390.4 99.1 389.9 99.6 389.7 100.1 389.5 100.6 391.2 101.1 391.1 101.6 389.8 102.1 390.4 102.6 390.8 103.1 391.5 103.6 390.3 104.1 390.7 104.6 391.3 105.1 389.6 105.6 390.2 106.1 390.6 106.6 390.2 107.1 391.8 107.6 391.1 108.1 390.8 108.6 390.1 109.1 391.2 109.6 391.1 110.1 390.4 110.6 390.5 111.1 389.9 111.6 390.7 112.1 391.2 112.6 391.3 113.1 391.1 113.6 391.2 114.1 390.5 114.6 390.5 115.1 391.5 115.6 391.1 116.1 390.4 116.6 391.1 117.1 391.3 117.6 391.2 118.1 390.9 118.6 390.6 119.1 391.1 119.6 391.8 120.1 391.0 120.6 390.5 121.1 391.1 121.6 390.2 122.1 391.1 122.6 390.8 123.1 391.5 123.6 391.0 124.1 391.5 124.6 392.2 125.1 390.9 125.6 390.5 126.1 391.3 126.6 391.0 127.1 391.1 127.6 390.7 128.1 391.3 128.6 391.1 129.1 389.9 129.6 390.9 130.1 391.3 130.6 391.7 131.1 390.8 131.6 390.7 132.1 391.7 132.6 390.8 133.1 391.2 133.6 391.4 134.1 391.6 134.6 391.2 135.1 390.6 135.6 391.7 136.1 391.0 136.6 390.9 137.1 392.3 137.6 391.7 138.1 390.7 138.6 391.0 139.1 391.1 139.6 390.8 140.1 390.2 140.6 391.7 141.1 391.7 141.6 391.4 142.1 391.1 142.6 391.4 143.1 391.7 143.6 390.8 144.1 391.2 144.6 391.0 145.1 391.7 145.6 391.5 146.1 390.7 146.6 391.1 147.1 392.3 147.6 390.9 148.1 391.5 148.6 391.1 149.1 392.1 149.6 391.4 150.1 391.2 150.6 390.8 151.1 391.3 151.6 391.9 152.1 391.8 152.6 390.8 153.1 392.3 153.6 391.4 154.1 391.0 154.6 391.6 155.1 391.2 155.6 391.2 156.1 391.2 156.6 391.5 157.1 391.3 157.6 390.7 158.1 391.9 158.6 391.3 159.1 392.2 159.6 391.9 160.1 391.9 160.6 391.7 161.1 392.3 161.6 391.5 162.1 391.2 162.6 391.9 163.1 390.3 163.6 391.5 164.1 391.8 164.6 391.5 165.1 392.4 165.6 392.1 166.1 391.8 166.6 391.5 167.1 392.3 167.6 391.4 168.1 391.6 168.6 392.2 169.1 392.1 169.6 392.8 170.1 391.7 170.6 390.9 171.1 392.2 171.6 392.5 172.1 391.8 172.6 392.6 173.1 392.7 173.6 391.5 174.1 391.6 174.6 391.2 175.1 392.1 175.6 392.2 176.1 392.2 176.6 391.3 177.1 391.5 177.6 391.2 178.1 391.1 178.6 391.2 179.1 391.1 179.6 391.8 180.1 392.1 180.6 392.2 181.1 391.9 181.6 391.6 182.1 391.9 182.6 392.2 183.1 391.8 183.6 392.0 184.1 391.8 184.6 391.7 185.1 392.0 185.6 391.4 186.1 392.5 186.6 391.2 187.1 392.2 187.6 391.4 188.1 392.7 188.6 392.4 189.1 391.6 189.6 391.8 190.1 391.5 190.6 392.0 191.1 392.2 191.6 393.3 192.1 391.4 192.6 392.6 193.1 391.8 193.6 392.2 194.1 392.5 194.6 392.3 195.1 392.3 195.6 392.0 196.1 392.1 196.6 392.2 197.1 392.7 197.6 391.4 198.1 391.9 198.6 391.6 199.1 391.7 199.6 391.8 200.1 392.7 200.6 393.1 201.1 392.8 201.6 391.6 202.1 392.2 202.6 391.7 203.1 392.4 203.6 392.8 204.1 392.5 204.6 392.6 205.1 392.1 205.6 391.3 206.1 391.3 206.6 392.2 207.1 392.5 207.6 392.8 208.1 392.1 208.6 392.3 209.1 392.4 209.6 392.7 210.1 392.2 210.6 391.8 211.1 392.8 211.6 392.5 212.1 392.5 212.6 391.7 213.1 392.3 213.6 391.5 214.1 391.4 214.6 392.2 215.1 392.1 215.6 392.6 216.1 393.0 216.6 392.3 217.1 393.1 217.6 392.1 218.1 392.7 218.6 391.8 219.1 392.4 219.6 392.2 220.1 392.3 220.6 392.6 221.1 391.6 221.6 392.4 222.1 392.0 222.6 392.4 223.1 392.6 223.6 392.2 224.1 392.3 224.6 391.9 225.1 392.7 225.6 392.1 226.1 392.6 226.6 391.8 227.1 393.0 227.6 392.0 228.1 392.9 228.6 392.3 229.1 392.7 229.6 392.4 230.1 392.8 230.6 392.5 231.1 393.0 231.6 392.8 232.1 392.8 232.6 393.2 233.1 392.2 233.6 393.0 234.1 392.5 234.6 391.9 235.1 392.7 235.6 392.5 236.1 393.2 236.6 392.3 237.1 392.6 237.6 392.7 238.1 391.8 238.6 392.8 239.1 392.2 239.6 393.1 240.1 393.2 240.6 392.6 241.1 392.0 241.6 392.7 242.1 392.7 242.6 392.9 243.1 392.5 243.6 392.1 244.1 392.6 244.6 392.3 245.1 393.3 245.6 392.4 246.1 392.4 246.6 392.6 247.1 392.2 247.6 392.5 248.1 392.6 248.6 392.5 249.1 392.6 249.6 393.2 250.1 392.9 250.6 392.2 251.1 392.5 251.6 393.0 252.1 392.4 252.6 392.7 253.1 392.7 253.6 392.9 254.1 392.6 254.6 392.6 255.1 392.4 255.6 392.8 256.1 392.3 256.6 393.3 257.1 392.7 257.6 392.6 258.1 393.0 258.6 392.6 259.1 392.7 259.6 392.6 260.1 392.4 260.6 392.3 261.1 392.4 261.6 393.1 262.1 392.4 262.6 392.5 263.1 392.5 263.6 392.9 264.1 393.4 264.6 392.3 265.1 392.9 265.6 392.7 266.1 392.5 266.6 392.8 267.1 392.2 267.6 392.9 268.1 392.7 268.6 392.3 269.1 393.2 269.6 392.9 270.1 393.1 270.6 392.1 271.1 392.5 271.6 392.5 272.1 392.9 272.6 393.1 273.1 392.0 273.6 392.6 274.1 392.6 274.6 393.0 275.1 392.6 275.6 392.2 276.1 392.6 276.6 392.3 277.1 392.4 277.6 392.6 278.1 392.4 278.6 392.7 279.1 392.1 279.6 393.4 280.1 393.0 280.6 392.9 281.1 392.2 281.6 391.9 282.1 392.3 282.6 392.5 283.1 393.4 283.6 393.0 284.1 392.4 284.6 393.0 285.1 393.0 285.6 392.6 286.1 393.0 286.6 392.7 287.1 392.4 287.6 392.2 288.1 392.5 288.6 392.9 289.1 392.1 289.6 392.0 290.1 392.7 290.6 391.7 291.1 393.1 291.6 392.4 292.1 392.8 292.6 393.1 293.1 392.1 293.6 392.2 294.1 393.3 294.6 392.4 295.1 392.5 295.6 392.6 296.1 392.9 296.6 392.9 297.1 392.5 297.6 392.4 298.1 392.5 298.6 392.6 299.1 392.9 299.6 392.5 300.1 393.0 300.6 392.2 301.1 392.6 301.6 393.0 302.1 392.9 302.6 392.5 303.1 392.2 303.6 392.2 304.1 392.4 304.6 392.5 305.1 392.3 305.6 392.0 306.1 392.2 306.6 392.5 307.1 392.6 307.6 391.9 308.1 392.3 308.6 391.8 309.1 392.2 309.6 393.4 310.1 392.4 310.6 392.2 311.1 392.1 311.6 391.9 312.1 391.7 312.6 392.3 313.1 392.2 313.6 392.7 314.1 391.8 314.6 392.4 315.1 392.6 315.6 391.6 316.1 392.4 316.6 391.7 317.1 392.3 317.6 392.6 318.1 392.1 318.6 392.2 319.1 391.9 319.6 392.2 320.1 392.4 320.6 392.0 321.1 392.0 321.6 392.1 322.1 392.2 322.6 391.5 323.1 392.0 323.6 391.7 324.1 392.1 324.6 392.2 325.1 392.0 325.6 392.2 326.1 391.5 326.6 391.7 327.1 391.5 327.6 391.7 328.1 391.7 328.6 391.6 329.1 391.3 329.6 391.6 330.1 391.4 330.6 391.7 331.1 391.4 331.6 391.7 332.1 391.4 332.6 390.8 333.1 391.2 333.6 390.8 334.1 391.4 334.6 391.5 335.1 391.0 335.6 391.1 336.1 390.5 336.6 390.2 337.1 390.6 337.6 390.6 338.1 390.1 338.6 390.5 339.1 390.4 339.6 390.4 340.1 390.5 340.6 390.2 341.1 389.7 341.6 389.7 342.1 389.7 342.6 389.1 343.1 389.6 343.6 389.2 344.1 388.7 344.6 388.4 345.1 389.3 345.6 388.2 346.1 388.0 346.6 387.9 347.1 387.3 347.6 386.7 348.1 386.4 348.6 385.4 349.1 385.3 349.6 384.1 350.1 383.9 350.6 383.0 351.1 381.4 351.6 381.0 352.1 378.5 352.6 377.0 353.1 373.9 353.6 370.7 354.1 366.0 354.6 361.1 355.1 353.6 355.6 344.9 356.1 333.8 356.6 320.8 357.1 305.7 357.6 288.6 358.1 270.1 358.6 250.2 359.1 230.0 359.6 210.3 360.1 193.4 360.6 180.2 361.1 171.8 361.6 170.3 362.1 175.2 362.6 185.9 363.1 201.5 363.6 220.0 364.1 240.0 364.6 260.1 365.1 279.7 365.6 297.0 366.1 312.8 366.6 327.5 367.1 339.1 367.6 349.0 368.1 357.7 368.6 363.8 369.1 368.6 369.6 372.7 370.1 375.5 370.6 378.1 371.1 379.5 371.6 380.9 372.1 382.2 372.6 383.7 373.1 384.5 373.6 384.6 374.1 385.6 374.6 385.8 375.1 386.6 375.6 386.7 376.1 387.4 376.6 387.4 377.1 387.7 377.6 388.1 378.1 388.4 378.6 388.4 379.1 388.4 379.6 389.4 380.1 389.0 380.6 388.9 381.1 388.9 381.6 388.9 382.1 389.6 382.6 390.2 383.1 389.6 383.6 390.0 384.1 389.7 384.6 390.5 385.1 390.4 385.6 390.4 386.1 390.7 386.6 390.9 387.1 390.8 387.6 390.4 388.1 390.2 388.6 390.3 389.1 390.1 389.6 391.0 390.1 390.5 390.6 390.5 391.1 390.5 391.6 390.8 392.1 390.1 392.6 390.3 393.1 389.9 393.6 389.4 394.1 388.5 394.6 388.4 395.1 386.9 395.6 385.6 396.1 383.8 396.6 381.4 397.1 378.9 397.6 375.5 398.1 373.1 398.6 371.5 399.1 371.3 399.6 372.9 400.1 375.3 400.6 378.6 401.1 381.0 401.6 383.3 402.1 385.7 402.6 387.5 403.1 388.3 403.6 389.1 404.1 389.8 404.6 390.4 405.1 390.6 405.6 391.0 406.1 390.7 406.6 391.6 407.1 391.5 407.6 391.3 408.1 391.9 408.6 391.7 409.1 392.0 409.6 391.5 410.1 392.2 410.6 391.9 411.1 391.5 411.6 392.1 412.1 391.9 412.6 391.8 413.1 392.0 413.6 391.7 414.1 392.3 414.6 392.1 415.1 392.1 415.6 392.5 416.1 392.2 416.6 392.1 417.1 392.0 417.6 392.3 418.1 392.5 418.6 392.2 419.1 392.1 419.6 392.6 420.1 392.4 420.6 392.4 421.1 392.9 421.6 392.1 422.1 392.5 422.6 392.0 423.1 392.4 423.6 392.6 424.1 392.7 424.6 392.2 425.1 392.7 425.6 392.7 426.1 392.5 426.6 393.1 427.1 392.5 427.6 392.3 428.1 392.6 428.6 392.1 429.1 392.9 429.6 392.8 430.1 392.5 430.6 392.7 431.1 392.7 431.6 393.0 432.1 392.5 432.6 392.3 433.1 392.2 433.6 392.6 434.1 392.3 434.6 392.6 435.1 392.8 435.6 392.6 436.1 392.5 436.6 392.9 437.1 392.6 437.6 392.7 438.1 392.9 438.6 392.4 439.1 392.5 439.6 393.3 440.1 392.7 440.6 392.5 441.1 392.7 441.6 392.6 442.1 392.5 442.6 392.7 443.1 392.8 443.6 392.8 444.1 392.9 444.6 392.4 445.1 392.5 445.6 393.0 446.1 392.7 446.6 393.1 447.1 392.9 447.6 392.5 448.1 392.9 448.6 392.6 449.1 392.9 449.6 393.1 450.1 393.3 450.6 392.8 451.1 393.0 451.6 392.9 452.1 393.0 452.6 392.3 453.1 392.8 453.6 392.9 454.1 393.0 454.6 392.7 455.1 393.1 455.6 393.1 456.1 392.9 456.6 392.8 457.1 392.8 457.6 392.9 458.1 393.2 458.6 393.2 459.1 392.8 459.6 392.7 460.1 392.7 460.6 393.1 461.1 393.0 461.6 393.0 462.1 393.0 462.6 393.0 463.1 392.9 463.6 392.7 464.1 392.8 464.6 393.0 465.1 393.0 465.6 392.9 466.1 392.9 466.6 393.3 467.1 392.9 467.6 393.0 468.1 392.9 468.6 392.8 469.1 392.7 469.6 392.9 470.1 392.8 470.6 393.2 471.1 392.8 471.6 392.9 472.1 393.1 472.6 393.0 473.1 393.1 473.6 393.2 474.1 392.7 474.6 392.9 475.1 392.8 475.6 393.3 476.1 393.0 476.6 393.1 477.1 393.4 477.6 392.9 478.1 393.0 478.6 393.1 479.1 393.0 479.6 393.3 480.1 393.2 480.6 393.2 481.1 393.0 481.6 393.0 482.1 392.9 482.6 392.9 483.1 392.7 483.6 393.1 484.1 393.2 484.6 393.0 485.1 392.9 485.6 393.0 486.1 393.1 486.6 393.1 487.1 393.4 487.6 392.8 488.1 393.1 488.6 393.2 489.1 393.0 489.6 393.0 490.1 392.8 490.6 392.9 491.1 393.2 491.6 393.3 492.1 392.9 492.6 393.1 493.1 393.1 493.6 393.2 494.1 393.1 494.6 393.1 495.1 393.2 495.6 392.8 496.1 393.0 496.6 392.6 497.1 392.6 497.6 392.8 498.1 392.7 498.6 393.1 499.1 393.2 499.6 392.9 500.1 393.0 500.6 393.0 501.1 392.9 501.6 393.0 502.1 393.1 502.6 392.9 503.1 392.8 503.6 392.9 504.1 393.2 504.6 392.9 505.1 393.3 505.6 392.9 506.1 393.3 506.6 392.7 507.1 392.8 507.6 393.1 508.1 393.1 508.6 392.9 509.1 393.4 509.6 393.0 510.1 393.0 510.6 392.9 511.1 393.3 511.6 393.1 512.1 393.0 512.6 392.6 513.1 393.0 513.6 392.9 514.1 393.0 514.6 393.1 515.1 392.8 515.6 393.0 516.1 393.1 516.6 393.0 517.1 392.9 517.6 392.7 518.1 392.8 518.6 392.7 519.1 393.1 519.6 392.9 520.1 392.7 520.6 392.9 521.1 392.6 521.6 392.2 522.1 393.1 522.6 393.1 523.1 392.6 523.6 392.7 524.1 392.9 524.6 392.8 525.1 392.7 525.6 392.8 526.1 392.8 526.6 392.7 527.1 392.9 527.6 392.8 528.1 392.7 528.6 392.8 529.1 392.5 529.6 393.1 530.1 392.4 530.6 392.8 531.1 392.9 531.6 392.9 532.1 392.8 532.6 393.0 533.1 392.5 533.6 392.7 534.1 392.7 534.6 392.6 535.1 392.6 535.6 392.9 536.1 392.5 536.6 392.6 537.1 392.6 537.6 392.6 538.1 392.6 538.6 392.5 539.1 392.6 539.6 392.6 540.1 392.6 540.6 392.8 541.1 392.3 541.6 392.8 542.1 392.3 542.6 392.5 543.1 392.3 543.6 392.2 544.1 391.8 544.6 392.5 545.1 391.9 545.6 391.8 546.1 392.1 546.6 391.8 547.1 392.0 547.6 391.8 548.1 391.3 548.6 390.9 549.1 390.6 549.6 389.7 550.1 389.4 550.6 388.6 551.1 387.6 551.6 386.8 552.1 385.6 552.6 385.2 553.1 384.8 553.6 384.2 554.1 384.9 554.6 385.8 555.1 386.4 555.6 386.9 556.1 387.7 556.6 388.7 557.1 389.4 557.6 389.2 558.1 389.7 558.6 389.7 559.1 389.9 559.6 390.0 560.1 389.9 560.6 389.6 561.1 390.0 561.6 389.4 562.1 389.1 562.6 389.1 563.1 388.5 563.6 388.1 564.1 387.9 564.6 387.0 565.1 386.8 565.6 386.2 566.1 385.5 566.6 384.6 567.1 384.0 567.6 383.0 568.1 382.6 568.6 382.2 569.1 381.9 569.6 381.5 570.1 381.4 570.6 381.4 571.1 381.9 571.6 382.3 572.1 383.0 572.6 383.3 573.1 383.7 573.6 384.3 574.1 384.6 574.6 385.0 575.1 384.9 575.6 385.1 576.1 385.2 576.6 385.3 577.1 384.9 577.6 384.4 578.1 383.8 578.6 382.3 579.1 381.5 579.6 379.7 580.1 377.5 580.6 375.7 581.1 372.6 581.6 369.9 582.1 367.1 582.6 364.2 583.1 361.1 583.6 358.0 584.1 356.2 584.6 354.8 585.1 354.8 585.6 355.1 586.1 356.2 586.6 358.1 587.1 361.1 587.6 363.7 588.1 367.0 588.6 370.0 589.1 372.6 589.6 375.2 590.1 377.2 590.6 378.9 591.1 380.7 591.6 381.6 592.1 382.1 592.6 382.4 593.1 382.6 593.6 382.6 594.1 382.3 594.6 382.0 595.1 381.2 595.6 380.4 596.1 380.5 596.6 379.8 597.1 379.4 597.6 379.3 598.1 378.8 598.6 379.2 599.1 379.6 599.6 380.5 600.1 380.7 600.6 381.7 601.1 383.0 601.6 383.8 602.1 384.5 602.6 385.8 603.1 386.0 603.6 387.1 604.1 387.6 604.6 388.2 605.1 388.5 605.6 388.7 606.1 389.1 606.6 388.9 607.1 389.3 607.6 389.2 608.1 389.5 608.6 389.4 609.1 389.5 609.6 390.0 610.1 390.4 610.6 390.1 611.1 390.8 611.6 391.2 612.1 391.0 612.6 391.4 613.1 391.9 613.6 391.7 614.1 391.9 614.6 392.5 615.1 392.0 615.6 392.1 616.1 391.9 616.6 392.2 617.1 392.2 617.6 392.8 618.1 392.7 618.6 392.3 619.1 392.9 619.6 392.7 620.1 392.5 620.6 392.7 621.1 392.7 621.6 392.5 622.1 392.3 622.6 392.5 623.1 392.7 623.6 392.6 624.1 392.5 624.6 392.9 625.1 392.5 625.6 392.9 626.1 392.6 626.6 392.7 627.1 392.5 627.6 392.7 628.1 392.6 628.6 392.4 629.1 392.7 629.6 392.7 630.1 392.9 630.6 392.8 631.1 392.5 631.6 392.6 632.1 392.3 632.6 392.5 633.1 393.0 633.6 393.0 634.1 392.9 634.6 392.8 635.1 392.9 635.6 392.8 636.1 392.4 636.6 392.5 637.1 392.9 637.6 392.9 638.1 392.7 638.6 392.6 639.1 392.5 639.6 392.4 640.1 392.3 640.6 392.0 641.1 392.3 641.6 392.0 642.1 391.8 642.6 391.8 643.1 391.2 643.6 390.5 644.1 390.2 644.6 389.3 645.1 389.3 645.6 388.7 646.1 388.4 646.6 388.6 647.1 389.0 647.6 389.1 648.1 389.5 648.6 390.7 649.1 390.8 649.6 391.5 650.1 391.5 650.6 392.0 651.1 392.0 651.6 392.4 652.1 392.4 652.6 392.4 653.1 392.9 653.6 392.7 654.1 392.3 654.6 392.7 655.1 392.6 655.6 392.5 656.1 392.7 656.6 392.7 657.1 392.8 657.6 392.7 658.1 392.5 658.6 392.7 659.1 393.0 659.6 392.6 660.1 393.0 660.6 393.0 661.1 392.8 661.6 392.9 662.1 392.7 662.6 392.8 663.1 392.7 663.6 393.0 664.1 393.2 664.6 392.8 665.1 393.1 665.6 392.5 666.1 392.7 666.6 392.7 667.1 393.2 667.6 392.8 668.1 393.1 668.6 392.5 669.1 392.9 669.6 393.0 670.1 392.9 670.6 392.4 671.1 392.9 671.6 393.1 672.1 393.2 672.6 393.0 673.1 392.6 673.6 392.9 674.1 393.1 674.6 392.7 675.1 393.0 675.6 392.8 676.1 392.9 676.6 393.0 677.1 392.7 677.6 393.5 678.1 392.9 678.6 392.9 679.1 392.7 679.6 392.9 680.1 392.8 680.6 392.6 681.1 392.6 681.6 392.9 682.1 392.8 682.6 392.3 683.1 392.4 683.6 392.8 684.1 392.8 684.6 392.9 685.1 392.6 685.6 392.9 686.1 392.7 686.6 392.6 687.1 392.7 687.6 392.9 688.1 392.8 688.6 392.8 689.1 392.4 689.6 392.4 690.1 392.1 690.6 392.2 691.1 392.1 691.6 391.9 692.1 392.0 692.6 391.8 693.1 391.8 693.6 391.5 694.1 391.5 694.6 391.2 695.1 391.3 695.6 391.2 696.1 391.2 696.6 391.1 697.1 390.9 697.6 391.0 698.1 391.8 698.6 391.6 699.1 391.8 699.6 391.8 700.1 391.9 700.6 392.7 701.1 392.0 701.6 392.3 702.1 392.4 702.6 392.2 703.1 392.3 703.6 392.4 704.1 392.5 704.6 392.5 705.1 392.8 705.6 392.5 706.1 392.8 706.6 393.0 707.1 392.9 707.6 392.5 708.1 392.1 708.6 392.9 709.1 392.8 709.6 392.6 710.1 393.0 710.6 392.7 711.1 392.8 711.6 392.5 712.1 392.8 712.6 392.6 713.1 392.6 713.6 392.9 714.1 392.8 714.6 392.4 715.1 392.9 715.6 392.9 716.1 392.5 716.6 392.6 717.1 392.7 717.6 392.6 718.1 392.7 718.6 392.8 719.1 392.6 719.6 393.1 720.1 392.5 720.6 392.6 721.1 393.0 721.6 393.1 722.1 392.6 722.6 392.6 723.1 392.4 723.6 392.8 724.1 392.6 724.6 392.4 725.1 392.7 725.6 392.8 726.1 392.7 726.6 393.0 727.1 392.8 727.6 392.6 728.1 392.5 728.6 392.6 729.1 392.7 729.6 392.6 730.1 392.7 730.6 392.5 731.1 392.6 731.6 392.6 732.1 392.4 732.6 392.1 733.1 392.7 733.6 392.4 734.1 392.2 734.6 392.3 735.1 392.2 735.6 391.9 736.1 392.2 736.6 391.9 737.1 392.2 737.6 392.1 738.1 392.3 738.6 392.0 739.1 392.1 739.6 391.9 740.1 391.9 740.6 391.6 741.1 392.1 741.6 391.8 742.1 391.6 742.6 391.8 743.1 391.6 743.6 391.5 744.1 391.6 744.6 391.7 745.1 391.3 745.6 391.0 746.1 391.1 746.6 391.5 747.1 390.9 747.6 391.2 748.1 390.8 748.6 390.9 749.1 390.6 749.6 390.2 750.1 390.3 750.6 390.6 751.1 390.0 751.6 389.9 752.1 389.5 752.6 389.3 753.1 389.1 753.6 388.9 754.1 388.9 754.6 388.0 755.1 387.5 755.6 386.8 756.1 386.1 756.6 385.3 757.1 384.8 757.6 383.3 758.1 382.7 758.6 381.2 759.1 379.3 759.6 377.2 760.1 375.3 760.6 372.9 761.1 370.5 761.6 367.1 762.1 364.0 762.6 360.6 763.1 357.0 763.6 353.3 764.1 349.5 764.6 346.2 765.1 343.5 765.6 341.3 766.1 340.0 766.6 339.8 767.1 340.2 767.6 341.4 768.1 344.0 768.6 346.5 769.1 349.8 769.6 353.9 770.1 356.9 770.6 360.6 771.1 364.0 771.6 367.6 772.1 370.1 772.6 373.1 773.1 375.3 773.6 377.2 774.1 379.4 774.6 381.0 775.1 382.2 775.6 383.5 776.1 384.5 776.6 385.8 777.1 386.4 777.6 387.0 778.1 387.6 778.6 387.9 779.1 388.5 779.6 388.6 780.1 388.8 780.6 389.2 781.1 389.6 781.6 389.8 782.1 390.2 782.6 389.8 783.1 390.3 783.6 390.5 784.1 390.4 784.6 390.8 785.1 390.8 785.6 390.7 786.1 391.3 786.6 390.9 787.1 391.4 787.6 391.2 788.1 391.2 788.6 391.3 789.1 391.4 789.6 391.4 790.1 391.7 790.6 391.3 791.1 392.0 791.6 392.0 792.1 392.1 792.6 391.7 793.1 391.5 793.6 391.8 794.1 392.0 794.6 392.1 795.1 392.0 795.6 392.1 796.1 392.1 796.6 391.8 797.1 392.5 797.6 392.0 798.1 392.3 798.6 392.5 799.1 392.1 799.6 392.3 800.1 392.6 800.6 392.3 801.1 392.6 801.6 392.4 802.1 392.4 802.6 392.5 803.1 392.4 803.6 392.4 804.1 392.6 804.6 392.5 805.1 392.6 805.6 392.2 806.1 392.5 806.6 392.7 807.1 392.7 807.6 392.6 808.1 392.4 808.6 392.4 809.1 392.6 809.6 392.8 810.1 392.6 810.6 392.8 811.1 392.5 811.6 392.8 812.1 392.4 812.6 392.6 813.1 392.4 813.6 392.7 814.1 392.7 814.6 392.4 815.1 392.5 815.6 392.6 816.1 392.3 816.6 392.5 817.1 392.5 817.6 392.8 818.1 392.9 818.6 392.6 819.1 392.6 819.6 392.7 820.1 392.6 820.6 392.6 821.1 392.8 821.6 392.7 822.1 392.7 822.6 392.6 823.1 393.0 823.6 392.6 824.1 392.7 824.6 392.5 825.1 392.6 825.6 392.7 826.1 392.6 826.6 392.8 827.1 392.7 827.6 392.4 828.1 392.2 828.6 392.9 829.1 392.6 829.6 393.0 830.1 392.7 830.6 392.6 831.1 392.8 831.6 392.7 832.1 392.7 832.6 392.5 833.1 392.8 833.6 392.9 834.1 392.6 834.6 393.1 835.1 392.6 835.6 392.7 836.1 392.4 836.6 392.3 837.1 393.1 837.6 393.0 838.1 392.9 838.6 392.3 839.1 392.7 839.6 392.8 840.1 392.7 840.6 392.7 841.1 392.5 841.6 392.6 842.1 392.4 842.6 392.6 843.1 392.7 843.6 392.5 844.1 392.6 844.6 392.5 845.1 392.6 845.6 392.8 846.1 392.6 846.6 392.7 847.1 392.3 847.6 392.5 848.1 392.7 848.6 392.4 849.1 392.5 849.6 392.3 850.1 392.8 850.6 392.4 851.1 392.3 851.6 392.6 852.1 392.7 852.6 392.5 853.1 392.6 853.6 392.4 854.1 392.4 854.6 392.3 855.1 392.2 855.6 392.2 856.1 392.3 856.6 392.2 857.1 392.2 857.6 392.3 858.1 392.1 858.6 391.8 859.1 391.9 859.6 391.7 860.1 391.5 860.6 391.8 861.1 391.4 861.6 391.3 862.1 391.1 862.6 391.2 863.1 390.6 863.6 390.4 864.1 389.6 864.6 388.8 865.1 388.1 865.6 386.9 866.1 385.4 866.6 383.5 867.1 381.7 867.6 379.4 868.1 377.3 868.6 374.8 869.1 372.5 869.6 369.9 870.1 367.3 870.6 365.1 871.1 363.1 871.6 362.3 872.1 361.3 872.6 361.4 873.1 361.4 873.6 362.3 874.1 363.6 874.6 364.8 875.1 366.1 875.6 367.0 876.1 368.3 876.6 368.7 877.1 369.1 877.6 368.9 878.1 368.7 878.6 369.4 879.1 370.3 879.6 371.0 880.1 372.8 880.6 374.9 881.1 376.8 881.6 378.2 882.1 380.3 882.6 381.1 883.1 381.3 883.6 381.2 884.1 381.3 884.6 380.9 885.1 379.7 885.6 378.5 886.1 376.6 886.6 375.2 887.1 373.1 887.6 372.0 888.1 369.9 888.6 367.6 889.1 366.0 889.6 365.0 890.1 363.8 890.6 362.8 891.1 362.4 891.6 362.6 892.1 362.6 892.6 362.8 893.1 364.2 893.6 365.3 894.1 367.0 894.6 369.0 895.1 370.8 895.6 372.5 896.1 374.6 896.6 376.3 897.1 378.4 897.6 379.9 898.1 381.6 898.6 382.9 899.1 384.4 899.6 385.4 900.1 386.4 900.6 387.2 901.1 388.1 901.6 388.4 902.1 389.8 902.6 389.6 903.1 390.1 903.6 390.3 904.1 390.6 904.6 391.0 905.1 391.0 905.6 391.1 906.1 391.1 906.6 391.3 907.1 391.3 907.6 392.0 908.1 391.4 908.6 391.5 909.1 391.8 909.6 392.0 910.1 391.4 910.6 391.5 911.1 391.8 911.6 391.8 912.1 391.4 912.6 391.3 913.1 391.4 913.6 391.6 914.1 391.3 914.6 391.3 915.1 391.0 915.6 390.8 916.1 390.7 916.6 390.3 917.1 390.1 917.6 389.6 918.1 389.4 918.6 389.4 919.1 389.1 919.6 388.9 920.1 389.1 920.6 389.1 921.1 389.1 921.6 389.1 922.1 389.7 922.6 390.3 923.1 389.9 923.6 390.1 924.1 390.5 924.6 390.7 925.1 390.9 925.6 391.1 926.1 391.7 926.6 391.9 927.1 392.2 927.6 392.2 928.1 392.0 928.6 392.4 929.1 392.2 929.6 392.3 930.1 392.2 930.6 392.7 931.1 392.7 931.6 392.4 932.1 392.5 932.6 392.6 933.1 392.6 933.6 392.8 934.1 392.6 934.6 392.7 935.1 392.3 935.6 392.6 936.1 392.3 936.6 393.0 937.1 392.9 937.6 392.8 938.1 392.9 938.6 393.1 939.1 392.9 939.6 392.4 940.1 392.7 940.6 392.2 941.1 392.6 941.6 392.5 942.1 392.7 942.6 392.8 943.1 392.6 943.6 392.7 944.1 392.8 944.6 392.7 945.1 392.7 945.6 392.3 946.1 392.7 946.6 392.9 947.1 392.8 947.6 392.5 948.1 392.7 948.6 392.8 949.1 392.6 949.6 392.9 950.1 392.6 950.6 392.7 951.1 392.8 951.6 393.2 952.1 392.7 952.6 392.7 953.1 392.9 953.6 392.7 954.1 392.8 954.6 392.3 955.1 392.9 955.6 392.8 956.1 392.5 956.6 393.1 957.1 392.8 957.6 392.8 958.1 392.5 958.6 392.5 959.1 392.7 959.6 392.5 960.1 392.9 960.6 393.0 961.1 392.7 961.6 392.5 962.1 392.7 962.6 392.6 963.1 392.8 963.6 392.8 964.1 392.7 964.6 392.8 965.1 393.0 965.6 393.1 966.1 392.7 966.6 392.9 967.1 392.8 967.6 392.6 968.1 393.1 968.6 392.9 969.1 392.8 969.6 392.9 970.1 392.8 970.6 392.6 971.1 393.1 971.6 393.0 972.1 392.8 972.6 393.0 973.1 393.0 973.6 392.7 974.1 392.9 974.6 392.7 975.1 392.9 975.6 392.7 976.1 393.3 976.6 392.7 977.1 392.9 977.6 392.9 978.1 392.7 978.6 392.9 979.1 392.7 979.6 392.7 980.1 392.7 980.6 392.6 981.1 393.0 981.6 392.9 982.1 392.9 982.6 392.5 983.1 392.8 983.6 392.6 984.1 392.7 984.6 393.0 985.1 392.8 985.6 392.7 986.1 392.9 986.6 392.9 987.1 393.1 987.6 392.3 988.1 392.7 988.6 392.6 989.1 392.5 989.6 392.7 990.1 392.4 990.6 392.2 991.1 392.4 991.6 392.6 992.1 393.0 992.6 392.4 993.1 392.3 993.6 392.2 994.1 392.5 994.6 392.5 995.1 392.6 995.6 392.2 996.1 392.3 996.6 392.0 997.1 392.5 997.6 392.1 998.1 391.9 998.6 392.6 999.1 392.5 999.6 392.4 1000.1 392.4 1000.6 392.1 1001.1 392.5 1001.6 392.0 1002.1 392.6 1002.6 392.2 1003.1 391.7 1003.6 392.2 1004.1 392.3 1004.6 391.8 1005.1 392.0 1005.6 391.6 1006.1 391.4 1006.6 390.8 1007.1 391.4 1007.6 390.9 1008.1 390.8 1008.6 390.3 1009.1 390.1 1009.6 390.2 1010.1 389.6 1010.6 389.2 1011.1 388.7 1011.6 388.6 1012.1 388.3 1012.6 387.6 1013.1 387.3 1013.6 386.6 1014.1 386.7 1014.6 385.9 1015.1 385.6 1015.6 385.6 1016.1 384.9 1016.6 384.4 1017.1 384.3 1017.6 384.2 1018.1 384.4 1018.6 383.9 1019.1 383.6 1019.6 383.6 1020.1 383.4 1020.6 382.7 1021.1 382.7 1021.6 382.1 1022.1 381.4 1022.6 380.2 1023.1 379.9 1023.6 379.3 1024.1 378.0 1024.6 377.5 1025.1 376.0 1025.6 374.7 1026.1 374.0 1026.6 373.0 1027.1 372.2 1027.6 371.3 1028.1 371.1 1028.6 370.5 1029.1 370.6 1029.6 370.6 1030.1 371.1 1030.6 372.1 1031.1 372.8 1031.6 374.0 1032.1 375.2 1032.6 376.6 1033.1 378.0 1033.6 379.3 1034.1 380.6 1034.6 381.7 1035.1 382.7 1035.6 383.6 1036.1 384.9 1036.6 385.7 1037.1 386.4 1037.6 387.8 1038.1 387.8 1038.6 388.8 1039.1 389.4 1039.6 389.6 1040.1 390.6 1040.6 390.4 1041.1 390.5 1041.6 391.2 1042.1 390.9 1042.6 390.9 1043.1 391.1 1043.6 391.3 1044.1 391.5 1044.6 391.6 1045.1 391.2 1045.6 391.6 1046.1 392.0 1046.6 391.3 1047.1 391.4 1047.6 391.5 1048.1 391.5 1048.6 391.0 1049.1 390.8 1049.6 390.7 1050.1 391.0 1050.6 390.8 1051.1 390.1 1051.6 390.0 1052.1 390.2 1052.6 390.2 1053.1 390.6 1053.6 390.7 1054.1 391.2 1054.6 391.2 1055.1 391.2 1055.6 391.6 1056.1 391.3 1056.6 391.4 1057.1 391.8 1057.6 392.1 1058.1 391.7 1058.6 392.3 1059.1 392.4 1059.6 392.2 1060.1 392.4 1060.6 392.3 1061.1 392.5 1061.6 392.6 1062.1 392.3 1062.6 392.7 1063.1 392.7 1063.6 392.7 1064.1 392.2 1064.6 392.2 1065.1 392.7 1065.6 392.5 1066.1 392.5 1066.6 392.5 1067.1 392.4 1067.6 392.6 1068.1 392.5 1068.6 392.5 1069.1 392.8 1069.6 392.4 1070.1 392.9 1070.6 392.2 1071.1 393.2 1071.6 392.4 1072.1 392.8 1072.6 392.9 1073.1 392.7 1073.6 392.8 1074.1 392.7 1074.6 392.3 1075.1 392.8 1075.6 392.9 1076.1 392.6 1076.6 392.4 1077.1 392.6 1077.6 392.8 1078.1 392.8 1078.6 392.9 1079.1 392.8 1079.6 392.8 1080.1 392.3 1080.6 393.2 1081.1 392.7 1081.6 392.9 1082.1 392.7 1082.6 392.7 1083.1 392.7 1083.6 393.1 1084.1 393.0 1084.6 392.9 1085.1 393.1 1085.6 392.7 1086.1 392.8 1086.6 392.6 1087.1 393.0 1087.6 392.7 1088.1 392.9 1088.6 393.1 1089.1 392.3 1089.6 393.2 1090.1 392.8 1090.6 392.7 1091.1 392.3 1091.6 392.7 1092.1 392.3 1092.6 392.7 1093.1 392.7 1093.6 393.1 1094.1 392.7 1094.6 392.9 1095.1 393.0 1095.6 393.1 1096.1 392.7 1096.6 392.9 1097.1 392.4 1097.6 392.5 1098.1 392.6 1098.6 392.7 1099.1 392.4 1099.6 392.6 1100.1 392.8 1100.6 392.6 1101.1 392.6 1101.6 392.5 1102.1 393.0 1102.6 393.0 1103.1 392.7 1103.6 392.6 1104.1 393.0 1104.6 392.8 1105.1 392.5 1105.6 392.4 1106.1 392.5 1106.6 393.1 1107.1 392.5 1107.6 393.2 1108.1 392.6 1108.6 392.6 1109.1 392.9 1109.6 392.5 1110.1 392.7 1110.6 392.4 1111.1 392.3 1111.6 392.4 1112.1 392.6 1112.6 392.4 1113.1 392.1 1113.6 392.6 1114.1 392.5 1114.6 392.4 1115.1 392.3 1115.6 392.0 1116.1 392.7 1116.6 392.3 1117.1 392.5 1117.6 392.6 1118.1 392.6 1118.6 392.4 1119.1 392.3 1119.6 392.3 1120.1 392.4 1120.6 392.3 1121.1 392.1 1121.6 392.2 1122.1 392.1 1122.6 392.2 1123.1 392.0 1123.6 392.2 1124.1 391.9 1124.6 391.9 1125.1 391.7 1125.6 391.4 1126.1 391.3 1126.6 391.3 1127.1 391.3 1127.6 391.3 1128.1 390.9 1128.6 390.6 1129.1 390.4 1129.6 390.5 1130.1 390.0 1130.6 389.6 1131.1 389.5 1131.6 388.7 1132.1 388.6 1132.6 388.2 1133.1 387.7 1133.6 387.0 1134.1 387.0 1134.6 386.6 1135.1 385.5 1135.6 385.3 1136.1 384.9 1136.6 384.7 1137.1 383.7 1137.6 383.3 1138.1 383.2 1138.6 383.4 1139.1 383.0 1139.6 383.1 1140.1 383.5 1140.6 383.0 1141.1 383.4 1141.6 384.4 1142.1 384.9 1142.6 384.9 1143.1 385.8 1143.6 386.2 1144.1 386.8 1144.6 387.0 1145.1 387.6 1145.6 387.9 1146.1 388.5 1146.6 388.8 1147.1 389.5 1147.6 389.6 1148.1 389.4 1148.6 390.0 1149.1 390.4 1149.6 390.4 1150.1 390.6 1150.6 390.5 1151.1 390.7 1151.6 390.4 1152.1 390.7 1152.6 390.2 1153.1 390.7 1153.6 390.0 1154.1 389.7 1154.6 390.0 1155.1 389.6 1155.6 389.4 1156.1 389.1 1156.6 388.6 1157.1 388.0 1157.6 387.8 1158.1 387.4 1158.6 386.9 1159.1 386.7 1159.6 385.7 1160.1 385.4 1160.6 385.0 1161.1 384.4 1161.6 383.9 1162.1 383.8 1162.6 384.0 1163.1 383.6 1163.6 383.8 1164.1 383.6 1164.6 384.1 1165.1 384.2 1165.6 384.5 1166.1 385.2 1166.6 385.6 1167.1 386.5 1167.6 386.3 1168.1 387.3 1168.6 388.1 1169.1 388.5 1169.6 388.7 1170.1 389.1 1170.6 389.6 1171.1 390.1 1171.6 390.5 1172.1 390.8 1172.6 391.2 1173.1 391.1 1173.6 391.3 1174.1 391.4 1174.6 391.6 1175.1 392.0 1175.6 392.2 1176.1 392.7 1176.6 392.4 1177.1 392.4 1177.6 392.7 1178.1 392.3 1178.6 392.6 1179.1 392.8 1179.6 392.8 1180.1 392.7 1180.6 392.6 1181.1 392.4 1181.6 392.7 1182.1 392.6 1182.6 392.9 1183.1 392.7 1183.6 392.9 1184.1 392.4 1184.6 393.0 1185.1 392.6 1185.6 392.5 1186.1 392.5 1186.6 392.7 1187.1 393.1 1187.6 393.0 1188.1 392.6 1188.6 392.9 1189.1 392.8 1189.6 392.5 1190.1 392.7 1190.6 392.5 1191.1 392.7 1191.6 392.3 1192.1 392.7 1192.6 392.7 1193.1 392.7 1193.6 392.7 1194.1 393.1 1194.6 392.8 1195.1 393.0 1195.6 393.1 1196.1 393.1 1196.6 393.1 1197.1 392.8 1197.6 392.7 1198.1 392.8 1198.6 392.8 1199.1 392.9 1199.6 392.9 1200.1 393.1 1200.6 392.9 1201.1 393.3 1201.6 393.1 1202.1 392.8 1202.6 393.1 1203.1 392.3 1203.6 393.2 1204.1 393.0 1204.6 393.0 1205.1 392.6 1205.6 393.4 1206.1 392.9 1206.6 392.9 1207.1 393.1 1207.6 392.9 1208.1 392.7 1208.6 393.0 1209.1 392.7 1209.6 393.1 1210.1 392.9 1210.6 393.1 1211.1 392.6 1211.6 393.1 1212.1 392.9 1212.6 393.3 1213.1 392.7 1213.6 393.2 1214.1 393.0 1214.6 393.0 1215.1 392.7 1215.6 393.0 1216.1 393.0 1216.6 392.7 1217.1 392.6 1217.6 392.6 1218.1 393.1 1218.6 392.8 1219.1 393.0 1219.6 392.8 1220.1 392.8 1220.6 392.8 1221.1 392.6 1221.6 393.0 1222.1 392.7 1222.6 392.7 1223.1 392.4 1223.6 392.7 1224.1 392.5 1224.6 392.5 1225.1 392.8 1225.6 392.3 1226.1 392.5 1226.6 392.6 1227.1 392.7 1227.6 392.3 1228.1 392.5 1228.6 392.4 1229.1 392.1 1229.6 391.8 1230.1 391.8 1230.6 392.3 1231.1 392.1 1231.6 391.8 1232.1 391.9 1232.6 391.8 1233.1 391.8 1233.6 391.7 1234.1 392.1 1234.6 391.4 1235.1 391.5 1235.6 391.1 1236.1 391.0 1236.6 390.8 1237.1 390.7 1237.6 390.5 1238.1 390.4 1238.6 390.1 1239.1 389.6 1239.6 389.8 1240.1 388.8 1240.6 388.7 1241.1 388.6 1241.6 387.5 1242.1 387.3 1242.6 386.7 1243.1 385.8 1243.6 384.7 1244.1 384.6 1244.6 383.5 1245.1 382.6 1245.6 382.2 1246.1 381.0 1246.6 380.6 1247.1 379.7 1247.6 379.5 1248.1 378.8 1248.6 378.9 1249.1 378.9 1249.6 379.2 1250.1 379.8 1250.6 380.4 1251.1 381.1 1251.6 382.1 1252.1 382.6 1252.6 383.1 1253.1 384.1 1253.6 384.9 1254.1 385.8 1254.6 386.5 1255.1 387.0 1255.6 387.3 1256.1 387.9 1256.6 387.9 1257.1 388.8 1257.6 388.9 1258.1 389.1 1258.6 389.1 1259.1 389.4 1259.6 389.3 1260.1 389.6 1260.6 389.2 1261.1 389.7 1261.6 389.5 1262.1 389.8 1262.6 389.2 1263.1 389.1 1263.6 389.1 1264.1 388.9 1264.6 388.8 1265.1 388.5 1265.6 388.4 1266.1 388.5 1266.6 388.6 1267.1 388.5 1267.6 388.6 1268.1 388.9 1268.6 389.3 1269.1 389.3 1269.6 389.7 1270.1 390.0 1270.6 390.2 1271.1 390.2 1271.6 390.5 1272.1 390.4 1272.6 390.9 1273.1 391.3 1273.6 391.2 1274.1 391.9 1274.6 392.1 1275.1 391.9 1275.6 392.3 1276.1 391.9 1276.6 392.1 1277.1 392.3 1277.6 392.5 1278.1 392.5 1278.6 392.5 1279.1 393.1 1279.6 392.8 1280.1 392.8 1280.6 393.0 1281.1 392.9 1281.6 392.8 1282.1 392.8 1282.6 392.6 1283.1 393.3 1283.6 392.8 1284.1 392.7 1284.6 392.8 1285.1 392.7 1285.6 393.4 1286.1 393.1 1286.6 393.4 1287.1 393.4 1287.6 393.2 1288.1 393.2 1288.6 393.0 1289.1 393.1 1289.6 393.0 1290.1 393.2 1290.6 393.0 1291.1 393.4 1291.6 393.3 1292.1 393.2 1292.6 392.9 1293.1 393.3 1293.6 393.4 1294.1 393.2 1294.6 393.0 1295.1 393.3 1295.6 393.5 1296.1 392.9 1296.6 393.4 1297.1 392.9 1297.6 393.3 1298.1 393.6 1298.6 393.3 1299.1 393.4 1299.6 393.2 1300.1 393.3 1300.6 393.8 1301.1 393.6 1301.6 393.2 1302.1 393.2 1302.6 393.3 1303.1 393.8 1303.6 393.4 1304.1 393.6 1304.6 393.3 1305.1 393.1 1305.6 393.6 1306.1 393.3 1306.6 393.2 1307.1 393.2 1307.6 393.2 1308.1 393.2 1308.6 393.1 1309.1 393.6 1309.6 393.5 1310.1 393.6 1310.6 393.3 1311.1 393.5 1311.6 393.4 1312.1 393.6 1312.6 393.6 1313.1 393.5 1313.6 393.3 1314.1 393.2 1314.6 393.2 1315.1 393.3 1315.6 393.3 1316.1 393.2 1316.6 393.8 1317.1 393.5 1317.6 393.0 1318.1 393.2 1318.6 393.2 1319.1 393.5 1319.6 393.7 1320.1 393.2 1320.6 393.6 1321.1 393.4 1321.6 393.7 1322.1 393.7 1322.6 393.5 1323.1 393.6 1323.6 393.5 1324.1 393.4 1324.6 393.2 1325.1 393.5 1325.6 393.5 1326.1 393.4 1326.6 393.5 1327.1 393.4 1327.6 393.3 1328.1 393.4 1328.6 393.7 1329.1 393.4 1329.6 393.8 1330.1 393.3 1330.6 393.2 1331.1 393.5 1331.6 393.7 1332.1 393.4 1332.6 393.6 1333.1 393.7 1333.6 393.7 1334.1 393.5 1334.6 393.5 1335.1 393.2"/>
</g>
<circle cx="358.7" cy="69.9" r="5.70" fill="#000"/>
<circle cx="583.0" cy="255.8" r="5.70" fill="#000"/>
<circle cx="762.8" cy="242.8" r="5.70" fill="#000"/>
<circle cx="870.7" cy="263.9" r="5.70" fill="#000"/>
<circle cx="893.5" cy="263.9" r="5.70" fill="#000"/>
<circle cx="1025.4" cy="272.8" r="5.70" fill="#000"/>
<path fill="#0000FF" d="M397.9 253.0L405.4 260.5L397.9 268.0L390.4 260.5Z"/>
<path fill="#0000FF" d="M552.2 270.1L559.7 277.6L552.2 285.1L544.7 277.6Z"/>
<path fill="#0000FF" d="M644.9 279.0L652.4 286.5L644.9 294.0L637.4 286.5Z"/>
<path fill="#0000FF" d="M1110.8 37.1L1120.5 46.8L1110.8 56.5L1101.1 46.8Z"/>
<circle cx="1108.4" cy="102.5" r="8.80" fill="#000"/>
<g font-family="'Liberation Serif', serif" font-size="44.6" fill="#000">
<text x="1135.3" y="59.5">Rutile</text>
<text x="1129.6" y="115.1">Anatase</text>
<text x="131.6" y="292.2">TiO<tspan font-size="29" dy="3.6">2</tspan></text>
<text x="130.6" y="377.5">Au<tspan font-size="29" dy="3.6">0.1</tspan><tspan dy="-3.6">/TiO</tspan><tspan font-size="29" dy="3.6">2</tspan></text>
<text x="126.6" y="461.1">Au<tspan font-size="29" dy="3.6">0.3</tspan><tspan dy="-3.6">/TiO</tspan><tspan font-size="29" dy="3.6">2</tspan></text>
<text x="126.6" y="543.2">Au<tspan font-size="29" dy="3.6">0.5</tspan><tspan dy="-3.6">/TiO</tspan><tspan font-size="29" dy="3.6">2</tspan></text>
<text x="126.6" y="624.6">Au<tspan font-size="29" dy="3.6">1.0</tspan><tspan dy="-3.6">/TiO</tspan><tspan font-size="29" dy="3.6">2</tspan></text>
<text x="87.5" y="728.2" text-anchor="middle">10</text>
<text x="265.9" y="728.2" text-anchor="middle">20</text>
<text x="444.2" y="728.2" text-anchor="middle">30</text>
<text x="622.6" y="728.2" text-anchor="middle">40</text>
<text x="800.9" y="728.2" text-anchor="middle">50</text>
<text x="979.3" y="728.2" text-anchor="middle">60</text>
<text x="1157.6" y="728.2" text-anchor="middle">70</text>
<text x="1336.0" y="728.2" text-anchor="middle">80</text>
<text x="711.8" y="788.5" text-anchor="middle">2θ (degree)</text>
<text transform="translate(37.2 377.2) rotate(-90)" text-anchor="middle">Intensity (a.u.)</text>
</g>
</svg>
</body>
</html>
